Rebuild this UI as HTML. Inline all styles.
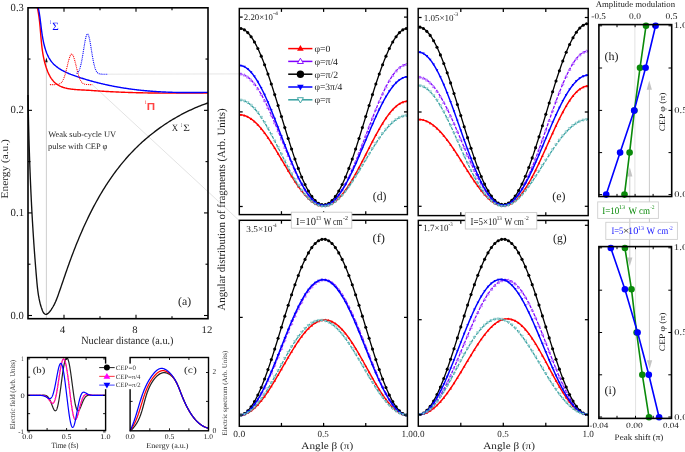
<!DOCTYPE html>
<html><head><meta charset="utf-8"><style>
html,body{margin:0;padding:0;background:#fff;width:685px;height:452px;overflow:hidden}
svg{display:block;font-family:"Liberation Serif", serif;text-rendering:geometricPrecision;will-change:transform}
</style></head><body>
<svg width="685" height="452" viewBox="0 0 685 452">
<rect width="685" height="452" fill="#fff"/>
<line x1="46.40" y1="318.00" x2="46.40" y2="60.00" stroke="#c9c9c9" stroke-width="0.90"/>
<path d="M46.4 57.5L45.1 62.3L47.7 62.3Z" fill="#111"/>
<line x1="107.70" y1="74.20" x2="239.30" y2="73.90" stroke="#e0e0e0" stroke-width="0.80"/>
<line x1="92.20" y1="84.60" x2="242.30" y2="223.40" stroke="#dcdcdc" stroke-width="0.80"/>
<path d="M28.01 95.00L28.04 96.68L28.07 98.35L28.10 100.02L28.12 101.70L28.16 103.37L28.19 105.04L28.22 106.71L28.25 108.39L28.28 110.06L28.32 111.73L28.35 113.41L28.39 115.08L28.42 116.75L28.46 118.43L28.50 120.10L28.54 121.77L28.57 123.45L28.61 125.12L28.66 126.79L28.70 128.47L28.74 130.14L28.78 131.81L28.83 133.49L28.87 135.16L28.92 136.83L28.96 138.51L29.01 140.18L29.06 141.85L29.10 143.53L29.15 145.20L29.20 146.87L29.26 148.55L29.31 150.22L29.36 151.90L29.42 153.57L29.47 155.24L29.53 156.92L29.58 158.59L29.64 160.26L29.70 161.94L29.76 163.61L29.82 165.28L29.88 166.96L29.94 168.63L30.01 170.30L30.07 171.98L30.14 173.65L30.20 175.32L30.27 177.00L30.34 178.67L30.41 180.34L30.48 182.01L30.55 183.69L30.62 185.36L30.70 187.03L30.77 188.71L30.85 190.38L30.92 192.05L31.00 193.72L31.08 195.40L31.16 197.07L31.24 198.74L31.32 200.41L31.41 202.08L31.49 203.76L31.58 205.43L31.67 207.10L31.75 208.77L31.84 210.44L31.93 212.11L32.03 213.79L32.12 215.46L32.21 217.13L32.31 218.80L32.40 220.47L32.50 222.14L32.60 223.81L32.70 225.48L32.80 227.15L32.91 228.82L33.01 230.49L33.11 232.16L33.22 233.83L33.33 235.50L33.44 237.17L33.55 238.84L33.66 240.51L33.77 242.18L33.89 243.85L34.00 245.52L34.12 247.19L34.24 248.86L34.36 250.52L34.48 252.19L34.60 253.86L34.73 255.53L34.85 257.20L34.98 258.86L35.11 260.53L35.24 262.20L35.37 263.86L35.50 265.53L35.63 267.20L35.77 268.86L35.91 270.53L36.04 272.20L36.18 273.86L36.33 275.53L36.47 277.19L36.61 278.86L36.76 280.52L36.91 282.19L37.06 283.85L37.22 285.52L37.39 287.19L37.58 288.86L37.78 290.53L38.00 292.20L38.25 293.87L38.51 295.55L38.81 297.23L39.13 298.92L39.49 300.61L39.88 302.30L40.31 304.00L40.79 305.70L41.30 307.41L41.87 309.10L42.49 310.69L43.17 312.09L43.91 313.23L44.74 314.01L45.64 314.36L46.62 314.23L47.66 313.67L48.74 312.74L49.84 311.52L50.93 310.08L51.99 308.48L53.01 306.78L53.94 305.07L54.79 303.38L55.55 301.74L56.24 300.13L56.87 298.55L57.47 296.98L58.03 295.43L58.57 293.88L59.12 292.33L59.65 290.78L60.19 289.22L60.73 287.67L61.26 286.11L61.80 284.55L62.33 282.99L62.87 281.42L63.40 279.86L63.94 278.29L64.47 276.73L65.01 275.16L65.55 273.59L66.10 272.02L66.64 270.45L67.19 268.88L67.75 267.31L68.30 265.74L68.87 264.17L69.43 262.60L70.00 261.03L70.58 259.46L71.16 257.89L71.74 256.32L72.33 254.75L72.93 253.18L73.52 251.62L74.13 250.05L74.74 248.49L75.35 246.93L75.97 245.37L76.59 243.81L77.22 242.25L77.86 240.70L78.50 239.14L79.15 237.59L79.80 236.04L80.46 234.49L81.12 232.95L81.79 231.41L82.46 229.87L83.15 228.33L83.83 226.80L84.53 225.26L85.23 223.74L85.94 222.21L86.65 220.69L87.37 219.17L88.10 217.66L88.83 216.15L89.57 214.64L90.32 213.14L91.08 211.64L91.84 210.14L92.61 208.65L93.38 207.17L94.17 205.68L94.96 204.21L95.76 202.73L96.57 201.27L97.38 199.80L98.20 198.35L99.03 196.89L99.87 195.45L100.72 194.00L101.57 192.57L102.44 191.14L103.31 189.71L104.19 188.29L105.08 186.88L105.97 185.47L106.88 184.07L107.79 182.68L108.72 181.29L109.65 179.91L110.59 178.54L111.54 177.17L112.50 175.81L113.47 174.45L114.45 173.11L115.43 171.77L116.43 170.44L117.44 169.11L118.46 167.80L119.48 166.49L120.52 165.18L121.56 163.89L122.62 162.61L123.69 161.33L124.76 160.06L125.85 158.80L126.95 157.55L128.06 156.31L129.17 155.07L130.30 153.85L131.44 152.63L132.59 151.42L133.75 150.23L134.93 149.04L136.11 147.86L137.31 146.69L138.51 145.53L139.73 144.38L140.95 143.24L142.19 142.11L143.44 140.99L144.70 139.88L145.97 138.78L147.24 137.69L148.53 136.62L149.83 135.55L151.13 134.49L152.45 133.45L153.78 132.41L155.11 131.39L156.45 130.38L157.81 129.38L159.17 128.39L160.54 127.41L161.91 126.44L163.30 125.49L164.69 124.55L166.09 123.62L167.50 122.70L168.92 121.80L170.34 120.90L171.78 120.02L173.21 119.16L174.66 118.30L176.11 117.46L177.57 116.63L179.04 115.81L180.51 115.01L181.99 114.22L183.48 113.44L184.97 112.68L186.47 111.93L187.97 111.20L189.48 110.48L190.99 109.77L192.51 109.08L194.04 108.40L195.57 107.73L197.10 107.08L198.64 106.45L200.18 105.83L201.73 105.22L203.29 104.63L204.84 104.05L206.41 103.49L207.97 102.94" fill="none" stroke="#111" stroke-width="1.35"/>
<path d="M37.40 7.86L37.56 8.61L37.71 9.35L37.86 10.10L38.00 10.85L38.14 11.61L38.27 12.36L38.40 13.11L38.52 13.87L38.64 14.63L38.76 15.39L38.87 16.15L38.97 16.92L39.08 17.68L39.17 18.45L39.27 19.22L39.36 19.99L39.45 20.76L39.54 21.53L39.62 22.30L39.70 23.08L39.78 23.85L39.86 24.63L39.93 25.40L40.00 26.18L40.08 26.96L40.15 27.74L40.21 28.52L40.28 29.30L40.35 30.08L40.41 30.86L40.48 31.65L40.54 32.43L40.61 33.21L40.67 34.00L40.74 34.78L40.81 35.57L40.87 36.35L40.94 37.13L41.01 37.92L41.08 38.70L41.15 39.49L41.22 40.27L41.29 41.06L41.37 41.84L41.45 42.63L41.53 43.41L41.61 44.20L41.69 44.98L41.78 45.76L41.87 46.55L41.97 47.33L42.06 48.11L42.17 48.89L42.27 49.67L42.38 50.45L42.49 51.23L42.61 52.01L42.73 52.79L42.86 53.56L42.99 54.34L43.12 55.11L43.26 55.89L43.41 56.66L43.56 57.43L43.72 58.20L43.88 58.97L44.05 59.74L44.23 60.50L44.41 61.27L44.60 62.03L44.80 62.79L45.00 63.55L45.21 64.31L45.43 65.07L45.65 65.82L45.88 66.57L46.13 67.33L46.37 68.08L46.63 68.82L46.90 69.57L47.17 70.30L47.46 71.04L47.75 71.77L48.06 72.49L48.38 73.20L48.71 73.91L49.05 74.60L49.40 75.29L49.76 75.96L50.14 76.63L50.53 77.28L50.93 77.92L51.35 78.54L51.79 79.15L52.23 79.75L52.70 80.33L53.18 80.89L53.67 81.43L54.18 81.96L54.71 82.46L55.25 82.95L55.81 83.41L56.39 83.86L56.98 84.28L57.59 84.69L58.21 85.08L58.84 85.45L59.49 85.80L60.15 86.13L60.82 86.44L61.51 86.73L62.21 87.00L62.91 87.26L63.63 87.50L64.36 87.72L65.09 87.93L65.84 88.12L66.59 88.30L67.35 88.47L68.12 88.62L68.89 88.76L69.67 88.89L70.46 89.01L71.25 89.12L72.05 89.22L72.85 89.31L73.66 89.40L74.46 89.47L75.28 89.54L76.09 89.60L76.90 89.66L77.72 89.72L78.53 89.77L79.35 89.81L80.17 89.85L80.98 89.90L81.80 89.94L82.61 89.97L83.42 90.01L84.23 90.05L85.03 90.09L85.83 90.14L86.63 90.18L87.42 90.23L88.21 90.28L89.00 90.32L89.78 90.37L90.56 90.42L91.34 90.48L92.12 90.53L92.90 90.58L93.67 90.63L94.44 90.69L95.22 90.74L95.99 90.79L96.76 90.85L97.53 90.90L98.30 90.95L99.07 91.00L99.84 91.06L100.61 91.11L101.38 91.16L102.15 91.20L102.92 91.25L103.69 91.30L104.47 91.35L105.24 91.39L106.01 91.44L106.78 91.48L107.55 91.52L108.33 91.57L109.10 91.61L109.87 91.65L110.65 91.69L111.42 91.73L112.20 91.77L112.97 91.81L113.74 91.85L114.52 91.88L115.29 91.92L116.07 91.96L116.84 91.99L117.62 92.03L118.39 92.06L119.17 92.09L119.94 92.13L120.72 92.16L121.50 92.19L122.27 92.22L123.05 92.25L123.83 92.28L124.60 92.31L125.38 92.34L126.16 92.37L126.93 92.39L127.71 92.42L128.49 92.45L129.27 92.47L130.04 92.50L130.82 92.52L131.60 92.54L132.38 92.57L133.16 92.59L133.94 92.61L134.71 92.63L135.49 92.65L136.27 92.68L137.05 92.70L137.83 92.71L138.61 92.73L139.39 92.75L140.17 92.77L140.95 92.79L141.73 92.81L142.50 92.82L143.28 92.84L144.06 92.85L144.84 92.87L145.62 92.88L146.40 92.90L147.18 92.91L147.96 92.93L148.74 92.94L149.52 92.95L150.30 92.96L151.08 92.98L151.87 92.99L152.65 93.00L153.43 93.01L154.21 93.02L154.99 93.03L155.77 93.04L156.55 93.05L157.33 93.06L158.11 93.06L158.89 93.07L159.67 93.08L160.45 93.09L161.23 93.09L162.01 93.10L162.79 93.11L163.58 93.11L164.36 93.12L165.14 93.12L165.92 93.13L166.70 93.13L167.48 93.14L168.26 93.14L169.04 93.15L169.82 93.15L170.60 93.15L171.38 93.16L172.16 93.16L172.94 93.16L173.73 93.16L174.51 93.16L175.29 93.17L176.07 93.17L176.85 93.17L177.63 93.17L178.41 93.17L179.19 93.17L179.97 93.17L180.75 93.17L181.53 93.17L182.31 93.17L183.09 93.17L183.87 93.17L184.65 93.17L185.43 93.17L186.21 93.17L186.99 93.17L187.77 93.17L188.55 93.16L189.33 93.16L190.11 93.16L190.89 93.16L191.67 93.16L192.45 93.15L193.23 93.15L194.00 93.15L194.78 93.15L195.56 93.14L196.34 93.14L197.12 93.14L197.90 93.14L198.68 93.13L199.45 93.13L200.23 93.13L201.01 93.12L201.79 93.12L202.56 93.12L203.34 93.11L204.12 93.11L204.90 93.11L205.67 93.10L206.45 93.10L207.23 93.10L208.00 93.09" fill="none" stroke="#f00" stroke-width="1.4"/>
<path d="M38.29 7.85L38.43 8.54L38.57 9.22L38.71 9.92L38.84 10.61L38.97 11.31L39.09 12.01L39.21 12.71L39.33 13.41L39.44 14.12L39.55 14.83L39.66 15.54L39.76 16.25L39.86 16.96L39.96 17.68L40.06 18.40L40.15 19.11L40.25 19.84L40.34 20.56L40.43 21.28L40.52 22.01L40.61 22.73L40.70 23.46L40.79 24.19L40.87 24.92L40.96 25.65L41.05 26.38L41.14 27.11L41.23 27.85L41.33 28.58L41.42 29.32L41.51 30.05L41.61 30.79L41.71 31.53L41.81 32.26L41.92 33.00L42.02 33.74L42.13 34.48L42.25 35.21L42.36 35.95L42.49 36.69L42.61 37.43L42.74 38.17L42.87 38.90L43.01 39.64L43.15 40.38L43.30 41.12L43.45 41.85L43.61 42.59L43.78 43.32L43.95 44.06L44.13 44.79L44.31 45.53L44.50 46.26L44.70 46.99L44.91 47.72L45.12 48.44L45.34 49.16L45.57 49.88L45.81 50.60L46.05 51.30L46.31 52.01L46.57 52.71L46.85 53.40L47.13 54.08L47.43 54.76L47.73 55.43L48.05 56.09L48.38 56.74L48.71 57.38L49.06 58.01L49.43 58.63L49.80 59.24L50.19 59.83L50.59 60.42L51.00 60.99L51.43 61.55L51.87 62.10L52.32 62.63L52.78 63.15L53.26 63.66L53.75 64.16L54.25 64.64L54.76 65.12L55.28 65.58L55.81 66.04L56.35 66.48L56.90 66.91L57.46 67.33L58.03 67.75L58.60 68.15L59.19 68.55L59.78 68.93L60.39 69.31L61.00 69.68L61.61 70.04L62.24 70.39L62.87 70.73L63.51 71.07L64.15 71.40L64.80 71.73L65.46 72.04L66.12 72.35L66.78 72.66L67.45 72.95L68.13 73.25L68.80 73.53L69.49 73.82L70.17 74.09L70.86 74.37L71.55 74.63L72.25 74.90L72.94 75.16L73.64 75.41L74.34 75.67L75.04 75.92L75.74 76.16L76.45 76.41L77.15 76.65L77.86 76.89L78.56 77.13L79.26 77.36L79.97 77.60L80.67 77.83L81.38 78.06L82.08 78.28L82.79 78.51L83.50 78.73L84.20 78.95L84.91 79.17L85.62 79.38L86.32 79.60L87.03 79.81L87.74 80.02L88.45 80.22L89.15 80.43L89.86 80.63L90.57 80.83L91.28 81.03L91.99 81.23L92.70 81.42L93.41 81.62L94.12 81.81L94.83 82.00L95.54 82.18L96.25 82.37L96.96 82.55L97.67 82.73L98.39 82.91L99.10 83.08L99.81 83.26L100.52 83.43L101.23 83.60L101.95 83.77L102.66 83.94L103.37 84.10L104.09 84.27L104.80 84.43L105.51 84.59L106.23 84.74L106.94 84.90L107.66 85.05L108.37 85.20L109.09 85.35L109.80 85.50L110.52 85.65L111.24 85.79L111.95 85.94L112.67 86.08L113.39 86.22L114.10 86.35L114.82 86.49L115.54 86.62L116.25 86.75L116.97 86.88L117.69 87.01L118.41 87.14L119.13 87.26L119.85 87.39L120.56 87.51L121.28 87.63L122.00 87.75L122.72 87.86L123.44 87.98L124.16 88.09L124.88 88.20L125.60 88.31L126.32 88.42L127.04 88.53L127.76 88.63L128.49 88.73L129.21 88.83L129.93 88.94L130.65 89.03L131.37 89.13L132.09 89.23L132.82 89.32L133.54 89.41L134.26 89.50L134.98 89.59L135.71 89.68L136.43 89.77L137.15 89.85L137.88 89.93L138.60 90.01L139.33 90.09L140.05 90.17L140.77 90.25L141.50 90.33L142.22 90.40L142.95 90.47L143.67 90.55L144.40 90.62L145.12 90.68L145.85 90.75L146.58 90.82L147.30 90.88L148.03 90.94L148.75 91.01L149.48 91.07L150.21 91.13L150.93 91.18L151.66 91.24L152.39 91.30L153.12 91.35L153.84 91.40L154.57 91.45L155.30 91.50L156.03 91.55L156.75 91.60L157.48 91.65L158.21 91.69L158.94 91.73L159.67 91.78L160.40 91.82L161.13 91.86L161.86 91.90L162.58 91.93L163.31 91.97L164.04 92.01L164.77 92.04L165.50 92.07L166.23 92.10L166.96 92.14L167.69 92.16L168.42 92.19L169.15 92.22L169.88 92.25L170.62 92.27L171.35 92.30L172.08 92.32L172.81 92.34L173.54 92.36L174.27 92.38L175.00 92.40L175.73 92.42L176.47 92.43L177.20 92.45L177.93 92.47L178.66 92.48L179.39 92.49L180.13 92.50L180.86 92.51L181.59 92.52L182.32 92.53L183.06 92.54L183.79 92.55L184.52 92.55L185.26 92.56L185.99 92.56L186.72 92.57L187.46 92.57L188.19 92.57L188.92 92.57L189.66 92.57L190.39 92.57L191.13 92.57L191.86 92.57L192.59 92.56L193.33 92.56L194.06 92.55L194.80 92.55L195.53 92.54L196.27 92.53L197.00 92.53L197.74 92.52L198.47 92.51L199.21 92.50L199.94 92.48L200.68 92.47L201.41 92.46L202.15 92.45L202.88 92.43L203.62 92.42L204.35 92.40L205.09 92.39L205.82 92.37L206.56 92.35L207.30 92.33L208.03 92.32" fill="none" stroke="#00f" stroke-width="1.4"/>
<path d="M49.90 84.60L50.17 84.60L50.43 84.60L50.70 84.60L50.96 84.60L51.23 84.60L51.50 84.60L51.76 84.60L52.03 84.60L52.29 84.60L52.56 84.60L52.83 84.60L53.09 84.60L53.36 84.59L53.62 84.59L53.89 84.59L54.16 84.59L54.42 84.58L54.69 84.58L54.95 84.57L55.22 84.57L55.49 84.56L55.75 84.55L56.02 84.54L56.28 84.52L56.55 84.51L56.82 84.49L57.08 84.46L57.35 84.43L57.62 84.39L57.88 84.35L58.15 84.30L58.41 84.24L58.68 84.17L58.95 84.09L59.21 84.00L59.48 83.89L59.74 83.77L60.01 83.63L60.28 83.46L60.54 83.28L60.81 83.07L61.07 82.83L61.34 82.56L61.61 82.26L61.87 81.92L62.14 81.55L62.40 81.14L62.67 80.69L62.94 80.20L63.20 79.66L63.47 79.07L63.73 78.43L64.00 77.75L64.27 77.02L64.53 76.24L64.80 75.42L65.06 74.54L65.33 73.63L65.60 72.67L65.86 71.68L66.13 70.65L66.39 69.59L66.66 68.52L66.93 67.42L67.19 66.32L67.46 65.22L67.72 64.12L67.99 63.04L68.26 61.98L68.52 60.95L68.79 59.96L69.05 59.03L69.32 58.15L69.59 57.35L69.85 56.61L70.12 55.96L70.38 55.40L70.65 54.93L70.92 54.57L71.18 54.30L71.45 54.15L71.72 54.10L71.98 54.16L72.25 54.33L72.51 54.60L72.78 54.98L73.05 55.46L73.31 56.03L73.58 56.69L73.84 57.43L74.11 58.25L74.38 59.13L74.64 60.07L74.91 61.06L75.17 62.10L75.44 63.16L75.71 64.24L75.97 65.34L76.24 66.45L76.50 67.55L76.77 68.64L77.04 69.71L77.30 70.77L77.57 71.79L77.83 72.78L78.10 73.73L78.37 74.64L78.63 75.51L78.90 76.33L79.16 77.11L79.43 77.83L79.70 78.51L79.96 79.14L80.23 79.72L80.49 80.25L80.76 80.74L81.03 81.19L81.29 81.60L81.56 81.96L81.82 82.30L82.09 82.59L82.36 82.86L82.62 83.09L82.89 83.30L83.15 83.48L83.42 83.64L83.69 83.78L83.95 83.91L84.22 84.01L84.48 84.10L84.75 84.18L85.02 84.25L85.28 84.31L85.55 84.36L85.82 84.40L86.08 84.43L86.35 84.46L86.61 84.49L86.88 84.51L87.15 84.53L87.41 84.54L87.68 84.55L87.94 84.56L88.21 84.57L88.48 84.57L88.74 84.58L89.01 84.58L89.27 84.59L89.54 84.59L89.81 84.59L90.07 84.59L90.34 84.60L90.60 84.60L90.87 84.60L91.14 84.60L91.40 84.60L91.67 84.60L91.93 84.60L92.20 84.60" fill="none" stroke="#f00" stroke-width="1.1" stroke-dasharray="1 0.9"/>
<path d="M76.60 73.41L76.80 73.29L76.99 73.16L77.19 73.01L77.38 72.84L77.58 72.65L77.77 72.44L77.97 72.20L78.16 71.95L78.36 71.66L78.56 71.34L78.75 71.00L78.95 70.62L79.14 70.21L79.34 69.75L79.53 69.27L79.73 68.74L79.93 68.17L80.12 67.56L80.32 66.90L80.51 66.20L80.71 65.45L80.90 64.66L81.10 63.83L81.29 62.95L81.49 62.02L81.69 61.05L81.88 60.04L82.08 59.00L82.27 57.91L82.47 56.79L82.66 55.65L82.86 54.48L83.05 53.28L83.25 52.07L83.45 50.85L83.64 49.63L83.84 48.40L84.03 47.18L84.23 45.98L84.42 44.80L84.62 43.64L84.82 42.52L85.01 41.45L85.21 40.42L85.40 39.44L85.60 38.53L85.79 37.69L85.99 36.92L86.18 36.24L86.38 35.63L86.58 35.12L86.77 34.70L86.97 34.38L87.16 34.15L87.36 34.03L87.55 34.00L87.75 34.08L87.94 34.26L88.14 34.54L88.34 34.92L88.53 35.39L88.73 35.95L88.92 36.60L89.12 37.33L89.31 38.14L89.51 39.02L89.71 39.97L89.90 40.97L90.10 42.03L90.29 43.13L90.49 44.27L90.68 45.44L90.88 46.64L91.07 47.85L91.27 49.07L91.47 50.30L91.66 51.52L91.86 52.73L92.05 53.94L92.25 55.12L92.44 56.28L92.64 57.41L92.83 58.51L93.03 59.57L93.23 60.60L93.42 61.59L93.62 62.53L93.81 63.43L94.01 64.29L94.20 65.10L94.40 65.87L94.59 66.59L94.79 67.26L94.99 67.90L95.18 68.48L95.38 69.03L95.57 69.54L95.77 70.01L95.96 70.44L96.16 70.83L96.36 71.19L96.55 71.52L96.75 71.82L96.94 72.09L97.14 72.34L97.33 72.56L97.53 72.75L97.72 72.93L97.92 73.09L98.12 73.23L98.31 73.36L98.51 73.47L98.70 73.57L98.90 73.65L99.09 73.73L99.29 73.79L99.48 73.85L99.68 73.90L99.88 73.95L100.07 73.98L100.27 74.02L100.46 74.04L100.66 74.07L100.85 74.09L101.05 74.11L101.25 74.12L101.44 74.13L101.64 74.15L101.83 74.15L102.03 74.16L102.22 74.17L102.42 74.17L102.61 74.18L102.81 74.18L103.01 74.19L103.20 74.19L103.40 74.19L103.59 74.19L103.79 74.19L103.98 74.19L104.18 74.20L104.37 74.20L104.57 74.20L104.77 74.20L104.96 74.20L105.16 74.20L105.35 74.20L105.55 74.20L105.74 74.20L105.94 74.20L106.14 74.20L106.33 74.20L106.53 74.20L106.72 74.20L106.92 74.20L107.11 74.20L107.31 74.20L107.50 74.20L107.70 74.20" fill="none" stroke="#00f" stroke-width="1.1" stroke-dasharray="1 0.9"/>
<rect x="28.00" y="7.80" width="180.00" height="310.90" fill="none" stroke="#000" stroke-width="1.60"/>
<line x1="64.00" y1="318.70" x2="64.00" y2="314.70" stroke="#000" stroke-width="1.10"/>
<line x1="64.00" y1="7.80" x2="64.00" y2="11.80" stroke="#000" stroke-width="1.10"/>
<line x1="136.00" y1="318.70" x2="136.00" y2="314.70" stroke="#000" stroke-width="1.10"/>
<line x1="136.00" y1="7.80" x2="136.00" y2="11.80" stroke="#000" stroke-width="1.10"/>
<line x1="100.00" y1="318.70" x2="100.00" y2="316.20" stroke="#000" stroke-width="1.10"/>
<line x1="100.00" y1="7.80" x2="100.00" y2="10.30" stroke="#000" stroke-width="1.10"/>
<line x1="172.00" y1="318.70" x2="172.00" y2="316.20" stroke="#000" stroke-width="1.10"/>
<line x1="172.00" y1="7.80" x2="172.00" y2="10.30" stroke="#000" stroke-width="1.10"/>
<line x1="28.00" y1="315.50" x2="32.00" y2="315.50" stroke="#000" stroke-width="1.10"/>
<line x1="208.00" y1="315.50" x2="204.00" y2="315.50" stroke="#000" stroke-width="1.10"/>
<line x1="28.00" y1="212.92" x2="32.00" y2="212.92" stroke="#000" stroke-width="1.10"/>
<line x1="208.00" y1="212.92" x2="204.00" y2="212.92" stroke="#000" stroke-width="1.10"/>
<line x1="28.00" y1="110.34" x2="32.00" y2="110.34" stroke="#000" stroke-width="1.10"/>
<line x1="208.00" y1="110.34" x2="204.00" y2="110.34" stroke="#000" stroke-width="1.10"/>
<line x1="28.00" y1="264.21" x2="30.50" y2="264.21" stroke="#000" stroke-width="1.10"/>
<line x1="208.00" y1="264.21" x2="205.50" y2="264.21" stroke="#000" stroke-width="1.10"/>
<line x1="28.00" y1="161.63" x2="30.50" y2="161.63" stroke="#000" stroke-width="1.10"/>
<line x1="208.00" y1="161.63" x2="205.50" y2="161.63" stroke="#000" stroke-width="1.10"/>
<line x1="28.00" y1="59.05" x2="30.50" y2="59.05" stroke="#000" stroke-width="1.10"/>
<line x1="208.00" y1="59.05" x2="205.50" y2="59.05" stroke="#000" stroke-width="1.10"/>
<text x="10.60" y="318.60" font-size="10.80" fill="#222" textLength="13.20" lengthAdjust="spacingAndGlyphs">0.0</text>
<text x="10.59" y="216.02" font-size="10.80" fill="#222" textLength="13.46" lengthAdjust="spacingAndGlyphs">0.1</text>
<text x="10.59" y="113.44" font-size="10.80" fill="#222" textLength="13.40" lengthAdjust="spacingAndGlyphs">0.2</text>
<text x="10.60" y="10.70" font-size="10.80" fill="#222" textLength="13.22" lengthAdjust="spacingAndGlyphs">0.3</text>
<text x="59.89" y="332.70" font-size="10.20" fill="#222" textLength="5.49" lengthAdjust="spacingAndGlyphs">4</text>
<text x="132.20" y="332.70" font-size="10.20" fill="#222" textLength="5.31" lengthAdjust="spacingAndGlyphs">8</text>
<text x="201.56" y="332.70" font-size="10.20" fill="#222" textLength="10.74" lengthAdjust="spacingAndGlyphs">12</text>
<text x="81.21" y="343.60" font-size="11.00" fill="#222" textLength="92.24" lengthAdjust="spacingAndGlyphs">Nuclear distance (a.u.)</text>
<text transform="translate(7.60 198.10) rotate(-90)" x="-0.33" y="0" font-size="10.30" fill="#222" textLength="59.22" lengthAdjust="spacingAndGlyphs">Energy (a.u.)</text>
<text x="178.08" y="304.80" font-size="11.50" fill="#222" textLength="13.03" lengthAdjust="spacingAndGlyphs">(a)</text>
<text x="48.19" y="137.40" font-size="8.40" fill="#222" textLength="68.00" lengthAdjust="spacingAndGlyphs">Weak sub-cycle UV</text>
<text x="48.06" y="148.50" font-size="8.40" fill="#222" textLength="59.26" lengthAdjust="spacingAndGlyphs">pulse with CEP φ</text>
<text x="49.78" y="24.00" font-size="5.60" fill="#33f" textLength="1.36" lengthAdjust="spacingAndGlyphs" font-weight="bold">1</text>
<text x="52.26" y="29.90" font-size="11.00" fill="#00f" textLength="6.50" lengthAdjust="spacingAndGlyphs">Σ</text>
<text x="144.70" y="104.00" font-size="5.40" fill="#f55" textLength="1.90" lengthAdjust="spacingAndGlyphs" font-weight="bold">1</text>
<text x="146.83" y="109.80" font-size="10.20" fill="#f44" textLength="8.35" lengthAdjust="spacingAndGlyphs" font-weight="bold" font-family="Liberation Sans, sans-serif">Π</text>
<text x="171.81" y="131.30" font-size="9.70" fill="#222" textLength="6.35" lengthAdjust="spacingAndGlyphs">X</text>
<text x="180.75" y="126.60" font-size="5.80" fill="#222" textLength="1.42" lengthAdjust="spacingAndGlyphs">1</text>
<text x="183.16" y="131.30" font-size="9.70" fill="#222" textLength="6.62" lengthAdjust="spacingAndGlyphs">Σ</text>
<path d="M239.30 114.70L239.72 114.71L240.14 114.72L240.56 114.75L240.99 114.79L241.41 114.84L241.83 114.90L242.25 114.97L242.67 115.05L243.09 115.14L243.52 115.24L243.94 115.35L244.36 115.48L244.78 115.61L245.20 115.76L245.62 115.92L246.04 116.08L246.47 116.26L246.89 116.45L247.31 116.64L247.73 116.85L248.15 117.07L248.57 117.30L248.99 117.54L249.42 117.79L249.84 118.05L250.26 118.32L250.68 118.60L251.10 118.89L251.52 119.19L251.95 119.50L252.37 119.82L252.79 120.15L253.21 120.49L253.63 120.83L254.05 121.19L254.47 121.56L254.90 121.94L255.32 122.32L255.74 122.72L256.16 123.12L256.58 123.53L257.00 123.95L257.42 124.38L257.85 124.82L258.27 125.27L258.69 125.73L259.11 126.19L259.53 126.66L259.95 127.14L260.38 127.63L260.80 128.13L261.22 128.63L261.64 129.14L262.06 129.66L262.48 130.19L262.90 130.73L263.33 131.27L263.75 131.82L264.17 132.37L264.59 132.93L265.01 133.50L265.43 134.08L265.85 134.66L266.28 135.25L266.70 135.84L267.12 136.44L267.54 137.05L267.96 137.66L268.38 138.28L268.81 138.90L269.23 139.53L269.65 140.16L270.07 140.80L270.49 141.45L270.91 142.09L271.33 142.75L271.76 143.40L272.18 144.06L272.60 144.73L273.02 145.40L273.44 146.07L273.86 146.75L274.28 147.43L274.71 148.11L275.13 148.80L275.55 149.49L275.97 150.18L276.39 150.88L276.81 151.57L277.24 152.27L277.66 152.98L278.08 153.68L278.50 154.39L278.92 155.09L279.34 155.80L279.76 156.51L280.19 157.22L280.61 157.93L281.03 158.65L281.45 159.36L281.87 160.08L282.29 160.79L282.71 161.50L283.14 162.22L283.56 162.93L283.98 163.65L284.40 164.36L284.82 165.07L285.24 165.78L285.67 166.49L286.09 167.20L286.51 167.91L286.93 168.62L287.35 169.32L287.77 170.02L288.19 170.72L288.62 171.42L289.04 172.11L289.46 172.81L289.88 173.50L290.30 174.18L290.72 174.86L291.14 175.54L291.57 176.22L291.99 176.89L292.41 177.56L292.83 178.23L293.25 178.89L293.67 179.54L294.10 180.19L294.52 180.84L294.94 181.48L295.36 182.12L295.78 182.75L296.20 183.38L296.62 184.00L297.05 184.61L297.47 185.22L297.89 185.83L298.31 186.42L298.73 187.01L299.15 187.60L299.57 188.18L300.00 188.75L300.42 189.31L300.84 189.87L301.26 190.42L301.68 190.96L302.10 191.49L302.52 192.02L302.95 192.54L303.37 193.05L303.79 193.55L304.21 194.05L304.63 194.53L305.05 195.01L305.48 195.48L305.90 195.94L306.32 196.39L306.74 196.84L307.16 197.27L307.58 197.69L308.00 198.11L308.43 198.51L308.85 198.91L309.27 199.30L309.69 199.67L310.11 200.04L310.53 200.40L310.95 200.74L311.38 201.08L311.80 201.40L312.22 201.72L312.64 202.02L313.06 202.32L313.48 202.60L313.91 202.87L314.33 203.14L314.75 203.39L315.17 203.63L315.59 203.85L316.01 204.07L316.43 204.28L316.86 204.47L317.28 204.66L317.70 204.83L318.12 204.99L318.54 205.14L318.96 205.27L319.38 205.40L319.81 205.51L320.23 205.62L320.65 205.71L321.07 205.78L321.49 205.85L321.91 205.90L322.34 205.95L322.76 205.98L323.18 205.99L323.60 206.00L324.02 205.99L324.44 205.98L324.86 205.95L325.29 205.90L325.71 205.85L326.13 205.78L326.55 205.70L326.97 205.61L327.39 205.51L327.81 205.39L328.24 205.27L328.66 205.13L329.08 204.97L329.50 204.81L329.92 204.63L330.34 204.45L330.77 204.25L331.19 204.03L331.61 203.81L332.03 203.57L332.45 203.33L332.87 203.07L333.29 202.80L333.72 202.51L334.14 202.22L334.56 201.91L334.98 201.59L335.40 201.26L335.82 200.92L336.25 200.57L336.67 200.21L337.09 199.83L337.51 199.45L337.93 199.05L338.35 198.64L338.77 198.22L339.20 197.79L339.62 197.35L340.04 196.90L340.46 196.44L340.88 195.97L341.30 195.48L341.72 194.99L342.15 194.49L342.57 193.97L342.99 193.45L343.41 192.92L343.83 192.38L344.25 191.82L344.67 191.26L345.10 190.69L345.52 190.11L345.94 189.52L346.36 188.93L346.78 188.32L347.20 187.70L347.63 187.08L348.05 186.45L348.47 185.81L348.89 185.16L349.31 184.50L349.73 183.84L350.15 183.17L350.58 182.49L351.00 181.80L351.42 181.11L351.84 180.41L352.26 179.70L352.68 178.99L353.11 178.27L353.53 177.54L353.95 176.81L354.37 176.07L354.79 175.33L355.21 174.58L355.63 173.82L356.06 173.06L356.48 172.30L356.90 171.53L357.32 170.75L357.74 169.97L358.16 169.19L358.58 168.40L359.01 167.61L359.43 166.82L359.85 166.02L360.27 165.22L360.69 164.41L361.11 163.61L361.53 162.80L361.96 161.98L362.38 161.17L362.80 160.35L363.22 159.53L363.64 158.71L364.06 157.89L364.49 157.06L364.91 156.24L365.33 155.41L365.75 154.59L366.17 153.76L366.59 152.94L367.01 152.11L367.44 151.28L367.86 150.46L368.28 149.63L368.70 148.81L369.12 147.98L369.54 147.16L369.96 146.34L370.39 145.52L370.81 144.70L371.23 143.89L371.65 143.07L372.07 142.26L372.49 141.45L372.92 140.65L373.34 139.85L373.76 139.05L374.18 138.25L374.60 137.46L375.02 136.67L375.44 135.89L375.87 135.11L376.29 134.33L376.71 133.56L377.13 132.80L377.55 132.04L377.97 131.28L378.39 130.53L378.82 129.79L379.24 129.05L379.66 128.32L380.08 127.60L380.50 126.88L380.92 126.16L381.35 125.46L381.77 124.76L382.19 124.07L382.61 123.38L383.03 122.71L383.45 122.04L383.87 121.38L384.30 120.72L384.72 120.08L385.14 119.44L385.56 118.82L385.98 118.20L386.40 117.59L386.82 116.99L387.25 116.39L387.67 115.81L388.09 115.24L388.51 114.68L388.93 114.12L389.35 113.58L389.78 113.04L390.20 112.52L390.62 112.01L391.04 111.51L391.46 111.01L391.88 110.53L392.30 110.06L392.73 109.60L393.15 109.16L393.57 108.72L393.99 108.29L394.41 107.88L394.83 107.48L395.25 107.09L395.68 106.71L396.10 106.34L396.52 105.99L396.94 105.64L397.36 105.31L397.78 105.00L398.21 104.69L398.63 104.40L399.05 104.11L399.47 103.85L399.89 103.59L400.31 103.35L400.73 103.12L401.16 102.90L401.58 102.69L402.00 102.50L402.42 102.32L402.84 102.16L403.26 102.01L403.68 101.87L404.11 101.74L404.53 101.63L404.95 101.53L405.37 101.44L405.79 101.37L406.21 101.31L406.64 101.26L407.06 101.23L407.48 101.21L407.90 101.20" fill="none" stroke="#ff0000" stroke-width="1.45"/>
<path d="M240.99 113.44l1.3 2.35h-2.6zM244.36 114.13l1.3 2.35h-2.6zM247.73 115.50l1.3 2.35h-2.6zM251.10 117.54l1.3 2.35h-2.6zM254.47 120.21l1.3 2.35h-2.6zM257.85 123.47l1.3 2.35h-2.6zM261.22 127.28l1.3 2.35h-2.6zM264.59 131.58l1.3 2.35h-2.6zM267.96 136.31l1.3 2.35h-2.6zM271.33 141.40l1.3 2.35h-2.6zM274.71 146.76l1.3 2.35h-2.6zM278.08 152.33l1.3 2.35h-2.6zM281.45 158.01l1.3 2.35h-2.6zM284.82 163.72l1.3 2.35h-2.6zM288.19 169.37l1.3 2.35h-2.6zM291.57 174.87l1.3 2.35h-2.6zM294.94 180.13l1.3 2.35h-2.6zM298.31 185.07l1.3 2.35h-2.6zM301.68 189.61l1.3 2.35h-2.6zM305.05 193.66l1.3 2.35h-2.6zM308.43 197.16l1.3 2.35h-2.6zM311.80 200.05l1.3 2.35h-2.6zM315.17 202.28l1.3 2.35h-2.6zM318.54 203.79l1.3 2.35h-2.6zM321.91 204.55l1.3 2.35h-2.6zM325.29 204.55l1.3 2.35h-2.6zM328.66 203.78l1.3 2.35h-2.6zM332.03 202.22l1.3 2.35h-2.6zM335.40 199.91l1.3 2.35h-2.6zM338.77 196.87l1.3 2.35h-2.6zM342.15 193.14l1.3 2.35h-2.6zM345.52 188.76l1.3 2.35h-2.6zM348.89 183.81l1.3 2.35h-2.6zM352.26 178.35l1.3 2.35h-2.6zM355.63 172.47l1.3 2.35h-2.6zM359.01 166.26l1.3 2.35h-2.6zM362.38 159.82l1.3 2.35h-2.6zM365.75 153.24l1.3 2.35h-2.6zM369.12 146.63l1.3 2.35h-2.6zM372.49 140.10l1.3 2.35h-2.6zM375.87 133.76l1.3 2.35h-2.6zM379.24 127.70l1.3 2.35h-2.6zM382.61 122.03l1.3 2.35h-2.6zM385.98 116.85l1.3 2.35h-2.6zM389.35 112.23l1.3 2.35h-2.6zM392.73 108.25l1.3 2.35h-2.6zM396.10 104.99l1.3 2.35h-2.6zM399.47 102.50l1.3 2.35h-2.6zM402.84 100.81l1.3 2.35h-2.6zM406.21 99.96l1.3 2.35h-2.6z" fill="#ff0000"/>
<path d="M239.30 73.90L239.72 73.91L240.14 73.93L240.56 73.97L240.99 74.03L241.41 74.10L241.83 74.19L242.25 74.29L242.67 74.41L243.09 74.55L243.52 74.70L243.94 74.86L244.36 75.05L244.78 75.24L245.20 75.46L245.62 75.69L246.04 75.93L246.47 76.19L246.89 76.47L247.31 76.76L247.73 77.07L248.15 77.39L248.57 77.73L248.99 78.08L249.42 78.44L249.84 78.83L250.26 79.22L250.68 79.63L251.10 80.06L251.52 80.50L251.95 80.96L252.37 81.43L252.79 81.91L253.21 82.41L253.63 82.92L254.05 83.44L254.47 83.98L254.90 84.53L255.32 85.10L255.74 85.68L256.16 86.27L256.58 86.88L257.00 87.49L257.42 88.13L257.85 88.77L258.27 89.43L258.69 90.09L259.11 90.77L259.53 91.47L259.95 92.17L260.38 92.89L260.80 93.61L261.22 94.35L261.64 95.10L262.06 95.86L262.48 96.63L262.90 97.42L263.33 98.21L263.75 99.01L264.17 99.82L264.59 100.65L265.01 101.48L265.43 102.32L265.85 103.17L266.28 104.03L266.70 104.90L267.12 105.77L267.54 106.66L267.96 107.55L268.38 108.45L268.81 109.36L269.23 110.28L269.65 111.20L270.07 112.13L270.49 113.07L270.91 114.02L271.33 114.97L271.76 115.92L272.18 116.89L272.60 117.86L273.02 118.83L273.44 119.81L273.86 120.79L274.28 121.78L274.71 122.78L275.13 123.77L275.55 124.78L275.97 125.78L276.39 126.79L276.81 127.80L277.24 128.82L277.66 129.84L278.08 130.86L278.50 131.88L278.92 132.91L279.34 133.93L279.76 134.96L280.19 135.99L280.61 137.03L281.03 138.06L281.45 139.09L281.87 140.12L282.29 141.16L282.71 142.19L283.14 143.22L283.56 144.25L283.98 145.28L284.40 146.31L284.82 147.34L285.24 148.37L285.67 149.39L286.09 150.41L286.51 151.43L286.93 152.45L287.35 153.47L287.77 154.48L288.19 155.48L288.62 156.49L289.04 157.49L289.46 158.48L289.88 159.47L290.30 160.46L290.72 161.44L291.14 162.42L291.57 163.39L291.99 164.35L292.41 165.31L292.83 166.27L293.25 167.21L293.67 168.15L294.10 169.09L294.52 170.01L294.94 170.93L295.36 171.84L295.78 172.75L296.20 173.64L296.62 174.53L297.05 175.41L297.47 176.28L297.89 177.14L298.31 177.99L298.73 178.83L299.15 179.66L299.57 180.49L300.00 181.30L300.42 182.10L300.84 182.90L301.26 183.68L301.68 184.45L302.10 185.21L302.52 185.96L302.95 186.70L303.37 187.42L303.79 188.14L304.21 188.84L304.63 189.53L305.05 190.21L305.48 190.87L305.90 191.53L306.32 192.17L306.74 192.79L307.16 193.41L307.58 194.01L308.00 194.60L308.43 195.17L308.85 195.73L309.27 196.27L309.69 196.81L310.11 197.32L310.53 197.83L310.95 198.31L311.38 198.79L311.80 199.25L312.22 199.69L312.64 200.12L313.06 200.54L313.48 200.93L313.91 201.32L314.33 201.69L314.75 202.04L315.17 202.37L315.59 202.70L316.01 203.00L316.43 203.29L316.86 203.56L317.28 203.82L317.70 204.06L318.12 204.29L318.54 204.49L318.96 204.69L319.38 204.86L319.81 205.02L320.23 205.16L320.65 205.29L321.07 205.40L321.49 205.49L321.91 205.57L322.34 205.62L322.76 205.67L323.18 205.69L323.60 205.70L324.02 205.69L324.44 205.67L324.86 205.62L325.29 205.57L325.71 205.49L326.13 205.40L326.55 205.29L326.97 205.16L327.39 205.02L327.81 204.86L328.24 204.68L328.66 204.49L329.08 204.28L329.50 204.05L329.92 203.80L330.34 203.54L330.77 203.27L331.19 202.97L331.61 202.66L332.03 202.34L332.45 201.99L332.87 201.64L333.29 201.26L333.72 200.87L334.14 200.46L334.56 200.04L334.98 199.60L335.40 199.15L335.82 198.68L336.25 198.19L336.67 197.69L337.09 197.17L337.51 196.64L337.93 196.10L338.35 195.53L338.77 194.96L339.20 194.37L339.62 193.76L340.04 193.14L340.46 192.51L340.88 191.86L341.30 191.20L341.72 190.52L342.15 189.83L342.57 189.13L342.99 188.41L343.41 187.68L343.83 186.94L344.25 186.18L344.67 185.42L345.10 184.64L345.52 183.84L345.94 183.04L346.36 182.22L346.78 181.39L347.20 180.55L347.63 179.70L348.05 178.84L348.47 177.97L348.89 177.08L349.31 176.19L349.73 175.28L350.15 174.37L350.58 173.44L351.00 172.51L351.42 171.57L351.84 170.61L352.26 169.65L352.68 168.68L353.11 167.70L353.53 166.72L353.95 165.72L354.37 164.72L354.79 163.71L355.21 162.69L355.63 161.67L356.06 160.63L356.48 159.60L356.90 158.55L357.32 157.50L357.74 156.45L358.16 155.39L358.58 154.32L359.01 153.25L359.43 152.17L359.85 151.09L360.27 150.01L360.69 148.92L361.11 147.83L361.53 146.73L361.96 145.64L362.38 144.54L362.80 143.43L363.22 142.33L363.64 141.22L364.06 140.11L364.49 139.00L364.91 137.89L365.33 136.77L365.75 135.66L366.17 134.55L366.59 133.43L367.01 132.32L367.44 131.21L367.86 130.09L368.28 128.98L368.70 127.87L369.12 126.76L369.54 125.66L369.96 124.55L370.39 123.45L370.81 122.35L371.23 121.26L371.65 120.16L372.07 119.08L372.49 117.99L372.92 116.91L373.34 115.83L373.76 114.76L374.18 113.69L374.60 112.63L375.02 111.57L375.44 110.52L375.87 109.48L376.29 108.44L376.71 107.41L377.13 106.38L377.55 105.36L377.97 104.35L378.39 103.35L378.82 102.35L379.24 101.37L379.66 100.39L380.08 99.42L380.50 98.45L380.92 97.50L381.35 96.56L381.77 95.62L382.19 94.70L382.61 93.78L383.03 92.88L383.45 91.99L383.87 91.10L384.30 90.23L384.72 89.37L385.14 88.52L385.56 87.68L385.98 86.85L386.40 86.04L386.82 85.24L387.25 84.45L387.67 83.67L388.09 82.91L388.51 82.15L388.93 81.42L389.35 80.69L389.78 79.98L390.20 79.28L390.62 78.60L391.04 77.93L391.46 77.27L391.88 76.63L392.30 76.00L392.73 75.39L393.15 74.79L393.57 74.21L393.99 73.65L394.41 73.09L394.83 72.56L395.25 72.04L395.68 71.53L396.10 71.04L396.52 70.57L396.94 70.12L397.36 69.68L397.78 69.25L398.21 68.84L398.63 68.45L399.05 68.08L399.47 67.72L399.89 67.38L400.31 67.06L400.73 66.75L401.16 66.46L401.58 66.19L402.00 65.93L402.42 65.69L402.84 65.47L403.26 65.27L403.68 65.09L404.11 64.92L404.53 64.77L404.95 64.63L405.37 64.52L405.79 64.42L406.21 64.34L406.64 64.28L407.06 64.24L407.48 64.21L407.90 64.20" fill="none" stroke="#8000ff" stroke-width="1.25" stroke-dasharray="3.2 1.4"/>
<path d="M240.99 72.68l1.3 2.35h-2.6zM244.36 73.70l1.3 2.35h-2.6zM247.73 75.72l1.3 2.35h-2.6zM251.10 78.71l1.3 2.35h-2.6zM254.47 82.63l1.3 2.35h-2.6zM257.85 87.42l1.3 2.35h-2.6zM261.22 93.00l1.3 2.35h-2.6zM264.59 99.30l1.3 2.35h-2.6zM267.96 106.20l1.3 2.35h-2.6zM271.33 113.62l1.3 2.35h-2.6zM274.71 121.43l1.3 2.35h-2.6zM278.08 129.51l1.3 2.35h-2.6zM281.45 137.74l1.3 2.35h-2.6zM284.82 145.99l1.3 2.35h-2.6zM288.19 154.13l1.3 2.35h-2.6zM291.57 162.04l1.3 2.35h-2.6zM294.94 169.58l1.3 2.35h-2.6zM298.31 176.64l1.3 2.35h-2.6zM301.68 183.10l1.3 2.35h-2.6zM305.05 188.86l1.3 2.35h-2.6zM308.43 193.82l1.3 2.35h-2.6zM311.80 197.90l1.3 2.35h-2.6zM315.17 201.02l1.3 2.35h-2.6zM318.54 203.14l1.3 2.35h-2.6zM321.91 204.22l1.3 2.35h-2.6zM325.29 204.22l1.3 2.35h-2.6zM328.66 203.14l1.3 2.35h-2.6zM332.03 200.99l1.3 2.35h-2.6zM335.40 197.80l1.3 2.35h-2.6zM338.77 193.61l1.3 2.35h-2.6zM342.15 188.48l1.3 2.35h-2.6zM345.52 182.49l1.3 2.35h-2.6zM348.89 175.73l1.3 2.35h-2.6zM352.26 168.30l1.3 2.35h-2.6zM355.63 160.32l1.3 2.35h-2.6zM359.01 151.90l1.3 2.35h-2.6zM362.38 143.19l1.3 2.35h-2.6zM365.75 134.31l1.3 2.35h-2.6zM369.12 125.41l1.3 2.35h-2.6zM372.49 116.64l1.3 2.35h-2.6zM375.87 108.13l1.3 2.35h-2.6zM379.24 100.02l1.3 2.35h-2.6zM382.61 92.43l1.3 2.35h-2.6zM385.98 85.50l1.3 2.35h-2.6zM389.35 79.34l1.3 2.35h-2.6zM392.73 74.04l1.3 2.35h-2.6zM396.10 69.69l1.3 2.35h-2.6zM399.47 66.37l1.3 2.35h-2.6zM402.84 64.12l1.3 2.35h-2.6zM406.21 62.99l1.3 2.35h-2.6z" fill="#fff" fill-opacity="0.6" stroke="#8000ff" stroke-width="0.45"/>
<path d="M239.30 28.30L239.72 28.31L240.14 28.34L240.56 28.40L240.99 28.47L241.41 28.57L241.83 28.69L242.25 28.83L242.67 29.00L243.09 29.18L243.52 29.39L243.94 29.61L244.36 29.86L244.78 30.13L245.20 30.43L245.62 30.74L246.04 31.07L246.47 31.43L246.89 31.80L247.31 32.20L247.73 32.62L248.15 33.06L248.57 33.52L248.99 34.00L249.42 34.50L249.84 35.02L250.26 35.56L250.68 36.12L251.10 36.70L251.52 37.30L251.95 37.92L252.37 38.56L252.79 39.22L253.21 39.89L253.63 40.59L254.05 41.30L254.47 42.04L254.90 42.79L255.32 43.56L255.74 44.35L256.16 45.15L256.58 45.98L257.00 46.82L257.42 47.68L257.85 48.55L258.27 49.44L258.69 50.35L259.11 51.28L259.53 52.22L259.95 53.18L260.38 54.15L260.80 55.14L261.22 56.14L261.64 57.16L262.06 58.19L262.48 59.24L262.90 60.30L263.33 61.37L263.75 62.46L264.17 63.56L264.59 64.68L265.01 65.81L265.43 66.95L265.85 68.10L266.28 69.26L266.70 70.44L267.12 71.63L267.54 72.83L267.96 74.04L268.38 75.26L268.81 76.49L269.23 77.73L269.65 78.97L270.07 80.23L270.49 81.50L270.91 82.78L271.33 84.06L271.76 85.36L272.18 86.66L272.60 87.96L273.02 89.28L273.44 90.60L273.86 91.93L274.28 93.26L274.71 94.60L275.13 95.95L275.55 97.30L275.97 98.65L276.39 100.01L276.81 101.38L277.24 102.74L277.66 104.12L278.08 105.49L278.50 106.87L278.92 108.24L279.34 109.63L279.76 111.01L280.19 112.39L280.61 113.78L281.03 115.16L281.45 116.55L281.87 117.94L282.29 119.32L282.71 120.71L283.14 122.09L283.56 123.47L283.98 124.86L284.40 126.23L284.82 127.61L285.24 128.98L285.67 130.36L286.09 131.72L286.51 133.09L286.93 134.45L287.35 135.80L287.77 137.15L288.19 138.50L288.62 139.84L289.04 141.17L289.46 142.50L289.88 143.82L290.30 145.14L290.72 146.44L291.14 147.74L291.57 149.04L291.99 150.32L292.41 151.60L292.83 152.87L293.25 154.13L293.67 155.37L294.10 156.61L294.52 157.84L294.94 159.06L295.36 160.27L295.78 161.47L296.20 162.66L296.62 163.84L297.05 165.00L297.47 166.15L297.89 167.29L298.31 168.42L298.73 169.54L299.15 170.64L299.57 171.73L300.00 172.80L300.42 173.86L300.84 174.91L301.26 175.94L301.68 176.96L302.10 177.96L302.52 178.95L302.95 179.92L303.37 180.88L303.79 181.82L304.21 182.75L304.63 183.66L305.05 184.55L305.48 185.42L305.90 186.28L306.32 187.12L306.74 187.95L307.16 188.75L307.58 189.54L308.00 190.31L308.43 191.06L308.85 191.80L309.27 192.51L309.69 193.21L310.11 193.88L310.53 194.54L310.95 195.18L311.38 195.80L311.80 196.40L312.22 196.98L312.64 197.54L313.06 198.08L313.48 198.60L313.91 199.10L314.33 199.58L314.75 200.04L315.17 200.48L315.59 200.90L316.01 201.30L316.43 201.67L316.86 202.03L317.28 202.36L317.70 202.67L318.12 202.97L318.54 203.24L318.96 203.49L319.38 203.71L319.81 203.92L320.23 204.10L320.65 204.27L321.07 204.41L321.49 204.53L321.91 204.63L322.34 204.70L322.76 204.76L323.18 204.79L323.60 204.80L324.02 204.79L324.44 204.76L324.86 204.70L325.29 204.63L325.71 204.53L326.13 204.41L326.55 204.27L326.97 204.10L327.39 203.92L327.81 203.71L328.24 203.49L328.66 203.24L329.08 202.97L329.50 202.67L329.92 202.36L330.34 202.03L330.77 201.67L331.19 201.30L331.61 200.90L332.03 200.48L332.45 200.04L332.87 199.58L333.29 199.10L333.72 198.60L334.14 198.08L334.56 197.54L334.98 196.98L335.40 196.40L335.82 195.80L336.25 195.18L336.67 194.54L337.09 193.88L337.51 193.21L337.93 192.51L338.35 191.80L338.77 191.06L339.20 190.31L339.62 189.54L340.04 188.75L340.46 187.95L340.88 187.12L341.30 186.28L341.72 185.42L342.15 184.55L342.57 183.66L342.99 182.75L343.41 181.82L343.83 180.88L344.25 179.92L344.67 178.95L345.10 177.96L345.52 176.96L345.94 175.94L346.36 174.91L346.78 173.86L347.20 172.80L347.63 171.73L348.05 170.64L348.47 169.54L348.89 168.42L349.31 167.29L349.73 166.15L350.15 165.00L350.58 163.84L351.00 162.66L351.42 161.47L351.84 160.27L352.26 159.06L352.68 157.84L353.11 156.61L353.53 155.37L353.95 154.13L354.37 152.87L354.79 151.60L355.21 150.32L355.63 149.04L356.06 147.74L356.48 146.44L356.90 145.14L357.32 143.82L357.74 142.50L358.16 141.17L358.58 139.84L359.01 138.50L359.43 137.15L359.85 135.80L360.27 134.45L360.69 133.09L361.11 131.72L361.53 130.36L361.96 128.98L362.38 127.61L362.80 126.23L363.22 124.86L363.64 123.47L364.06 122.09L364.49 120.71L364.91 119.32L365.33 117.94L365.75 116.55L366.17 115.16L366.59 113.78L367.01 112.39L367.44 111.01L367.86 109.63L368.28 108.24L368.70 106.87L369.12 105.49L369.54 104.12L369.96 102.74L370.39 101.38L370.81 100.01L371.23 98.65L371.65 97.30L372.07 95.95L372.49 94.60L372.92 93.26L373.34 91.93L373.76 90.60L374.18 89.28L374.60 87.96L375.02 86.66L375.44 85.36L375.87 84.06L376.29 82.78L376.71 81.50L377.13 80.23L377.55 78.97L377.97 77.73L378.39 76.49L378.82 75.26L379.24 74.04L379.66 72.83L380.08 71.63L380.50 70.44L380.92 69.26L381.35 68.10L381.77 66.95L382.19 65.81L382.61 64.68L383.03 63.56L383.45 62.46L383.87 61.37L384.30 60.30L384.72 59.24L385.14 58.19L385.56 57.16L385.98 56.14L386.40 55.14L386.82 54.15L387.25 53.18L387.67 52.22L388.09 51.28L388.51 50.35L388.93 49.44L389.35 48.55L389.78 47.68L390.20 46.82L390.62 45.98L391.04 45.15L391.46 44.35L391.88 43.56L392.30 42.79L392.73 42.04L393.15 41.30L393.57 40.59L393.99 39.89L394.41 39.22L394.83 38.56L395.25 37.92L395.68 37.30L396.10 36.70L396.52 36.12L396.94 35.56L397.36 35.02L397.78 34.50L398.21 34.00L398.63 33.52L399.05 33.06L399.47 32.62L399.89 32.20L400.31 31.80L400.73 31.43L401.16 31.07L401.58 30.74L402.00 30.43L402.42 30.13L402.84 29.86L403.26 29.61L403.68 29.39L404.11 29.18L404.53 29.00L404.95 28.83L405.37 28.69L405.79 28.57L406.21 28.47L406.64 28.40L407.06 28.34L407.48 28.31L407.90 28.30" fill="none" stroke="#000" stroke-width="1.30"/>
<circle cx="240.99" cy="28.47" r="1.55" fill="#000"/>
<circle cx="244.36" cy="29.86" r="1.55" fill="#000"/>
<circle cx="247.73" cy="32.62" r="1.55" fill="#000"/>
<circle cx="251.10" cy="36.70" r="1.55" fill="#000"/>
<circle cx="254.47" cy="42.04" r="1.55" fill="#000"/>
<circle cx="257.85" cy="48.55" r="1.55" fill="#000"/>
<circle cx="261.22" cy="56.14" r="1.55" fill="#000"/>
<circle cx="264.59" cy="64.68" r="1.55" fill="#000"/>
<circle cx="267.96" cy="74.04" r="1.55" fill="#000"/>
<circle cx="271.33" cy="84.06" r="1.55" fill="#000"/>
<circle cx="274.71" cy="94.60" r="1.55" fill="#000"/>
<circle cx="278.08" cy="105.49" r="1.55" fill="#000"/>
<circle cx="281.45" cy="116.55" r="1.55" fill="#000"/>
<circle cx="284.82" cy="127.61" r="1.55" fill="#000"/>
<circle cx="288.19" cy="138.50" r="1.55" fill="#000"/>
<circle cx="291.57" cy="149.04" r="1.55" fill="#000"/>
<circle cx="294.94" cy="159.06" r="1.55" fill="#000"/>
<circle cx="298.31" cy="168.42" r="1.55" fill="#000"/>
<circle cx="301.68" cy="176.96" r="1.55" fill="#000"/>
<circle cx="305.05" cy="184.55" r="1.55" fill="#000"/>
<circle cx="308.43" cy="191.06" r="1.55" fill="#000"/>
<circle cx="311.80" cy="196.40" r="1.55" fill="#000"/>
<circle cx="315.17" cy="200.48" r="1.55" fill="#000"/>
<circle cx="318.54" cy="203.24" r="1.55" fill="#000"/>
<circle cx="321.91" cy="204.63" r="1.55" fill="#000"/>
<circle cx="325.29" cy="204.63" r="1.55" fill="#000"/>
<circle cx="328.66" cy="203.24" r="1.55" fill="#000"/>
<circle cx="332.03" cy="200.48" r="1.55" fill="#000"/>
<circle cx="335.40" cy="196.40" r="1.55" fill="#000"/>
<circle cx="338.77" cy="191.06" r="1.55" fill="#000"/>
<circle cx="342.15" cy="184.55" r="1.55" fill="#000"/>
<circle cx="345.52" cy="176.96" r="1.55" fill="#000"/>
<circle cx="348.89" cy="168.42" r="1.55" fill="#000"/>
<circle cx="352.26" cy="159.06" r="1.55" fill="#000"/>
<circle cx="355.63" cy="149.04" r="1.55" fill="#000"/>
<circle cx="359.01" cy="138.50" r="1.55" fill="#000"/>
<circle cx="362.38" cy="127.61" r="1.55" fill="#000"/>
<circle cx="365.75" cy="116.55" r="1.55" fill="#000"/>
<circle cx="369.12" cy="105.49" r="1.55" fill="#000"/>
<circle cx="372.49" cy="94.60" r="1.55" fill="#000"/>
<circle cx="375.87" cy="84.06" r="1.55" fill="#000"/>
<circle cx="379.24" cy="74.04" r="1.55" fill="#000"/>
<circle cx="382.61" cy="64.68" r="1.55" fill="#000"/>
<circle cx="385.98" cy="56.14" r="1.55" fill="#000"/>
<circle cx="389.35" cy="48.55" r="1.55" fill="#000"/>
<circle cx="392.73" cy="42.04" r="1.55" fill="#000"/>
<circle cx="396.10" cy="36.70" r="1.55" fill="#000"/>
<circle cx="399.47" cy="32.62" r="1.55" fill="#000"/>
<circle cx="402.84" cy="29.86" r="1.55" fill="#000"/>
<circle cx="406.21" cy="28.47" r="1.55" fill="#000"/>
<path d="M239.30 65.50L239.72 65.51L240.14 65.54L240.56 65.58L240.99 65.64L241.41 65.72L241.83 65.82L242.25 65.93L242.67 66.06L243.09 66.21L243.52 66.38L243.94 66.56L244.36 66.76L244.78 66.98L245.20 67.22L245.62 67.47L246.04 67.74L246.47 68.03L246.89 68.33L247.31 68.65L247.73 68.99L248.15 69.35L248.57 69.72L248.99 70.10L249.42 70.51L249.84 70.93L250.26 71.37L250.68 71.82L251.10 72.29L251.52 72.77L251.95 73.27L252.37 73.79L252.79 74.32L253.21 74.87L253.63 75.43L254.05 76.00L254.47 76.60L254.90 77.20L255.32 77.82L255.74 78.46L256.16 79.11L256.58 79.77L257.00 80.45L257.42 81.14L257.85 81.85L258.27 82.57L258.69 83.30L259.11 84.04L259.53 84.80L259.95 85.57L260.38 86.35L260.80 87.15L261.22 87.96L261.64 88.78L262.06 89.61L262.48 90.45L262.90 91.30L263.33 92.17L263.75 93.04L264.17 93.93L264.59 94.82L265.01 95.73L265.43 96.65L265.85 97.57L266.28 98.51L266.70 99.45L267.12 100.40L267.54 101.36L267.96 102.33L268.38 103.31L268.81 104.30L269.23 105.29L269.65 106.29L270.07 107.30L270.49 108.32L270.91 109.34L271.33 110.37L271.76 111.40L272.18 112.44L272.60 113.49L273.02 114.54L273.44 115.60L273.86 116.66L274.28 117.72L274.71 118.79L275.13 119.87L275.55 120.95L275.97 122.03L276.39 123.11L276.81 124.20L277.24 125.29L277.66 126.38L278.08 127.48L278.50 128.57L278.92 129.67L279.34 130.77L279.76 131.87L280.19 132.97L280.61 134.07L281.03 135.18L281.45 136.28L281.87 137.38L282.29 138.48L282.71 139.58L283.14 140.68L283.56 141.77L283.98 142.87L284.40 143.96L284.82 145.05L285.24 146.14L285.67 147.23L286.09 148.31L286.51 149.39L286.93 150.47L287.35 151.54L287.77 152.60L288.19 153.67L288.62 154.73L289.04 155.78L289.46 156.83L289.88 157.87L290.30 158.91L290.72 159.94L291.14 160.96L291.57 161.98L291.99 162.99L292.41 164.00L292.83 165.00L293.25 165.99L293.67 166.97L294.10 167.94L294.52 168.91L294.94 169.87L295.36 170.82L295.78 171.76L296.20 172.69L296.62 173.61L297.05 174.52L297.47 175.43L297.89 176.32L298.31 177.20L298.73 178.07L299.15 178.94L299.57 179.79L300.00 180.63L300.42 181.45L300.84 182.27L301.26 183.08L301.68 183.87L302.10 184.65L302.52 185.42L302.95 186.18L303.37 186.93L303.79 187.66L304.21 188.38L304.63 189.08L305.05 189.78L305.48 190.46L305.90 191.12L306.32 191.77L306.74 192.41L307.16 193.04L307.58 193.65L308.00 194.25L308.43 194.83L308.85 195.40L309.27 195.95L309.69 196.49L310.11 197.01L310.53 197.52L310.95 198.01L311.38 198.49L311.80 198.95L312.22 199.40L312.64 199.83L313.06 200.25L313.48 200.65L313.91 201.03L314.33 201.40L314.75 201.76L315.17 202.09L315.59 202.41L316.01 202.72L316.43 203.01L316.86 203.28L317.28 203.54L317.70 203.78L318.12 204.00L318.54 204.21L318.96 204.40L319.38 204.57L319.81 204.73L320.23 204.87L320.65 204.99L321.07 205.10L321.49 205.19L321.91 205.27L322.34 205.33L322.76 205.37L323.18 205.39L323.60 205.40L324.02 205.39L324.44 205.37L324.86 205.33L325.29 205.27L325.71 205.19L326.13 205.10L326.55 205.00L326.97 204.87L327.39 204.73L327.81 204.58L328.24 204.40L328.66 204.22L329.08 204.01L329.50 203.79L329.92 203.55L330.34 203.30L330.77 203.03L331.19 202.75L331.61 202.45L332.03 202.14L332.45 201.81L332.87 201.46L333.29 201.10L333.72 200.72L334.14 200.33L334.56 199.93L334.98 199.51L335.40 199.07L335.82 198.62L336.25 198.16L336.67 197.68L337.09 197.18L337.51 196.68L337.93 196.16L338.35 195.62L338.77 195.07L339.20 194.51L339.62 193.94L340.04 193.35L340.46 192.75L340.88 192.13L341.30 191.51L341.72 190.87L342.15 190.22L342.57 189.55L342.99 188.88L343.41 188.19L343.83 187.49L344.25 186.78L344.67 186.06L345.10 185.32L345.52 184.58L345.94 183.82L346.36 183.06L346.78 182.28L347.20 181.50L347.63 180.70L348.05 179.90L348.47 179.08L348.89 178.26L349.31 177.43L349.73 176.58L350.15 175.73L350.58 174.87L351.00 174.01L351.42 173.13L351.84 172.25L352.26 171.36L352.68 170.46L353.11 169.56L353.53 168.64L353.95 167.72L354.37 166.80L354.79 165.87L355.21 164.93L355.63 163.99L356.06 163.04L356.48 162.09L356.90 161.13L357.32 160.17L357.74 159.20L358.16 158.23L358.58 157.25L359.01 156.27L359.43 155.29L359.85 154.30L360.27 153.31L360.69 152.32L361.11 151.32L361.53 150.32L361.96 149.32L362.38 148.32L362.80 147.32L363.22 146.31L363.64 145.31L364.06 144.30L364.49 143.30L364.91 142.29L365.33 141.28L365.75 140.27L366.17 139.27L366.59 138.26L367.01 137.25L367.44 136.25L367.86 135.25L368.28 134.24L368.70 133.24L369.12 132.25L369.54 131.25L369.96 130.26L370.39 129.27L370.81 128.28L371.23 127.30L371.65 126.32L372.07 125.34L372.49 124.37L372.92 123.40L373.34 122.44L373.76 121.48L374.18 120.52L374.60 119.57L375.02 118.63L375.44 117.69L375.87 116.76L376.29 115.84L376.71 114.92L377.13 114.00L377.55 113.10L377.97 112.20L378.39 111.30L378.82 110.42L379.24 109.54L379.66 108.67L380.08 107.81L380.50 106.95L380.92 106.11L381.35 105.27L381.77 104.45L382.19 103.63L382.61 102.82L383.03 102.02L383.45 101.23L383.87 100.44L384.30 99.67L384.72 98.91L385.14 98.16L385.56 97.42L385.98 96.69L386.40 95.97L386.82 95.27L387.25 94.57L387.67 93.88L388.09 93.21L388.51 92.55L388.93 91.90L389.35 91.26L389.78 90.63L390.20 90.02L390.62 89.42L391.04 88.83L391.46 88.25L391.88 87.69L392.30 87.14L392.73 86.60L393.15 86.08L393.57 85.57L393.99 85.07L394.41 84.59L394.83 84.12L395.25 83.66L395.68 83.22L396.10 82.79L396.52 82.38L396.94 81.98L397.36 81.59L397.78 81.22L398.21 80.86L398.63 80.52L399.05 80.19L399.47 79.88L399.89 79.58L400.31 79.30L400.73 79.03L401.16 78.78L401.58 78.54L402.00 78.31L402.42 78.11L402.84 77.91L403.26 77.74L403.68 77.57L404.11 77.43L404.53 77.30L404.95 77.18L405.37 77.08L405.79 76.99L406.21 76.92L406.64 76.87L407.06 76.83L407.48 76.81L407.90 76.80" fill="none" stroke="#0000ff" stroke-width="1.45"/>
<path d="M240.99 66.99l1.3 -2.35h-2.6zM244.36 68.11l1.3 -2.35h-2.6zM247.73 70.34l1.3 -2.35h-2.6zM251.10 73.64l1.3 -2.35h-2.6zM254.47 77.95l1.3 -2.35h-2.6zM257.85 83.20l1.3 -2.35h-2.6zM261.22 89.31l1.3 -2.35h-2.6zM264.59 96.17l1.3 -2.35h-2.6zM267.96 103.68l1.3 -2.35h-2.6zM271.33 111.72l1.3 -2.35h-2.6zM274.71 120.14l1.3 -2.35h-2.6zM278.08 128.83l1.3 -2.35h-2.6zM281.45 137.63l1.3 -2.35h-2.6zM284.82 146.40l1.3 -2.35h-2.6zM288.19 155.02l1.3 -2.35h-2.6zM291.57 163.33l1.3 -2.35h-2.6zM294.94 171.22l1.3 -2.35h-2.6zM298.31 178.55l1.3 -2.35h-2.6zM301.68 185.22l1.3 -2.35h-2.6zM305.05 191.13l1.3 -2.35h-2.6zM308.43 196.18l1.3 -2.35h-2.6zM311.80 200.30l1.3 -2.35h-2.6zM315.17 203.44l1.3 -2.35h-2.6zM318.54 205.56l1.3 -2.35h-2.6zM321.91 206.62l1.3 -2.35h-2.6zM325.29 206.62l1.3 -2.35h-2.6zM328.66 205.57l1.3 -2.35h-2.6zM332.03 203.49l1.3 -2.35h-2.6zM335.40 200.42l1.3 -2.35h-2.6zM338.77 196.42l1.3 -2.35h-2.6zM342.15 191.57l1.3 -2.35h-2.6zM345.52 185.93l1.3 -2.35h-2.6zM348.89 179.61l1.3 -2.35h-2.6zM352.26 172.71l1.3 -2.35h-2.6zM355.63 165.34l1.3 -2.35h-2.6zM359.01 157.62l1.3 -2.35h-2.6zM362.38 149.67l1.3 -2.35h-2.6zM365.75 141.62l1.3 -2.35h-2.6zM369.12 133.60l1.3 -2.35h-2.6zM372.49 125.72l1.3 -2.35h-2.6zM375.87 118.11l1.3 -2.35h-2.6zM379.24 110.89l1.3 -2.35h-2.6zM382.61 104.17l1.3 -2.35h-2.6zM385.98 98.04l1.3 -2.35h-2.6zM389.35 92.61l1.3 -2.35h-2.6zM392.73 87.95l1.3 -2.35h-2.6zM396.10 84.14l1.3 -2.35h-2.6zM399.47 81.23l1.3 -2.35h-2.6zM402.84 79.26l1.3 -2.35h-2.6zM406.21 78.27l1.3 -2.35h-2.6z" fill="#0000ff"/>
<path d="M239.30 100.00L239.72 100.01L240.14 100.03L240.56 100.06L240.99 100.11L241.41 100.17L241.83 100.24L242.25 100.33L242.67 100.43L243.09 100.55L243.52 100.68L243.94 100.82L244.36 100.98L244.78 101.14L245.20 101.33L245.62 101.52L246.04 101.73L246.47 101.95L246.89 102.19L247.31 102.43L247.73 102.69L248.15 102.97L248.57 103.25L248.99 103.55L249.42 103.86L249.84 104.19L250.26 104.53L250.68 104.87L251.10 105.24L251.52 105.61L251.95 106.00L252.37 106.39L252.79 106.80L253.21 107.22L253.63 107.66L254.05 108.10L254.47 108.56L254.90 109.03L255.32 109.50L255.74 109.99L256.16 110.49L256.58 111.01L257.00 111.53L257.42 112.06L257.85 112.60L258.27 113.16L258.69 113.72L259.11 114.29L259.53 114.88L259.95 115.47L260.38 116.07L260.80 116.68L261.22 117.30L261.64 117.93L262.06 118.57L262.48 119.22L262.90 119.87L263.33 120.54L263.75 121.21L264.17 121.89L264.59 122.58L265.01 123.28L265.43 123.98L265.85 124.69L266.28 125.41L266.70 126.13L267.12 126.86L267.54 127.60L267.96 128.34L268.38 129.09L268.81 129.85L269.23 130.61L269.65 131.38L270.07 132.15L270.49 132.93L270.91 133.71L271.33 134.50L271.76 135.29L272.18 136.09L272.60 136.89L273.02 137.69L273.44 138.50L273.86 139.31L274.28 140.13L274.71 140.95L275.13 141.77L275.55 142.59L275.97 143.42L276.39 144.25L276.81 145.08L277.24 145.91L277.66 146.74L278.08 147.58L278.50 148.41L278.92 149.25L279.34 150.09L279.76 150.93L280.19 151.77L280.61 152.61L281.03 153.45L281.45 154.28L281.87 155.12L282.29 155.96L282.71 156.80L283.14 157.63L283.56 158.47L283.98 159.30L284.40 160.13L284.82 160.96L285.24 161.79L285.67 162.61L286.09 163.43L286.51 164.25L286.93 165.07L287.35 165.88L287.77 166.69L288.19 167.49L288.62 168.30L289.04 169.09L289.46 169.89L289.88 170.68L290.30 171.46L290.72 172.24L291.14 173.02L291.57 173.79L291.99 174.55L292.41 175.31L292.83 176.07L293.25 176.81L293.67 177.55L294.10 178.29L294.52 179.02L294.94 179.74L295.36 180.46L295.78 181.17L296.20 181.87L296.62 182.56L297.05 183.25L297.47 183.93L297.89 184.60L298.31 185.26L298.73 185.92L299.15 186.57L299.57 187.21L300.00 187.84L300.42 188.46L300.84 189.07L301.26 189.68L301.68 190.27L302.10 190.86L302.52 191.43L302.95 192.00L303.37 192.56L303.79 193.11L304.21 193.64L304.63 194.17L305.05 194.69L305.48 195.20L305.90 195.70L306.32 196.18L306.74 196.66L307.16 197.13L307.58 197.58L308.00 198.03L308.43 198.46L308.85 198.88L309.27 199.30L309.69 199.70L310.11 200.09L310.53 200.46L310.95 200.83L311.38 201.19L311.80 201.53L312.22 201.86L312.64 202.18L313.06 202.49L313.48 202.79L313.91 203.07L314.33 203.35L314.75 203.61L315.17 203.86L315.59 204.10L316.01 204.32L316.43 204.54L316.86 204.74L317.28 204.93L317.70 205.10L318.12 205.27L318.54 205.42L318.96 205.56L319.38 205.69L319.81 205.81L320.23 205.91L320.65 206.00L321.07 206.08L321.49 206.15L321.91 206.20L322.34 206.25L322.76 206.28L323.18 206.29L323.60 206.30L324.02 206.29L324.44 206.28L324.86 206.25L325.29 206.20L325.71 206.15L326.13 206.08L326.55 206.00L326.97 205.91L327.39 205.81L327.81 205.70L328.24 205.57L328.66 205.43L329.08 205.28L329.50 205.12L329.92 204.95L330.34 204.77L330.77 204.57L331.19 204.37L331.61 204.15L332.03 203.92L332.45 203.68L332.87 203.43L333.29 203.16L333.72 202.89L334.14 202.61L334.56 202.31L334.98 202.01L335.40 201.69L335.82 201.36L336.25 201.03L336.67 200.68L337.09 200.32L337.51 199.96L337.93 199.58L338.35 199.19L338.77 198.80L339.20 198.39L339.62 197.98L340.04 197.55L340.46 197.12L340.88 196.68L341.30 196.22L341.72 195.76L342.15 195.29L342.57 194.82L342.99 194.33L343.41 193.83L343.83 193.33L344.25 192.82L344.67 192.30L345.10 191.78L345.52 191.24L345.94 190.70L346.36 190.15L346.78 189.60L347.20 189.03L347.63 188.46L348.05 187.89L348.47 187.30L348.89 186.71L349.31 186.12L349.73 185.52L350.15 184.91L350.58 184.29L351.00 183.68L351.42 183.05L351.84 182.42L352.26 181.79L352.68 181.15L353.11 180.50L353.53 179.85L353.95 179.20L354.37 178.54L354.79 177.88L355.21 177.21L355.63 176.54L356.06 175.87L356.48 175.19L356.90 174.51L357.32 173.83L357.74 173.14L358.16 172.45L358.58 171.76L359.01 171.06L359.43 170.37L359.85 169.67L360.27 168.97L360.69 168.27L361.11 167.56L361.53 166.86L361.96 166.15L362.38 165.44L362.80 164.73L363.22 164.02L363.64 163.32L364.06 162.61L364.49 161.89L364.91 161.18L365.33 160.47L365.75 159.77L366.17 159.06L366.59 158.35L367.01 157.64L367.44 156.93L367.86 156.23L368.28 155.52L368.70 154.82L369.12 154.12L369.54 153.42L369.96 152.72L370.39 152.03L370.81 151.34L371.23 150.65L371.65 149.96L372.07 149.28L372.49 148.59L372.92 147.92L373.34 147.24L373.76 146.57L374.18 145.90L374.60 145.24L375.02 144.58L375.44 143.92L375.87 143.27L376.29 142.62L376.71 141.98L377.13 141.34L377.55 140.71L377.97 140.08L378.39 139.46L378.82 138.84L379.24 138.23L379.66 137.62L380.08 137.02L380.50 136.43L380.92 135.84L381.35 135.25L381.77 134.68L382.19 134.11L382.61 133.54L383.03 132.99L383.45 132.44L383.87 131.89L384.30 131.36L384.72 130.83L385.14 130.31L385.56 129.79L385.98 129.28L386.40 128.79L386.82 128.29L387.25 127.81L387.67 127.33L388.09 126.87L388.51 126.41L388.93 125.96L389.35 125.51L389.78 125.08L390.20 124.65L390.62 124.24L391.04 123.83L391.46 123.43L391.88 123.04L392.30 122.66L392.73 122.28L393.15 121.92L393.57 121.57L393.99 121.22L394.41 120.89L394.83 120.56L395.25 120.25L395.68 119.94L396.10 119.64L396.52 119.36L396.94 119.08L397.36 118.81L397.78 118.56L398.21 118.31L398.63 118.07L399.05 117.85L399.47 117.63L399.89 117.42L400.31 117.23L400.73 117.04L401.16 116.87L401.58 116.70L402.00 116.55L402.42 116.40L402.84 116.27L403.26 116.15L403.68 116.04L404.11 115.93L404.53 115.84L404.95 115.76L405.37 115.69L405.79 115.63L406.21 115.59L406.64 115.55L407.06 115.52L407.48 115.51L407.90 115.50" fill="none" stroke="#35a0a0" stroke-width="1.25" stroke-dasharray="3.2 1.4"/>
<path d="M240.99 101.46l1.3 -2.35h-2.6zM244.36 102.33l1.3 -2.35h-2.6zM247.73 104.04l1.3 -2.35h-2.6zM251.10 106.59l1.3 -2.35h-2.6zM254.47 109.91l1.3 -2.35h-2.6zM257.85 113.95l1.3 -2.35h-2.6zM261.22 118.65l1.3 -2.35h-2.6zM264.59 123.93l1.3 -2.35h-2.6zM267.96 129.69l1.3 -2.35h-2.6zM271.33 135.85l1.3 -2.35h-2.6zM274.71 142.30l1.3 -2.35h-2.6zM278.08 148.93l1.3 -2.35h-2.6zM281.45 155.63l1.3 -2.35h-2.6zM284.82 162.31l1.3 -2.35h-2.6zM288.19 168.84l1.3 -2.35h-2.6zM291.57 175.14l1.3 -2.35h-2.6zM294.94 181.09l1.3 -2.35h-2.6zM298.31 186.61l1.3 -2.35h-2.6zM301.68 191.62l1.3 -2.35h-2.6zM305.05 196.04l1.3 -2.35h-2.6zM308.43 199.81l1.3 -2.35h-2.6zM311.80 202.88l1.3 -2.35h-2.6zM315.17 205.21l1.3 -2.35h-2.6zM318.54 206.77l1.3 -2.35h-2.6zM321.91 207.55l1.3 -2.35h-2.6zM325.29 207.55l1.3 -2.35h-2.6zM328.66 206.78l1.3 -2.35h-2.6zM332.03 205.27l1.3 -2.35h-2.6zM335.40 203.04l1.3 -2.35h-2.6zM338.77 200.15l1.3 -2.35h-2.6zM342.15 196.64l1.3 -2.35h-2.6zM345.52 192.59l1.3 -2.35h-2.6zM348.89 188.06l1.3 -2.35h-2.6zM352.26 183.14l1.3 -2.35h-2.6zM355.63 177.89l1.3 -2.35h-2.6zM359.01 172.41l1.3 -2.35h-2.6zM362.38 166.79l1.3 -2.35h-2.6zM365.75 161.12l1.3 -2.35h-2.6zM369.12 155.47l1.3 -2.35h-2.6zM372.49 149.94l1.3 -2.35h-2.6zM375.87 144.62l1.3 -2.35h-2.6zM379.24 139.58l1.3 -2.35h-2.6zM382.61 134.89l1.3 -2.35h-2.6zM385.98 130.63l1.3 -2.35h-2.6zM389.35 126.86l1.3 -2.35h-2.6zM392.73 123.63l1.3 -2.35h-2.6zM396.10 120.99l1.3 -2.35h-2.6zM399.47 118.98l1.3 -2.35h-2.6zM402.84 117.62l1.3 -2.35h-2.6zM406.21 116.94l1.3 -2.35h-2.6z" fill="#fff" fill-opacity="0.6" stroke="#35a0a0" stroke-width="0.45"/>
<path d="M418.30 119.40L418.73 119.40L419.15 119.42L419.57 119.44L420.00 119.48L420.43 119.52L420.85 119.57L421.28 119.64L421.70 119.71L422.12 119.79L422.55 119.88L422.98 119.98L423.40 120.09L423.82 120.21L424.25 120.34L424.68 120.48L425.10 120.63L425.53 120.79L425.95 120.95L426.38 121.13L426.80 121.31L427.23 121.51L427.65 121.71L428.07 121.93L428.50 122.15L428.93 122.38L429.35 122.62L429.78 122.87L430.20 123.13L430.62 123.40L431.05 123.67L431.48 123.96L431.90 124.25L432.32 124.55L432.75 124.87L433.18 125.19L433.60 125.51L434.02 125.85L434.45 126.20L434.88 126.55L435.30 126.91L435.73 127.28L436.15 127.66L436.57 128.05L437.00 128.44L437.43 128.84L437.85 129.25L438.27 129.67L438.70 130.09L439.12 130.53L439.55 130.97L439.98 131.42L440.40 131.87L440.82 132.33L441.25 132.80L441.68 133.28L442.10 133.76L442.52 134.25L442.95 134.75L443.38 135.25L443.80 135.76L444.23 136.28L444.65 136.80L445.07 137.33L445.50 137.87L445.93 138.41L446.35 138.95L446.77 139.51L447.20 140.07L447.62 140.63L448.05 141.20L448.48 141.77L448.90 142.35L449.32 142.94L449.75 143.53L450.18 144.12L450.60 144.72L451.02 145.33L451.45 145.93L451.88 146.55L452.30 147.16L452.73 147.78L453.15 148.41L453.57 149.04L454.00 149.67L454.43 150.30L454.85 150.94L455.27 151.58L455.70 152.23L456.12 152.88L456.55 153.53L456.98 154.18L457.40 154.84L457.82 155.50L458.25 156.16L458.68 156.82L459.10 157.48L459.52 158.15L459.95 158.82L460.38 159.48L460.80 160.15L461.23 160.83L461.65 161.50L462.07 162.17L462.50 162.84L462.93 163.52L463.35 164.19L463.77 164.87L464.20 165.54L464.62 166.21L465.05 166.89L465.48 167.56L465.90 168.23L466.32 168.91L466.75 169.58L467.18 170.25L467.60 170.91L468.02 171.58L468.45 172.25L468.88 172.91L469.30 173.57L469.73 174.23L470.15 174.89L470.57 175.54L471.00 176.19L471.43 176.84L471.85 177.49L472.27 178.13L472.70 178.77L473.12 179.40L473.55 180.04L473.98 180.66L474.40 181.29L474.82 181.91L475.25 182.52L475.68 183.13L476.10 183.74L476.52 184.34L476.95 184.94L477.38 185.53L477.80 186.11L478.22 186.69L478.65 187.27L479.07 187.84L479.50 188.40L479.93 188.95L480.35 189.50L480.77 190.05L481.20 190.58L481.62 191.11L482.05 191.64L482.48 192.15L482.90 192.66L483.32 193.16L483.75 193.66L484.18 194.14L484.60 194.62L485.02 195.09L485.45 195.55L485.88 196.00L486.30 196.45L486.73 196.88L487.15 197.31L487.57 197.73L488.00 198.14L488.43 198.54L488.85 198.93L489.27 199.31L489.70 199.68L490.12 200.04L490.55 200.39L490.97 200.74L491.40 201.07L491.82 201.39L492.25 201.70L492.67 202.00L493.10 202.29L493.52 202.57L493.95 202.84L494.38 203.09L494.80 203.34L495.23 203.58L495.65 203.80L496.07 204.01L496.50 204.21L496.92 204.40L497.35 204.58L497.77 204.75L498.20 204.90L498.62 205.04L499.05 205.17L499.48 205.29L499.90 205.40L500.32 205.49L500.75 205.57L501.17 205.64L501.60 205.70L502.02 205.74L502.45 205.77L502.88 205.79L503.30 205.80L503.73 205.79L504.15 205.77L504.57 205.74L505.00 205.70L505.42 205.64L505.85 205.57L506.27 205.49L506.70 205.39L507.12 205.28L507.55 205.16L507.97 205.02L508.40 204.87L508.82 204.71L509.25 204.54L509.67 204.35L510.10 204.15L510.52 203.93L510.95 203.71L511.38 203.47L511.80 203.21L512.23 202.95L512.65 202.67L513.07 202.38L513.50 202.07L513.92 201.75L514.35 201.42L514.77 201.08L515.20 200.72L515.62 200.35L516.05 199.97L516.48 199.57L516.90 199.17L517.32 198.75L517.75 198.31L518.17 197.87L518.60 197.41L519.02 196.94L519.45 196.46L519.88 195.97L520.30 195.46L520.73 194.94L521.15 194.41L521.58 193.87L522.00 193.32L522.42 192.76L522.85 192.18L523.27 191.59L523.70 191.00L524.12 190.39L524.55 189.77L524.98 189.13L525.40 188.49L525.83 187.84L526.25 187.18L526.67 186.50L527.10 185.82L527.52 185.13L527.95 184.42L528.38 183.71L528.80 182.99L529.22 182.26L529.65 181.51L530.07 180.76L530.50 180.00L530.92 179.24L531.35 178.46L531.77 177.67L532.20 176.88L532.62 176.08L533.05 175.27L533.47 174.45L533.90 173.63L534.32 172.80L534.75 171.96L535.17 171.11L535.60 170.26L536.02 169.40L536.45 168.54L536.88 167.67L537.30 166.79L537.73 165.91L538.15 165.02L538.57 164.12L539.00 163.22L539.42 162.32L539.85 161.41L540.27 160.50L540.70 159.58L541.12 158.66L541.55 157.74L541.98 156.81L542.40 155.88L542.82 154.95L543.25 154.01L543.67 153.07L544.10 152.13L544.52 151.19L544.95 150.24L545.38 149.29L545.80 148.35L546.23 147.40L546.65 146.45L547.08 145.50L547.50 144.54L547.92 143.59L548.35 142.64L548.77 141.69L549.20 140.74L549.62 139.79L550.05 138.84L550.47 137.90L550.90 136.95L551.32 136.01L551.75 135.07L552.17 134.13L552.60 133.19L553.02 132.26L553.45 131.33L553.88 130.40L554.30 129.48L554.72 128.56L555.15 127.64L555.57 126.73L556.00 125.82L556.42 124.92L556.85 124.03L557.27 123.13L557.70 122.25L558.12 121.37L558.55 120.50L558.97 119.63L559.40 118.77L559.82 117.91L560.25 117.06L560.67 116.22L561.10 115.39L561.52 114.56L561.95 113.75L562.38 112.94L562.80 112.14L563.22 111.34L563.65 110.56L564.07 109.79L564.50 109.02L564.92 108.26L565.35 107.52L565.77 106.78L566.20 106.05L566.62 105.34L567.05 104.63L567.47 103.93L567.90 103.25L568.32 102.57L568.75 101.91L569.17 101.26L569.60 100.62L570.02 99.99L570.45 99.38L570.88 98.77L571.30 98.18L571.72 97.60L572.15 97.03L572.57 96.48L573.00 95.94L573.42 95.41L573.85 94.89L574.27 94.39L574.70 93.90L575.12 93.43L575.55 92.96L575.97 92.52L576.40 92.08L576.82 91.66L577.25 91.26L577.67 90.87L578.10 90.49L578.52 90.13L578.95 89.78L579.38 89.45L579.80 89.13L580.22 88.83L580.65 88.54L581.07 88.27L581.50 88.01L581.92 87.77L582.35 87.54L582.77 87.33L583.20 87.13L583.62 86.95L584.05 86.79L584.47 86.64L584.90 86.51L585.32 86.39L585.75 86.28L586.17 86.20L586.60 86.13L587.02 86.07L587.45 86.03L587.88 86.01L588.30 86.00" fill="none" stroke="#ff0000" stroke-width="1.45"/>
<path d="M420.00 118.13l1.3 2.35h-2.6zM423.40 118.74l1.3 2.35h-2.6zM426.80 119.96l1.3 2.35h-2.6zM430.20 121.78l1.3 2.35h-2.6zM433.60 124.16l1.3 2.35h-2.6zM437.00 127.09l1.3 2.35h-2.6zM440.40 130.52l1.3 2.35h-2.6zM443.80 134.41l1.3 2.35h-2.6zM447.20 138.72l1.3 2.35h-2.6zM450.60 143.37l1.3 2.35h-2.6zM454.00 148.32l1.3 2.35h-2.6zM457.40 153.49l1.3 2.35h-2.6zM460.80 158.80l1.3 2.35h-2.6zM464.20 164.19l1.3 2.35h-2.6zM467.60 169.56l1.3 2.35h-2.6zM471.00 174.84l1.3 2.35h-2.6zM474.40 179.94l1.3 2.35h-2.6zM477.80 184.76l1.3 2.35h-2.6zM481.20 189.23l1.3 2.35h-2.6zM484.60 193.27l1.3 2.35h-2.6zM488.00 196.79l1.3 2.35h-2.6zM491.40 199.72l1.3 2.35h-2.6zM494.80 201.99l1.3 2.35h-2.6zM498.20 203.55l1.3 2.35h-2.6zM501.60 204.35l1.3 2.35h-2.6zM505.00 204.35l1.3 2.35h-2.6zM508.40 203.52l1.3 2.35h-2.6zM511.80 201.86l1.3 2.35h-2.6zM515.20 199.37l1.3 2.35h-2.6zM518.60 196.06l1.3 2.35h-2.6zM522.00 191.97l1.3 2.35h-2.6zM525.40 187.14l1.3 2.35h-2.6zM528.80 181.64l1.3 2.35h-2.6zM532.20 175.53l1.3 2.35h-2.6zM535.60 168.91l1.3 2.35h-2.6zM539.00 161.87l1.3 2.35h-2.6zM542.40 154.53l1.3 2.35h-2.6zM545.80 147.00l1.3 2.35h-2.6zM549.20 139.39l1.3 2.35h-2.6zM552.60 131.84l1.3 2.35h-2.6zM556.00 124.47l1.3 2.35h-2.6zM559.40 117.42l1.3 2.35h-2.6zM562.80 110.79l1.3 2.35h-2.6zM566.20 104.70l1.3 2.35h-2.6zM569.60 99.27l1.3 2.35h-2.6zM573.00 94.59l1.3 2.35h-2.6zM576.40 90.73l1.3 2.35h-2.6zM579.80 87.78l1.3 2.35h-2.6zM583.20 85.78l1.3 2.35h-2.6zM586.60 84.78l1.3 2.35h-2.6z" fill="#ff0000"/>
<path d="M418.30 77.10L418.73 77.11L419.15 77.13L419.57 77.17L420.00 77.22L420.43 77.29L420.85 77.37L421.28 77.47L421.70 77.58L422.12 77.71L422.55 77.85L422.98 78.01L423.40 78.18L423.82 78.37L424.25 78.57L424.68 78.78L425.10 79.02L425.53 79.26L425.95 79.52L426.38 79.80L426.80 80.09L427.23 80.39L427.65 80.71L428.07 81.04L428.50 81.39L428.93 81.75L429.35 82.12L429.78 82.51L430.20 82.91L430.62 83.33L431.05 83.76L431.48 84.20L431.90 84.66L432.32 85.13L432.75 85.61L433.18 86.11L433.60 86.62L434.02 87.14L434.45 87.67L434.88 88.22L435.30 88.78L435.73 89.36L436.15 89.94L436.57 90.54L437.00 91.15L437.43 91.77L437.85 92.41L438.27 93.05L438.70 93.71L439.12 94.38L439.55 95.06L439.98 95.75L440.40 96.45L440.82 97.16L441.25 97.88L441.68 98.62L442.10 99.36L442.52 100.11L442.95 100.88L443.38 101.65L443.80 102.43L444.23 103.23L444.65 104.03L445.07 104.84L445.50 105.66L445.93 106.49L446.35 107.33L446.77 108.17L447.20 109.03L447.62 109.89L448.05 110.76L448.48 111.63L448.90 112.52L449.32 113.41L449.75 114.31L450.18 115.21L450.60 116.12L451.02 117.04L451.45 117.96L451.88 118.89L452.30 119.83L452.73 120.77L453.15 121.72L453.57 122.67L454.00 123.62L454.43 124.58L454.85 125.55L455.27 126.52L455.70 127.49L456.12 128.47L456.55 129.45L456.98 130.43L457.40 131.42L457.82 132.41L458.25 133.40L458.68 134.39L459.10 135.39L459.52 136.39L459.95 137.39L460.38 138.39L460.80 139.39L461.23 140.39L461.65 141.39L462.07 142.40L462.50 143.40L462.93 144.41L463.35 145.41L463.77 146.41L464.20 147.41L464.62 148.41L465.05 149.41L465.48 150.41L465.90 151.41L466.32 152.40L466.75 153.39L467.18 154.38L467.60 155.37L468.02 156.35L468.45 157.33L468.88 158.31L469.30 159.28L469.73 160.25L470.15 161.21L470.57 162.17L471.00 163.13L471.43 164.08L471.85 165.02L472.27 165.96L472.70 166.90L473.12 167.82L473.55 168.74L473.98 169.66L474.40 170.57L474.82 171.47L475.25 172.36L475.68 173.25L476.10 174.13L476.52 175.00L476.95 175.87L477.38 176.72L477.80 177.57L478.22 178.41L478.65 179.23L479.07 180.05L479.50 180.86L479.93 181.66L480.35 182.46L480.77 183.24L481.20 184.01L481.62 184.77L482.05 185.52L482.48 186.25L482.90 186.98L483.32 187.70L483.75 188.40L484.18 189.10L484.60 189.78L485.02 190.45L485.45 191.10L485.88 191.75L486.30 192.38L486.73 193.00L487.15 193.60L487.57 194.19L488.00 194.77L488.43 195.34L488.85 195.89L489.27 196.43L489.70 196.95L490.12 197.46L490.55 197.96L490.97 198.44L491.40 198.90L491.82 199.36L492.25 199.79L492.67 200.21L493.10 200.62L493.52 201.01L493.95 201.39L494.38 201.74L494.80 202.09L495.23 202.42L495.65 202.73L496.07 203.02L496.50 203.30L496.92 203.57L497.35 203.81L497.77 204.04L498.20 204.26L498.62 204.46L499.05 204.64L499.48 204.80L499.90 204.95L500.32 205.08L500.75 205.19L501.17 205.28L501.60 205.36L502.02 205.42L502.45 205.47L502.88 205.49L503.30 205.50L503.73 205.49L504.15 205.47L504.57 205.42L505.00 205.36L505.42 205.28L505.85 205.18L506.27 205.07L506.70 204.94L507.12 204.79L507.55 204.62L507.97 204.44L508.40 204.24L508.82 204.02L509.25 203.78L509.67 203.52L510.10 203.25L510.52 202.96L510.95 202.66L511.38 202.33L511.80 201.99L512.23 201.63L512.65 201.25L513.07 200.86L513.50 200.45L513.92 200.02L514.35 199.57L514.77 199.11L515.20 198.63L515.62 198.14L516.05 197.63L516.48 197.10L516.90 196.55L517.32 195.99L517.75 195.41L518.17 194.82L518.60 194.21L519.02 193.58L519.45 192.94L519.88 192.28L520.30 191.61L520.73 190.92L521.15 190.22L521.58 189.50L522.00 188.76L522.42 188.01L522.85 187.25L523.27 186.47L523.70 185.68L524.12 184.87L524.55 184.05L524.98 183.22L525.40 182.37L525.83 181.51L526.25 180.64L526.67 179.75L527.10 178.85L527.52 177.94L527.95 177.01L528.38 176.07L528.80 175.13L529.22 174.16L529.65 173.19L530.07 172.21L530.50 171.21L530.92 170.21L531.35 169.19L531.77 168.16L532.20 167.13L532.62 166.08L533.05 165.02L533.47 163.96L533.90 162.88L534.32 161.80L534.75 160.70L535.17 159.60L535.60 158.49L536.02 157.38L536.45 156.25L536.88 155.12L537.30 153.98L537.73 152.83L538.15 151.68L538.57 150.52L539.00 149.36L539.42 148.19L539.85 147.01L540.27 145.83L540.70 144.65L541.12 143.46L541.55 142.26L541.98 141.07L542.40 139.86L542.82 138.66L543.25 137.45L543.67 136.24L544.10 135.03L544.52 133.81L544.95 132.60L545.38 131.38L545.80 130.16L546.23 128.94L546.65 127.72L547.08 126.50L547.50 125.28L547.92 124.06L548.35 122.84L548.77 121.62L549.20 120.40L549.62 119.19L550.05 117.97L550.47 116.76L550.90 115.55L551.32 114.35L551.75 113.14L552.17 111.94L552.60 110.75L553.02 109.56L553.45 108.37L553.88 107.19L554.30 106.01L554.72 104.84L555.15 103.67L555.57 102.51L556.00 101.36L556.42 100.21L556.85 99.07L557.27 97.93L557.70 96.81L558.12 95.69L558.55 94.58L558.97 93.47L559.40 92.38L559.82 91.30L560.25 90.22L560.67 89.15L561.10 88.10L561.52 87.05L561.95 86.01L562.38 84.99L562.80 83.97L563.22 82.97L563.65 81.98L564.07 81.00L564.50 80.03L564.92 79.07L565.35 78.12L565.77 77.19L566.20 76.27L566.62 75.37L567.05 74.47L567.47 73.59L567.90 72.73L568.32 71.88L568.75 71.04L569.17 70.22L569.60 69.41L570.02 68.62L570.45 67.84L570.88 67.08L571.30 66.33L571.72 65.60L572.15 64.89L572.57 64.19L573.00 63.50L573.42 62.84L573.85 62.19L574.27 61.56L574.70 60.94L575.12 60.34L575.55 59.76L575.97 59.20L576.40 58.65L576.82 58.12L577.25 57.61L577.67 57.12L578.10 56.65L578.52 56.19L578.95 55.76L579.38 55.34L579.80 54.94L580.22 54.56L580.65 54.19L581.07 53.85L581.50 53.53L581.92 53.22L582.35 52.94L582.77 52.67L583.20 52.43L583.62 52.20L584.05 51.99L584.47 51.80L584.90 51.63L585.32 51.49L585.75 51.36L586.17 51.25L586.60 51.16L587.02 51.09L587.45 51.04L587.88 51.01L588.30 51.00" fill="none" stroke="#8000ff" stroke-width="1.25" stroke-dasharray="3.2 1.4"/>
<path d="M420.00 75.87l1.3 2.35h-2.6zM423.40 76.83l1.3 2.35h-2.6zM426.80 78.74l1.3 2.35h-2.6zM430.20 81.56l1.3 2.35h-2.6zM433.60 85.27l1.3 2.35h-2.6zM437.00 89.80l1.3 2.35h-2.6zM440.40 95.10l1.3 2.35h-2.6zM443.80 101.08l1.3 2.35h-2.6zM447.20 107.68l1.3 2.35h-2.6zM450.60 114.77l1.3 2.35h-2.6zM454.00 122.27l1.3 2.35h-2.6zM457.40 130.07l1.3 2.35h-2.6zM460.80 138.04l1.3 2.35h-2.6zM464.20 146.06l1.3 2.35h-2.6zM467.60 154.02l1.3 2.35h-2.6zM471.00 161.78l1.3 2.35h-2.6zM474.40 169.22l1.3 2.35h-2.6zM477.80 176.22l1.3 2.35h-2.6zM481.20 182.66l1.3 2.35h-2.6zM484.60 188.43l1.3 2.35h-2.6zM488.00 193.42l1.3 2.35h-2.6zM491.40 197.55l1.3 2.35h-2.6zM494.80 200.74l1.3 2.35h-2.6zM498.20 202.91l1.3 2.35h-2.6zM501.60 204.01l1.3 2.35h-2.6zM505.00 204.01l1.3 2.35h-2.6zM508.40 202.89l1.3 2.35h-2.6zM511.80 200.64l1.3 2.35h-2.6zM515.20 197.28l1.3 2.35h-2.6zM518.60 192.86l1.3 2.35h-2.6zM522.00 187.41l1.3 2.35h-2.6zM525.40 181.02l1.3 2.35h-2.6zM528.80 173.78l1.3 2.35h-2.6zM532.20 165.78l1.3 2.35h-2.6zM535.60 157.14l1.3 2.35h-2.6zM539.00 148.01l1.3 2.35h-2.6zM542.40 138.51l1.3 2.35h-2.6zM545.80 128.81l1.3 2.35h-2.6zM549.20 119.05l1.3 2.35h-2.6zM552.60 109.40l1.3 2.35h-2.6zM556.00 100.01l1.3 2.35h-2.6zM559.40 91.03l1.3 2.35h-2.6zM562.80 82.62l1.3 2.35h-2.6zM566.20 74.92l1.3 2.35h-2.6zM569.60 68.06l1.3 2.35h-2.6zM573.00 62.15l1.3 2.35h-2.6zM576.40 57.30l1.3 2.35h-2.6zM579.80 53.59l1.3 2.35h-2.6zM583.20 51.08l1.3 2.35h-2.6zM586.60 49.81l1.3 2.35h-2.6z" fill="#fff" fill-opacity="0.6" stroke="#8000ff" stroke-width="0.45"/>
<path d="M418.30 27.00L418.73 27.01L419.15 27.04L419.57 27.10L420.00 27.17L420.43 27.27L420.85 27.39L421.28 27.53L421.70 27.70L422.12 27.88L422.55 28.09L422.98 28.32L423.40 28.57L423.82 28.84L424.25 29.13L424.68 29.44L425.10 29.78L425.53 30.13L425.95 30.51L426.38 30.91L426.80 31.33L427.23 31.77L427.65 32.23L428.07 32.71L428.50 33.21L428.93 33.73L429.35 34.27L429.78 34.83L430.20 35.41L430.62 36.01L431.05 36.63L431.48 37.27L431.90 37.93L432.32 38.61L432.75 39.31L433.18 40.03L433.60 40.76L434.02 41.51L434.45 42.29L434.88 43.08L435.30 43.88L435.73 44.71L436.15 45.55L436.57 46.41L437.00 47.29L437.43 48.18L437.85 49.09L438.27 50.02L438.70 50.96L439.12 51.92L439.55 52.90L439.98 53.89L440.40 54.89L440.82 55.92L441.25 56.95L441.68 58.00L442.10 59.06L442.52 60.14L442.95 61.23L443.38 62.34L443.80 63.46L444.23 64.59L444.65 65.73L445.07 66.89L445.50 68.06L445.93 69.24L446.35 70.43L446.77 71.63L447.20 72.84L447.62 74.07L448.05 75.30L448.48 76.55L448.90 77.80L449.32 79.07L449.75 80.34L450.18 81.62L450.60 82.91L451.02 84.21L451.45 85.51L451.88 86.83L452.30 88.15L452.73 89.47L453.15 90.81L453.57 92.15L454.00 93.49L454.43 94.84L454.85 96.20L455.27 97.56L455.70 98.93L456.12 100.30L456.55 101.67L456.98 103.05L457.40 104.43L457.82 105.81L458.25 107.20L458.68 108.59L459.10 109.98L459.52 111.37L459.95 112.76L460.38 114.16L460.80 115.55L461.23 116.95L461.65 118.34L462.07 119.73L462.50 121.12L462.93 122.52L463.35 123.91L463.77 125.29L464.20 126.68L464.62 128.06L465.05 129.44L465.48 130.82L465.90 132.19L466.32 133.56L466.75 134.92L467.18 136.28L467.60 137.64L468.02 138.99L468.45 140.33L468.88 141.67L469.30 143.00L469.73 144.32L470.15 145.64L470.57 146.95L471.00 148.25L471.43 149.55L471.85 150.84L472.27 152.11L472.70 153.38L473.12 154.64L473.55 155.89L473.98 157.13L474.40 158.36L474.82 159.58L475.25 160.79L475.68 161.99L476.10 163.18L476.52 164.35L476.95 165.51L477.38 166.67L477.80 167.80L478.22 168.93L478.65 170.04L479.07 171.14L479.50 172.23L479.93 173.30L480.35 174.36L480.77 175.40L481.20 176.43L481.62 177.44L482.05 178.44L482.48 179.42L482.90 180.39L483.32 181.34L483.75 182.27L484.18 183.19L484.60 184.09L485.02 184.98L485.45 185.85L485.88 186.70L486.30 187.53L486.73 188.34L487.15 189.14L487.57 189.92L488.00 190.68L488.43 191.42L488.85 192.15L489.27 192.85L489.70 193.54L490.12 194.20L490.55 194.85L490.97 195.48L491.40 196.09L491.82 196.67L492.25 197.24L492.67 197.79L493.10 198.32L493.52 198.82L493.95 199.31L494.38 199.77L494.80 200.22L495.23 200.64L495.65 201.05L496.07 201.43L496.50 201.79L496.92 202.13L497.35 202.44L497.77 202.74L498.20 203.01L498.62 203.27L499.05 203.50L499.48 203.71L499.90 203.89L500.32 204.06L500.75 204.20L501.17 204.32L501.60 204.42L502.02 204.50L502.45 204.56L502.88 204.59L503.30 204.60L503.73 204.59L504.15 204.56L504.57 204.50L505.00 204.42L505.42 204.32L505.85 204.20L506.27 204.06L506.70 203.89L507.12 203.71L507.55 203.50L507.97 203.26L508.40 203.01L508.82 202.74L509.25 202.44L509.67 202.12L510.10 201.78L510.52 201.42L510.95 201.04L511.38 200.63L511.80 200.21L512.23 199.76L512.65 199.29L513.07 198.80L513.50 198.29L513.92 197.76L514.35 197.21L514.77 196.64L515.20 196.05L515.62 195.44L516.05 194.81L516.48 194.16L516.90 193.48L517.32 192.79L517.75 192.08L518.17 191.36L518.60 190.61L519.02 189.84L519.45 189.05L519.88 188.25L520.30 187.43L520.73 186.59L521.15 185.73L521.58 184.85L522.00 183.96L522.42 183.05L522.85 182.12L523.27 181.18L523.70 180.22L524.12 179.24L524.55 178.25L524.98 177.24L525.40 176.21L525.83 175.17L526.25 174.12L526.67 173.05L527.10 171.96L527.52 170.87L527.95 169.75L528.38 168.63L528.80 167.49L529.22 166.33L529.65 165.17L530.07 163.99L530.50 162.80L530.92 161.59L531.35 160.38L531.77 159.15L532.20 157.91L532.62 156.67L533.05 155.41L533.47 154.14L533.90 152.86L534.32 151.57L534.75 150.27L535.17 148.97L535.60 147.65L536.02 146.33L536.45 144.99L536.88 143.66L537.30 142.31L537.73 140.95L538.15 139.59L538.57 138.23L539.00 136.85L539.42 135.47L539.85 134.09L540.27 132.70L540.70 131.31L541.12 129.91L541.55 128.51L541.98 127.10L542.40 125.69L542.82 124.28L543.25 122.87L543.67 121.45L544.10 120.03L544.52 118.61L544.95 117.19L545.38 115.77L545.80 114.35L546.23 112.93L546.65 111.50L547.08 110.08L547.50 108.66L547.92 107.24L548.35 105.83L548.77 104.41L549.20 103.00L549.62 101.59L550.05 100.18L550.47 98.77L550.90 97.37L551.32 95.98L551.75 94.59L552.17 93.20L552.60 91.82L553.02 90.44L553.45 89.07L553.88 87.70L554.30 86.35L554.72 85.00L555.15 83.65L555.57 82.31L556.00 80.99L556.42 79.67L556.85 78.35L557.27 77.05L557.70 75.76L558.12 74.47L558.55 73.20L558.97 71.93L559.40 70.68L559.82 69.43L560.25 68.20L560.67 66.98L561.10 65.77L561.52 64.57L561.95 63.39L562.38 62.21L562.80 61.05L563.22 59.91L563.65 58.77L564.07 57.65L564.50 56.55L564.92 55.45L565.35 54.38L565.77 53.31L566.20 52.27L566.62 51.23L567.05 50.22L567.47 49.22L567.90 48.23L568.32 47.26L568.75 46.31L569.17 45.38L569.60 44.46L570.02 43.56L570.45 42.67L570.88 41.81L571.30 40.96L571.72 40.13L572.15 39.32L572.57 38.52L573.00 37.75L573.42 37.00L573.85 36.26L574.27 35.54L574.70 34.84L575.12 34.17L575.55 33.51L575.97 32.87L576.40 32.25L576.82 31.65L577.25 31.08L577.67 30.52L578.10 29.98L578.52 29.47L578.95 28.97L579.38 28.50L579.80 28.05L580.22 27.62L580.65 27.21L581.07 26.82L581.50 26.46L581.92 26.11L582.35 25.79L582.77 25.49L583.20 25.21L583.62 24.95L584.05 24.72L584.47 24.51L584.90 24.32L585.32 24.15L585.75 24.00L586.17 23.88L586.60 23.78L587.02 23.70L587.45 23.64L587.88 23.61L588.30 23.60" fill="none" stroke="#000" stroke-width="1.30"/>
<circle cx="420.00" cy="27.17" r="1.55" fill="#000"/>
<circle cx="423.40" cy="28.57" r="1.55" fill="#000"/>
<circle cx="426.80" cy="31.33" r="1.55" fill="#000"/>
<circle cx="430.20" cy="35.41" r="1.55" fill="#000"/>
<circle cx="433.60" cy="40.76" r="1.55" fill="#000"/>
<circle cx="437.00" cy="47.29" r="1.55" fill="#000"/>
<circle cx="440.40" cy="54.89" r="1.55" fill="#000"/>
<circle cx="443.80" cy="63.46" r="1.55" fill="#000"/>
<circle cx="447.20" cy="72.84" r="1.55" fill="#000"/>
<circle cx="450.60" cy="82.91" r="1.55" fill="#000"/>
<circle cx="454.00" cy="93.49" r="1.55" fill="#000"/>
<circle cx="457.40" cy="104.43" r="1.55" fill="#000"/>
<circle cx="460.80" cy="115.55" r="1.55" fill="#000"/>
<circle cx="464.20" cy="126.68" r="1.55" fill="#000"/>
<circle cx="467.60" cy="137.64" r="1.55" fill="#000"/>
<circle cx="471.00" cy="148.25" r="1.55" fill="#000"/>
<circle cx="474.40" cy="158.36" r="1.55" fill="#000"/>
<circle cx="477.80" cy="167.80" r="1.55" fill="#000"/>
<circle cx="481.20" cy="176.43" r="1.55" fill="#000"/>
<circle cx="484.60" cy="184.09" r="1.55" fill="#000"/>
<circle cx="488.00" cy="190.68" r="1.55" fill="#000"/>
<circle cx="491.40" cy="196.09" r="1.55" fill="#000"/>
<circle cx="494.80" cy="200.22" r="1.55" fill="#000"/>
<circle cx="498.20" cy="203.01" r="1.55" fill="#000"/>
<circle cx="501.60" cy="204.42" r="1.55" fill="#000"/>
<circle cx="505.00" cy="204.42" r="1.55" fill="#000"/>
<circle cx="508.40" cy="203.01" r="1.55" fill="#000"/>
<circle cx="511.80" cy="200.21" r="1.55" fill="#000"/>
<circle cx="515.20" cy="196.05" r="1.55" fill="#000"/>
<circle cx="518.60" cy="190.61" r="1.55" fill="#000"/>
<circle cx="522.00" cy="183.96" r="1.55" fill="#000"/>
<circle cx="525.40" cy="176.21" r="1.55" fill="#000"/>
<circle cx="528.80" cy="167.49" r="1.55" fill="#000"/>
<circle cx="532.20" cy="157.91" r="1.55" fill="#000"/>
<circle cx="535.60" cy="147.65" r="1.55" fill="#000"/>
<circle cx="539.00" cy="136.85" r="1.55" fill="#000"/>
<circle cx="542.40" cy="125.69" r="1.55" fill="#000"/>
<circle cx="545.80" cy="114.35" r="1.55" fill="#000"/>
<circle cx="549.20" cy="103.00" r="1.55" fill="#000"/>
<circle cx="552.60" cy="91.82" r="1.55" fill="#000"/>
<circle cx="556.00" cy="80.99" r="1.55" fill="#000"/>
<circle cx="559.40" cy="70.68" r="1.55" fill="#000"/>
<circle cx="562.80" cy="61.05" r="1.55" fill="#000"/>
<circle cx="566.20" cy="52.27" r="1.55" fill="#000"/>
<circle cx="569.60" cy="44.46" r="1.55" fill="#000"/>
<circle cx="573.00" cy="37.75" r="1.55" fill="#000"/>
<circle cx="576.40" cy="32.25" r="1.55" fill="#000"/>
<circle cx="579.80" cy="28.05" r="1.55" fill="#000"/>
<circle cx="583.20" cy="25.21" r="1.55" fill="#000"/>
<circle cx="586.60" cy="23.78" r="1.55" fill="#000"/>
<path d="M418.30 52.20L418.73 52.21L419.15 52.24L419.57 52.29L420.00 52.36L420.43 52.44L420.85 52.55L421.28 52.68L421.70 52.83L422.12 52.99L422.55 53.18L422.98 53.38L423.40 53.61L423.82 53.85L424.25 54.11L424.68 54.39L425.10 54.69L425.53 55.01L425.95 55.35L426.38 55.71L426.80 56.08L427.23 56.48L427.65 56.89L428.07 57.32L428.50 57.77L428.93 58.24L429.35 58.72L429.78 59.22L430.20 59.74L430.62 60.28L431.05 60.84L431.48 61.41L431.90 62.00L432.32 62.61L432.75 63.23L433.18 63.87L433.60 64.53L434.02 65.20L434.45 65.89L434.88 66.60L435.30 67.32L435.73 68.06L436.15 68.81L436.57 69.58L437.00 70.36L437.43 71.15L437.85 71.97L438.27 72.79L438.70 73.63L439.12 74.49L439.55 75.35L439.98 76.23L440.40 77.13L440.82 78.04L441.25 78.96L441.68 79.89L442.10 80.83L442.52 81.79L442.95 82.76L443.38 83.74L443.80 84.73L444.23 85.73L444.65 86.74L445.07 87.77L445.50 88.80L445.93 89.85L446.35 90.90L446.77 91.96L447.20 93.03L447.62 94.11L448.05 95.20L448.48 96.30L448.90 97.40L449.32 98.52L449.75 99.64L450.18 100.76L450.60 101.90L451.02 103.04L451.45 104.19L451.88 105.34L452.30 106.50L452.73 107.66L453.15 108.83L453.57 110.00L454.00 111.18L454.43 112.36L454.85 113.55L455.27 114.74L455.70 115.93L456.12 117.13L456.55 118.33L456.98 119.53L457.40 120.73L457.82 121.93L458.25 123.14L458.68 124.35L459.10 125.55L459.52 126.76L459.95 127.97L460.38 129.18L460.80 130.38L461.23 131.59L461.65 132.80L462.07 134.00L462.50 135.20L462.93 136.40L463.35 137.60L463.77 138.80L464.20 139.99L464.62 141.18L465.05 142.37L465.48 143.55L465.90 144.73L466.32 145.90L466.75 147.07L467.18 148.24L467.60 149.40L468.02 150.55L468.45 151.70L468.88 152.84L469.30 153.98L469.73 155.11L470.15 156.23L470.57 157.34L471.00 158.45L471.43 159.55L471.85 160.65L472.27 161.73L472.70 162.80L473.12 163.87L473.55 164.93L473.98 165.98L474.40 167.02L474.82 168.05L475.25 169.07L475.68 170.08L476.10 171.07L476.52 172.06L476.95 173.04L477.38 174.01L477.80 174.96L478.22 175.90L478.65 176.83L479.07 177.75L479.50 178.66L479.93 179.55L480.35 180.44L480.77 181.31L481.20 182.16L481.62 183.00L482.05 183.83L482.48 184.65L482.90 185.45L483.32 186.24L483.75 187.01L484.18 187.77L484.60 188.52L485.02 189.25L485.45 189.96L485.88 190.66L486.30 191.35L486.73 192.02L487.15 192.67L487.57 193.31L488.00 193.94L488.43 194.54L488.85 195.14L489.27 195.71L489.70 196.27L490.12 196.82L490.55 197.34L490.97 197.85L491.40 198.35L491.82 198.82L492.25 199.29L492.67 199.73L493.10 200.16L493.52 200.57L493.95 200.96L494.38 201.33L494.80 201.69L495.23 202.03L495.65 202.36L496.07 202.67L496.50 202.95L496.92 203.23L497.35 203.48L497.77 203.72L498.20 203.94L498.62 204.14L499.05 204.32L499.48 204.49L499.90 204.64L500.32 204.77L500.75 204.88L501.17 204.98L501.60 205.06L502.02 205.12L502.45 205.17L502.88 205.19L503.30 205.20L503.73 205.19L504.15 205.17L504.57 205.12L505.00 205.06L505.42 204.98L505.85 204.89L506.27 204.77L506.70 204.64L507.12 204.50L507.55 204.33L507.97 204.15L508.40 203.96L508.82 203.74L509.25 203.51L509.67 203.26L510.10 203.00L510.52 202.72L510.95 202.42L511.38 202.11L511.80 201.78L512.23 201.44L512.65 201.08L513.07 200.70L513.50 200.31L513.92 199.90L514.35 199.48L514.77 199.04L515.20 198.59L515.62 198.12L516.05 197.64L516.48 197.14L516.90 196.63L517.32 196.10L517.75 195.56L518.17 195.00L518.60 194.44L519.02 193.85L519.45 193.26L519.88 192.65L520.30 192.03L520.73 191.39L521.15 190.74L521.58 190.08L522.00 189.41L522.42 188.73L522.85 188.03L523.27 187.32L523.70 186.60L524.12 185.87L524.55 185.12L524.98 184.37L525.40 183.60L525.83 182.83L526.25 182.04L526.67 181.24L527.10 180.44L527.52 179.62L527.95 178.79L528.38 177.96L528.80 177.11L529.22 176.26L529.65 175.40L530.07 174.52L530.50 173.65L530.92 172.76L531.35 171.86L531.77 170.96L532.20 170.05L532.62 169.13L533.05 168.21L533.47 167.28L533.90 166.34L534.32 165.40L534.75 164.45L535.17 163.50L535.60 162.54L536.02 161.57L536.45 160.60L536.88 159.63L537.30 158.65L537.73 157.67L538.15 156.68L538.57 155.69L539.00 154.69L539.42 153.70L539.85 152.69L540.27 151.69L540.70 150.69L541.12 149.68L541.55 148.67L541.98 147.66L542.40 146.64L542.82 145.63L543.25 144.61L543.67 143.60L544.10 142.58L544.52 141.56L544.95 140.55L545.38 139.53L545.80 138.52L546.23 137.50L546.65 136.49L547.08 135.47L547.50 134.46L547.92 133.45L548.35 132.44L548.77 131.44L549.20 130.44L549.62 129.44L550.05 128.44L550.47 127.44L550.90 126.45L551.32 125.47L551.75 124.48L552.17 123.50L552.60 122.53L553.02 121.56L553.45 120.59L553.88 119.63L554.30 118.68L554.72 117.73L555.15 116.78L555.57 115.84L556.00 114.91L556.42 113.99L556.85 113.07L557.27 112.15L557.70 111.25L558.12 110.35L558.55 109.46L558.97 108.58L559.40 107.70L559.82 106.83L560.25 105.97L560.67 105.12L561.10 104.28L561.52 103.45L561.95 102.62L562.38 101.81L562.80 101.00L563.22 100.20L563.65 99.42L564.07 98.64L564.50 97.87L564.92 97.11L565.35 96.37L565.77 95.63L566.20 94.91L566.62 94.19L567.05 93.49L567.47 92.80L567.90 92.12L568.32 91.45L568.75 90.79L569.17 90.15L569.60 89.51L570.02 88.89L570.45 88.28L570.88 87.69L571.30 87.10L571.72 86.53L572.15 85.98L572.57 85.43L573.00 84.90L573.42 84.38L573.85 83.87L574.27 83.38L574.70 82.90L575.12 82.44L575.55 81.98L575.97 81.55L576.40 81.12L576.82 80.71L577.25 80.32L577.67 79.94L578.10 79.57L578.52 79.22L578.95 78.88L579.38 78.55L579.80 78.24L580.22 77.95L580.65 77.67L581.07 77.40L581.50 77.15L581.92 76.92L582.35 76.70L582.77 76.49L583.20 76.30L583.62 76.13L584.05 75.97L584.47 75.82L584.90 75.69L585.32 75.58L585.75 75.48L586.17 75.39L586.60 75.32L587.02 75.27L587.45 75.23L587.88 75.21L588.30 75.20" fill="none" stroke="#0000ff" stroke-width="1.45"/>
<path d="M420.00 53.71l1.3 -2.35h-2.6zM423.40 54.96l1.3 -2.35h-2.6zM426.80 57.43l1.3 -2.35h-2.6zM430.20 61.09l1.3 -2.35h-2.6zM433.60 65.88l1.3 -2.35h-2.6zM437.00 71.71l1.3 -2.35h-2.6zM440.40 78.48l1.3 -2.35h-2.6zM443.80 86.08l1.3 -2.35h-2.6zM447.20 94.38l1.3 -2.35h-2.6zM450.60 103.25l1.3 -2.35h-2.6zM454.00 112.53l1.3 -2.35h-2.6zM457.40 122.08l1.3 -2.35h-2.6zM460.80 131.73l1.3 -2.35h-2.6zM464.20 141.34l1.3 -2.35h-2.6zM467.60 150.75l1.3 -2.35h-2.6zM471.00 159.80l1.3 -2.35h-2.6zM474.40 168.37l1.3 -2.35h-2.6zM477.80 176.31l1.3 -2.35h-2.6zM481.20 183.51l1.3 -2.35h-2.6zM484.60 189.87l1.3 -2.35h-2.6zM488.00 195.29l1.3 -2.35h-2.6zM491.40 199.70l1.3 -2.35h-2.6zM494.80 203.04l1.3 -2.35h-2.6zM498.20 205.29l1.3 -2.35h-2.6zM501.60 206.41l1.3 -2.35h-2.6zM505.00 206.41l1.3 -2.35h-2.6zM508.40 205.31l1.3 -2.35h-2.6zM511.80 203.13l1.3 -2.35h-2.6zM515.20 199.94l1.3 -2.35h-2.6zM518.60 195.79l1.3 -2.35h-2.6zM522.00 190.76l1.3 -2.35h-2.6zM525.40 184.95l1.3 -2.35h-2.6zM528.80 178.46l1.3 -2.35h-2.6zM532.20 171.40l1.3 -2.35h-2.6zM535.60 163.89l1.3 -2.35h-2.6zM539.00 156.04l1.3 -2.35h-2.6zM542.40 147.99l1.3 -2.35h-2.6zM545.80 139.87l1.3 -2.35h-2.6zM549.20 131.79l1.3 -2.35h-2.6zM552.60 123.88l1.3 -2.35h-2.6zM556.00 116.26l1.3 -2.35h-2.6zM559.40 109.05l1.3 -2.35h-2.6zM562.80 102.35l1.3 -2.35h-2.6zM566.20 96.26l1.3 -2.35h-2.6zM569.60 90.86l1.3 -2.35h-2.6zM573.00 86.25l1.3 -2.35h-2.6zM576.40 82.47l1.3 -2.35h-2.6zM579.80 79.59l1.3 -2.35h-2.6zM583.20 77.65l1.3 -2.35h-2.6zM586.60 76.67l1.3 -2.35h-2.6z" fill="#0000ff"/>
<path d="M418.30 85.60L418.73 85.61L419.15 85.63L419.57 85.67L420.00 85.73L420.43 85.80L420.85 85.89L421.28 85.99L421.70 86.11L422.12 86.24L422.55 86.39L422.98 86.56L423.40 86.74L423.82 86.94L424.25 87.15L424.68 87.38L425.10 87.62L425.53 87.88L425.95 88.16L426.38 88.45L426.80 88.75L427.23 89.07L427.65 89.41L428.07 89.76L428.50 90.12L428.93 90.50L429.35 90.89L429.78 91.30L430.20 91.72L430.62 92.16L431.05 92.61L431.48 93.07L431.90 93.55L432.32 94.04L432.75 94.55L433.18 95.07L433.60 95.60L434.02 96.14L434.45 96.70L434.88 97.27L435.30 97.85L435.73 98.45L436.15 99.06L436.57 99.68L437.00 100.31L437.43 100.95L437.85 101.61L438.27 102.28L438.70 102.96L439.12 103.64L439.55 104.34L439.98 105.06L440.40 105.78L440.82 106.51L441.25 107.25L441.68 108.00L442.10 108.76L442.52 109.53L442.95 110.31L443.38 111.10L443.80 111.90L444.23 112.70L444.65 113.52L445.07 114.34L445.50 115.17L445.93 116.01L446.35 116.86L446.77 117.71L447.20 118.57L447.62 119.43L448.05 120.31L448.48 121.19L448.90 122.07L449.32 122.96L449.75 123.86L450.18 124.76L450.60 125.67L451.02 126.58L451.45 127.50L451.88 128.42L452.30 129.34L452.73 130.27L453.15 131.21L453.57 132.14L454.00 133.08L454.43 134.02L454.85 134.97L455.27 135.91L455.70 136.86L456.12 137.81L456.55 138.77L456.98 139.72L457.40 140.67L457.82 141.63L458.25 142.59L458.68 143.54L459.10 144.50L459.52 145.46L459.95 146.41L460.38 147.37L460.80 148.32L461.23 149.28L461.65 150.23L462.07 151.18L462.50 152.13L462.93 153.08L463.35 154.02L463.77 154.97L464.20 155.90L464.62 156.84L465.05 157.77L465.48 158.70L465.90 159.63L466.32 160.55L466.75 161.47L467.18 162.38L467.60 163.29L468.02 164.19L468.45 165.09L468.88 165.99L469.30 166.88L469.73 167.76L470.15 168.63L470.57 169.50L471.00 170.37L471.43 171.22L471.85 172.08L472.27 172.92L472.70 173.76L473.12 174.58L473.55 175.41L473.98 176.22L474.40 177.03L474.82 177.82L475.25 178.61L475.68 179.39L476.10 180.17L476.52 180.93L476.95 181.68L477.38 182.43L477.80 183.17L478.22 183.89L478.65 184.61L479.07 185.32L479.50 186.01L479.93 186.70L480.35 187.38L480.77 188.04L481.20 188.70L481.62 189.35L482.05 189.98L482.48 190.60L482.90 191.22L483.32 191.82L483.75 192.41L484.18 192.99L484.60 193.56L485.02 194.11L485.45 194.66L485.88 195.19L486.30 195.71L486.73 196.22L487.15 196.71L487.57 197.20L488.00 197.67L488.43 198.13L488.85 198.58L489.27 199.01L489.70 199.43L490.12 199.84L490.55 200.24L490.97 200.62L491.40 200.99L491.82 201.35L492.25 201.70L492.67 202.03L493.10 202.35L493.52 202.66L493.95 202.95L494.38 203.23L494.80 203.50L495.23 203.75L495.65 204.00L496.07 204.22L496.50 204.44L496.92 204.64L497.35 204.83L497.77 205.01L498.20 205.17L498.62 205.32L499.05 205.45L499.48 205.58L499.90 205.69L500.32 205.78L500.75 205.87L501.17 205.94L501.60 206.00L502.02 206.04L502.45 206.07L502.88 206.09L503.30 206.10L503.73 206.09L504.15 206.07L504.57 206.04L505.00 206.00L505.42 205.94L505.85 205.87L506.27 205.79L506.70 205.70L507.12 205.59L507.55 205.47L507.97 205.34L508.40 205.20L508.82 205.04L509.25 204.87L509.67 204.70L510.10 204.51L510.52 204.30L510.95 204.09L511.38 203.87L511.80 203.63L512.23 203.38L512.65 203.12L513.07 202.85L513.50 202.57L513.92 202.28L514.35 201.98L514.77 201.67L515.20 201.35L515.62 201.01L516.05 200.67L516.48 200.32L516.90 199.95L517.32 199.58L517.75 199.20L518.17 198.80L518.60 198.40L519.02 197.99L519.45 197.57L519.88 197.14L520.30 196.71L520.73 196.26L521.15 195.80L521.58 195.34L522.00 194.87L522.42 194.39L522.85 193.90L523.27 193.41L523.70 192.90L524.12 192.39L524.55 191.88L524.98 191.35L525.40 190.82L525.83 190.28L526.25 189.73L526.67 189.18L527.10 188.62L527.52 188.06L527.95 187.49L528.38 186.91L528.80 186.33L529.22 185.74L529.65 185.15L530.07 184.55L530.50 183.95L530.92 183.34L531.35 182.72L531.77 182.11L532.20 181.48L532.62 180.86L533.05 180.23L533.47 179.59L533.90 178.96L534.32 178.31L534.75 177.67L535.17 177.02L535.60 176.37L536.02 175.72L536.45 175.06L536.88 174.40L537.30 173.74L537.73 173.08L538.15 172.41L538.57 171.74L539.00 171.07L539.42 170.40L539.85 169.73L540.27 169.06L540.70 168.38L541.12 167.71L541.55 167.03L541.98 166.36L542.40 165.68L542.82 165.00L543.25 164.33L543.67 163.65L544.10 162.97L544.52 162.30L544.95 161.62L545.38 160.95L545.80 160.28L546.23 159.60L546.65 158.93L547.08 158.26L547.50 157.59L547.92 156.93L548.35 156.26L548.77 155.60L549.20 154.94L549.62 154.28L550.05 153.63L550.47 152.97L550.90 152.32L551.32 151.68L551.75 151.03L552.17 150.39L552.60 149.76L553.02 149.12L553.45 148.49L553.88 147.86L554.30 147.24L554.72 146.62L555.15 146.01L555.57 145.40L556.00 144.79L556.42 144.19L556.85 143.60L557.27 143.00L557.70 142.42L558.12 141.84L558.55 141.26L558.97 140.69L559.40 140.12L559.82 139.56L560.25 139.01L560.67 138.46L561.10 137.92L561.52 137.38L561.95 136.85L562.38 136.33L562.80 135.81L563.22 135.30L563.65 134.79L564.07 134.29L564.50 133.80L564.92 133.32L565.35 132.84L565.77 132.37L566.20 131.90L566.62 131.45L567.05 131.00L567.47 130.56L567.90 130.12L568.32 129.70L568.75 129.28L569.17 128.87L569.60 128.46L570.02 128.07L570.45 127.68L570.88 127.30L571.30 126.93L571.72 126.57L572.15 126.21L572.57 125.87L573.00 125.53L573.42 125.20L573.85 124.88L574.27 124.57L574.70 124.26L575.12 123.97L575.55 123.68L575.97 123.41L576.40 123.14L576.82 122.88L577.25 122.63L577.67 122.39L578.10 122.16L578.52 121.93L578.95 121.72L579.38 121.51L579.80 121.32L580.22 121.13L580.65 120.96L581.07 120.79L581.50 120.63L581.92 120.48L582.35 120.34L582.77 120.21L583.20 120.09L583.62 119.98L584.05 119.88L584.47 119.79L584.90 119.71L585.32 119.64L585.75 119.57L586.17 119.52L586.60 119.48L587.02 119.44L587.45 119.42L587.88 119.40L588.30 119.40" fill="none" stroke="#35a0a0" stroke-width="1.25" stroke-dasharray="3.2 1.4"/>
<path d="M420.00 87.08l1.3 -2.35h-2.6zM423.40 88.09l1.3 -2.35h-2.6zM426.80 90.10l1.3 -2.35h-2.6zM430.20 93.07l1.3 -2.35h-2.6zM433.60 96.95l1.3 -2.35h-2.6zM437.00 101.66l1.3 -2.35h-2.6zM440.40 107.13l1.3 -2.35h-2.6zM443.80 113.25l1.3 -2.35h-2.6zM447.20 119.92l1.3 -2.35h-2.6zM450.60 127.02l1.3 -2.35h-2.6zM454.00 134.43l1.3 -2.35h-2.6zM457.40 142.02l1.3 -2.35h-2.6zM460.80 149.67l1.3 -2.35h-2.6zM464.20 157.25l1.3 -2.35h-2.6zM467.60 164.64l1.3 -2.35h-2.6zM471.00 171.72l1.3 -2.35h-2.6zM474.40 178.38l1.3 -2.35h-2.6zM477.80 184.52l1.3 -2.35h-2.6zM481.20 190.05l1.3 -2.35h-2.6zM484.60 194.91l1.3 -2.35h-2.6zM488.00 199.02l1.3 -2.35h-2.6zM491.40 202.34l1.3 -2.35h-2.6zM494.80 204.85l1.3 -2.35h-2.6zM498.20 206.52l1.3 -2.35h-2.6zM501.60 207.35l1.3 -2.35h-2.6zM505.00 207.35l1.3 -2.35h-2.6zM508.40 206.55l1.3 -2.35h-2.6zM511.80 204.98l1.3 -2.35h-2.6zM515.20 202.70l1.3 -2.35h-2.6zM518.60 199.75l1.3 -2.35h-2.6zM522.00 196.22l1.3 -2.35h-2.6zM525.40 192.17l1.3 -2.35h-2.6zM528.80 187.68l1.3 -2.35h-2.6zM532.20 182.83l1.3 -2.35h-2.6zM535.60 177.72l1.3 -2.35h-2.6zM539.00 172.42l1.3 -2.35h-2.6zM542.40 167.03l1.3 -2.35h-2.6zM545.80 161.63l1.3 -2.35h-2.6zM549.20 156.29l1.3 -2.35h-2.6zM552.60 151.11l1.3 -2.35h-2.6zM556.00 146.14l1.3 -2.35h-2.6zM559.40 141.47l1.3 -2.35h-2.6zM562.80 137.16l1.3 -2.35h-2.6zM566.20 133.25l1.3 -2.35h-2.6zM569.60 129.81l1.3 -2.35h-2.6zM573.00 126.88l1.3 -2.35h-2.6zM576.40 124.49l1.3 -2.35h-2.6zM579.80 122.67l1.3 -2.35h-2.6zM583.20 121.44l1.3 -2.35h-2.6zM586.60 120.83l1.3 -2.35h-2.6z" fill="#fff" fill-opacity="0.6" stroke="#35a0a0" stroke-width="0.45"/>
<path d="M239.30 415.20L239.72 415.19L240.14 415.18L240.56 415.15L240.99 415.11L241.41 415.06L241.83 415.00L242.25 414.93L242.67 414.84L243.09 414.75L243.52 414.64L243.94 414.52L244.36 414.40L244.78 414.26L245.20 414.11L245.62 413.94L246.04 413.77L246.47 413.59L246.89 413.40L247.31 413.19L247.73 412.98L248.15 412.75L248.57 412.51L248.99 412.27L249.42 412.01L249.84 411.74L250.26 411.46L250.68 411.17L251.10 410.87L251.52 410.56L251.95 410.24L252.37 409.91L252.79 409.57L253.21 409.22L253.63 408.87L254.05 408.50L254.47 408.12L254.90 407.73L255.32 407.33L255.74 406.92L256.16 406.51L256.58 406.08L257.00 405.65L257.42 405.20L257.85 404.75L258.27 404.29L258.69 403.82L259.11 403.34L259.53 402.85L259.95 402.35L260.38 401.85L260.80 401.34L261.22 400.82L261.64 400.29L262.06 399.75L262.48 399.21L262.90 398.66L263.33 398.10L263.75 397.54L264.17 396.96L264.59 396.38L265.01 395.80L265.43 395.20L265.85 394.60L266.28 394.00L266.70 393.38L267.12 392.76L267.54 392.14L267.96 391.51L268.38 390.87L268.81 390.23L269.23 389.58L269.65 388.93L270.07 388.27L270.49 387.61L270.91 386.94L271.33 386.27L271.76 385.59L272.18 384.91L272.60 384.22L273.02 383.53L273.44 382.84L273.86 382.14L274.28 381.44L274.71 380.74L275.13 380.03L275.55 379.32L275.97 378.61L276.39 377.89L276.81 377.17L277.24 376.45L277.66 375.73L278.08 375.00L278.50 374.28L278.92 373.55L279.34 372.82L279.76 372.08L280.19 371.35L280.61 370.62L281.03 369.88L281.45 369.15L281.87 368.41L282.29 367.68L282.71 366.94L283.14 366.20L283.56 365.47L283.98 364.73L284.40 364.00L284.82 363.26L285.24 362.53L285.67 361.80L286.09 361.07L286.51 360.34L286.93 359.61L287.35 358.88L287.77 358.16L288.19 357.44L288.62 356.72L289.04 356.00L289.46 355.29L289.88 354.58L290.30 353.87L290.72 353.16L291.14 352.46L291.57 351.76L291.99 351.07L292.41 350.38L292.83 349.69L293.25 349.01L293.67 348.33L294.10 347.65L294.52 346.98L294.94 346.32L295.36 345.66L295.78 345.01L296.20 344.36L296.62 343.71L297.05 343.08L297.47 342.45L297.89 341.82L298.31 341.20L298.73 340.59L299.15 339.98L299.57 339.38L300.00 338.79L300.42 338.20L300.84 337.62L301.26 337.05L301.68 336.48L302.10 335.92L302.52 335.37L302.95 334.83L303.37 334.29L303.79 333.77L304.21 333.25L304.63 332.74L305.05 332.24L305.48 331.74L305.90 331.26L306.32 330.78L306.74 330.31L307.16 329.86L307.58 329.41L308.00 328.97L308.43 328.54L308.85 328.12L309.27 327.70L309.69 327.30L310.11 326.91L310.53 326.53L310.95 326.15L311.38 325.79L311.80 325.44L312.22 325.10L312.64 324.77L313.06 324.45L313.48 324.13L313.91 323.83L314.33 323.54L314.75 323.27L315.17 323.00L315.59 322.74L316.01 322.49L316.43 322.26L316.86 322.04L317.28 321.82L317.70 321.62L318.12 321.43L318.54 321.25L318.96 321.08L319.38 320.93L319.81 320.78L320.23 320.65L320.65 320.53L321.07 320.42L321.49 320.32L321.91 320.23L322.34 320.16L322.76 320.09L323.18 320.04L323.60 320.00L324.02 319.97L324.44 319.95L324.86 319.95L325.29 319.96L325.71 319.98L326.13 320.01L326.55 320.05L326.97 320.10L327.39 320.17L327.81 320.24L328.24 320.33L328.66 320.43L329.08 320.55L329.50 320.67L329.92 320.81L330.34 320.96L330.77 321.11L331.19 321.29L331.61 321.47L332.03 321.66L332.45 321.87L332.87 322.08L333.29 322.31L333.72 322.55L334.14 322.80L334.56 323.06L334.98 323.34L335.40 323.62L335.82 323.92L336.25 324.22L336.67 324.54L337.09 324.87L337.51 325.20L337.93 325.55L338.35 325.91L338.77 326.28L339.20 326.66L339.62 327.05L340.04 327.46L340.46 327.87L340.88 328.29L341.30 328.72L341.72 329.16L342.15 329.61L342.57 330.07L342.99 330.54L343.41 331.02L343.83 331.51L344.25 332.00L344.67 332.51L345.10 333.03L345.52 333.55L345.94 334.08L346.36 334.62L346.78 335.17L347.20 335.73L347.63 336.30L348.05 336.87L348.47 337.45L348.89 338.04L349.31 338.64L349.73 339.24L350.15 339.86L350.58 340.47L351.00 341.10L351.42 341.73L351.84 342.37L352.26 343.02L352.68 343.67L353.11 344.33L353.53 344.99L353.95 345.66L354.37 346.34L354.79 347.02L355.21 347.70L355.63 348.39L356.06 349.09L356.48 349.79L356.90 350.50L357.32 351.21L357.74 351.92L358.16 352.64L358.58 353.36L359.01 354.09L359.43 354.82L359.85 355.55L360.27 356.28L360.69 357.02L361.11 357.77L361.53 358.51L361.96 359.26L362.38 360.00L362.80 360.76L363.22 361.51L363.64 362.26L364.06 363.02L364.49 363.78L364.91 364.53L365.33 365.29L365.75 366.05L366.17 366.81L366.59 367.57L367.01 368.33L367.44 369.09L367.86 369.85L368.28 370.61L368.70 371.37L369.12 372.13L369.54 372.89L369.96 373.64L370.39 374.40L370.81 375.15L371.23 375.90L371.65 376.65L372.07 377.39L372.49 378.14L372.92 378.88L373.34 379.62L373.76 380.35L374.18 381.09L374.60 381.81L375.02 382.54L375.44 383.26L375.87 383.98L376.29 384.69L376.71 385.40L377.13 386.11L377.55 386.81L377.97 387.50L378.39 388.19L378.82 388.88L379.24 389.55L379.66 390.23L380.08 390.90L380.50 391.56L380.92 392.21L381.35 392.86L381.77 393.51L382.19 394.14L382.61 394.77L383.03 395.40L383.45 396.01L383.87 396.62L384.30 397.22L384.72 397.82L385.14 398.40L385.56 398.98L385.98 399.55L386.40 400.11L386.82 400.67L387.25 401.21L387.67 401.75L388.09 402.27L388.51 402.79L388.93 403.30L389.35 403.80L389.78 404.29L390.20 404.78L390.62 405.25L391.04 405.71L391.46 406.16L391.88 406.61L392.30 407.04L392.73 407.46L393.15 407.88L393.57 408.28L393.99 408.67L394.41 409.05L394.83 409.42L395.25 409.78L395.68 410.13L396.10 410.47L396.52 410.79L396.94 411.11L397.36 411.41L397.78 411.71L398.21 411.99L398.63 412.26L399.05 412.52L399.47 412.76L399.89 413.00L400.31 413.22L400.73 413.44L401.16 413.64L401.58 413.82L402.00 414.00L402.42 414.17L402.84 414.32L403.26 414.46L403.68 414.59L404.11 414.70L404.53 414.81L404.95 414.90L405.37 414.98L405.79 415.05L406.21 415.10L406.64 415.14L407.06 415.18L407.48 415.19L407.90 415.20" fill="none" stroke="#ff0000" stroke-width="1.45"/>
<path d="M240.99 413.76l1.3 2.35h-2.6zM244.36 413.05l1.3 2.35h-2.6zM247.73 411.63l1.3 2.35h-2.6zM251.10 409.52l1.3 2.35h-2.6zM254.47 406.77l1.3 2.35h-2.6zM257.85 403.40l1.3 2.35h-2.6zM261.22 399.47l1.3 2.35h-2.6zM264.59 395.03l1.3 2.35h-2.6zM267.96 390.16l1.3 2.35h-2.6zM271.33 384.92l1.3 2.35h-2.6zM274.71 379.39l1.3 2.35h-2.6zM278.08 373.65l1.3 2.35h-2.6zM281.45 367.80l1.3 2.35h-2.6zM284.82 361.91l1.3 2.35h-2.6zM288.19 356.09l1.3 2.35h-2.6zM291.57 350.41l1.3 2.35h-2.6zM294.94 344.97l1.3 2.35h-2.6zM298.31 339.85l1.3 2.35h-2.6zM301.68 335.13l1.3 2.35h-2.6zM305.05 330.89l1.3 2.35h-2.6zM308.43 327.19l1.3 2.35h-2.6zM311.80 324.09l1.3 2.35h-2.6zM315.17 321.65l1.3 2.35h-2.6zM318.54 319.90l1.3 2.35h-2.6zM321.91 318.88l1.3 2.35h-2.6zM325.29 318.61l1.3 2.35h-2.6zM328.66 319.08l1.3 2.35h-2.6zM332.03 320.31l1.3 2.35h-2.6zM335.40 322.27l1.3 2.35h-2.6zM338.77 324.93l1.3 2.35h-2.6zM342.15 328.26l1.3 2.35h-2.6zM345.52 332.20l1.3 2.35h-2.6zM348.89 336.69l1.3 2.35h-2.6zM352.26 341.67l1.3 2.35h-2.6zM355.63 347.04l1.3 2.35h-2.6zM359.01 352.74l1.3 2.35h-2.6zM362.38 358.65l1.3 2.35h-2.6zM365.75 364.70l1.3 2.35h-2.6zM369.12 370.78l1.3 2.35h-2.6zM372.49 376.79l1.3 2.35h-2.6zM375.87 382.63l1.3 2.35h-2.6zM379.24 388.20l1.3 2.35h-2.6zM382.61 393.42l1.3 2.35h-2.6zM385.98 398.20l1.3 2.35h-2.6zM389.35 402.45l1.3 2.35h-2.6zM392.73 406.11l1.3 2.35h-2.6zM396.10 409.12l1.3 2.35h-2.6zM399.47 411.41l1.3 2.35h-2.6zM402.84 412.97l1.3 2.35h-2.6zM406.21 413.75l1.3 2.35h-2.6z" fill="#ff0000"/>
<path d="M239.30 415.20L239.72 415.19L240.14 415.17L240.56 415.13L240.99 415.07L241.41 415.00L241.83 414.91L242.25 414.80L242.67 414.68L243.09 414.54L243.52 414.38L243.94 414.21L244.36 414.02L244.78 413.82L245.20 413.60L245.62 413.37L246.04 413.12L246.47 412.85L246.89 412.57L247.31 412.27L247.73 411.95L248.15 411.62L248.57 411.28L248.99 410.92L249.42 410.54L249.84 410.15L250.26 409.74L250.68 409.32L251.10 408.88L251.52 408.43L251.95 407.96L252.37 407.48L252.79 406.99L253.21 406.48L253.63 405.95L254.05 405.42L254.47 404.86L254.90 404.30L255.32 403.72L255.74 403.12L256.16 402.52L256.58 401.90L257.00 401.26L257.42 400.62L257.85 399.96L258.27 399.28L258.69 398.60L259.11 397.90L259.53 397.19L259.95 396.47L260.38 395.74L260.80 394.99L261.22 394.24L261.64 393.47L262.06 392.69L262.48 391.90L262.90 391.10L263.33 390.29L263.75 389.46L264.17 388.63L264.59 387.79L265.01 386.94L265.43 386.08L265.85 385.21L266.28 384.33L266.70 383.44L267.12 382.54L267.54 381.63L267.96 380.72L268.38 379.80L268.81 378.87L269.23 377.93L269.65 376.98L270.07 376.03L270.49 375.07L270.91 374.10L271.33 373.13L271.76 372.15L272.18 371.17L272.60 370.17L273.02 369.18L273.44 368.18L273.86 367.17L274.28 366.16L274.71 365.14L275.13 364.12L275.55 363.09L275.97 362.07L276.39 361.03L276.81 360.00L277.24 358.96L277.66 357.92L278.08 356.87L278.50 355.83L278.92 354.78L279.34 353.73L279.76 352.68L280.19 351.62L280.61 350.57L281.03 349.51L281.45 348.46L281.87 347.40L282.29 346.35L282.71 345.29L283.14 344.23L283.56 343.18L283.98 342.13L284.40 341.07L284.82 340.02L285.24 338.97L285.67 337.93L286.09 336.88L286.51 335.84L286.93 334.80L287.35 333.76L287.77 332.73L288.19 331.70L288.62 330.67L289.04 329.65L289.46 328.63L289.88 327.62L290.30 326.61L290.72 325.61L291.14 324.61L291.57 323.62L291.99 322.63L292.41 321.65L292.83 320.68L293.25 319.71L293.67 318.75L294.10 317.79L294.52 316.85L294.94 315.91L295.36 314.97L295.78 314.05L296.20 313.13L296.62 312.23L297.05 311.33L297.47 310.44L297.89 309.56L298.31 308.68L298.73 307.82L299.15 306.97L299.57 306.12L300.00 305.29L300.42 304.47L300.84 303.65L301.26 302.85L301.68 302.06L302.10 301.28L302.52 300.51L302.95 299.76L303.37 299.01L303.79 298.28L304.21 297.56L304.63 296.85L305.05 296.15L305.48 295.46L305.90 294.79L306.32 294.13L306.74 293.49L307.16 292.85L307.58 292.23L308.00 291.63L308.43 291.04L308.85 290.46L309.27 289.89L309.69 289.34L310.11 288.81L310.53 288.28L310.95 287.78L311.38 287.28L311.80 286.81L312.22 286.34L312.64 285.89L313.06 285.46L313.48 285.04L313.91 284.64L314.33 284.25L314.75 283.88L315.17 283.53L315.59 283.19L316.01 282.86L316.43 282.55L316.86 282.26L317.28 281.98L317.70 281.72L318.12 281.48L318.54 281.25L318.96 281.04L319.38 280.84L319.81 280.67L320.23 280.50L320.65 280.36L321.07 280.23L321.49 280.11L321.91 280.02L322.34 279.94L322.76 279.88L323.18 279.83L323.60 279.80L324.02 279.79L324.44 279.79L324.86 279.81L325.29 279.85L325.71 279.90L326.13 279.97L326.55 280.06L326.97 280.16L327.39 280.29L327.81 280.42L328.24 280.58L328.66 280.75L329.08 280.93L329.50 281.14L329.92 281.36L330.34 281.59L330.77 281.85L331.19 282.11L331.61 282.40L332.03 282.70L332.45 283.02L332.87 283.35L333.29 283.70L333.72 284.06L334.14 284.45L334.56 284.84L334.98 285.25L335.40 285.68L335.82 286.12L336.25 286.58L336.67 287.05L337.09 287.54L337.51 288.05L337.93 288.56L338.35 289.10L338.77 289.64L339.20 290.20L339.62 290.78L340.04 291.37L340.46 291.97L340.88 292.59L341.30 293.22L341.72 293.87L342.15 294.52L342.57 295.20L342.99 295.88L343.41 296.58L343.83 297.29L344.25 298.01L344.67 298.74L345.10 299.49L345.52 300.25L345.94 301.02L346.36 301.80L346.78 302.60L347.20 303.40L347.63 304.22L348.05 305.05L348.47 305.88L348.89 306.73L349.31 307.59L349.73 308.46L350.15 309.34L350.58 310.22L351.00 311.12L351.42 312.03L351.84 312.94L352.26 313.86L352.68 314.80L353.11 315.74L353.53 316.68L353.95 317.64L354.37 318.60L354.79 319.57L355.21 320.55L355.63 321.54L356.06 322.53L356.48 323.53L356.90 324.53L357.32 325.54L357.74 326.55L358.16 327.57L358.58 328.60L359.01 329.63L359.43 330.66L359.85 331.70L360.27 332.74L360.69 333.79L361.11 334.84L361.53 335.89L361.96 336.95L362.38 338.01L362.80 339.07L363.22 340.13L363.64 341.20L364.06 342.26L364.49 343.33L364.91 344.40L365.33 345.47L365.75 346.54L366.17 347.61L366.59 348.68L367.01 349.76L367.44 350.83L367.86 351.90L368.28 352.96L368.70 354.03L369.12 355.10L369.54 356.16L369.96 357.22L370.39 358.28L370.81 359.34L371.23 360.39L371.65 361.44L372.07 362.49L372.49 363.53L372.92 364.57L373.34 365.61L373.76 366.64L374.18 367.66L374.60 368.68L375.02 369.70L375.44 370.71L375.87 371.71L376.29 372.71L376.71 373.70L377.13 374.69L377.55 375.67L377.97 376.64L378.39 377.60L378.82 378.56L379.24 379.51L379.66 380.45L380.08 381.38L380.50 382.31L380.92 383.22L381.35 384.13L381.77 385.03L382.19 385.92L382.61 386.80L383.03 387.66L383.45 388.52L383.87 389.37L384.30 390.21L384.72 391.04L385.14 391.85L385.56 392.66L385.98 393.45L386.40 394.23L386.82 395.00L387.25 395.76L387.67 396.51L388.09 397.24L388.51 397.97L388.93 398.68L389.35 399.37L389.78 400.05L390.20 400.72L390.62 401.38L391.04 402.02L391.46 402.65L391.88 403.27L392.30 403.87L392.73 404.46L393.15 405.03L393.57 405.59L393.99 406.13L394.41 406.66L394.83 407.18L395.25 407.68L395.68 408.16L396.10 408.63L396.52 409.08L396.94 409.52L397.36 409.95L397.78 410.35L398.21 410.74L398.63 411.12L399.05 411.48L399.47 411.82L399.89 412.15L400.31 412.46L400.73 412.75L401.16 413.03L401.58 413.29L402.00 413.54L402.42 413.77L402.84 413.98L403.26 414.17L403.68 414.35L404.11 414.51L404.53 414.66L404.95 414.78L405.37 414.89L405.79 414.99L406.21 415.06L406.64 415.12L407.06 415.17L407.48 415.19L407.90 415.20" fill="none" stroke="#8000ff" stroke-width="1.25" stroke-dasharray="3.2 1.4"/>
<path d="M240.99 413.72l1.3 2.35h-2.6zM244.36 412.67l1.3 2.35h-2.6zM247.73 410.60l1.3 2.35h-2.6zM251.10 407.53l1.3 2.35h-2.6zM254.47 403.51l1.3 2.35h-2.6zM257.85 398.61l1.3 2.35h-2.6zM261.22 392.89l1.3 2.35h-2.6zM264.59 386.44l1.3 2.35h-2.6zM267.96 379.37l1.3 2.35h-2.6zM271.33 371.78l1.3 2.35h-2.6zM274.71 363.79l1.3 2.35h-2.6zM278.08 355.52l1.3 2.35h-2.6zM281.45 347.11l1.3 2.35h-2.6zM284.82 338.67l1.3 2.35h-2.6zM288.19 330.35l1.3 2.35h-2.6zM291.57 322.27l1.3 2.35h-2.6zM294.94 314.56l1.3 2.35h-2.6zM298.31 307.33l1.3 2.35h-2.6zM301.68 300.71l1.3 2.35h-2.6zM305.05 294.80l1.3 2.35h-2.6zM308.43 289.69l1.3 2.35h-2.6zM311.80 285.46l1.3 2.35h-2.6zM315.17 282.18l1.3 2.35h-2.6zM318.54 279.90l1.3 2.35h-2.6zM321.91 278.67l1.3 2.35h-2.6zM325.29 278.50l1.3 2.35h-2.6zM328.66 279.40l1.3 2.35h-2.6zM332.03 281.35l1.3 2.35h-2.6zM335.40 284.33l1.3 2.35h-2.6zM338.77 288.29l1.3 2.35h-2.6zM342.15 293.17l1.3 2.35h-2.6zM345.52 298.90l1.3 2.35h-2.6zM348.89 305.38l1.3 2.35h-2.6zM352.26 312.51l1.3 2.35h-2.6zM355.63 320.19l1.3 2.35h-2.6zM359.01 328.28l1.3 2.35h-2.6zM362.38 336.66l1.3 2.35h-2.6zM365.75 345.19l1.3 2.35h-2.6zM369.12 353.75l1.3 2.35h-2.6zM372.49 362.18l1.3 2.35h-2.6zM375.87 370.36l1.3 2.35h-2.6zM379.24 378.16l1.3 2.35h-2.6zM382.61 385.45l1.3 2.35h-2.6zM385.98 392.10l1.3 2.35h-2.6zM389.35 398.02l1.3 2.35h-2.6zM392.73 403.11l1.3 2.35h-2.6zM396.10 407.28l1.3 2.35h-2.6zM399.47 410.47l1.3 2.35h-2.6zM402.84 412.63l1.3 2.35h-2.6zM406.21 413.71l1.3 2.35h-2.6z" fill="#fff" fill-opacity="0.6" stroke="#8000ff" stroke-width="0.45"/>
<path d="M239.30 415.20L239.72 415.19L240.14 415.16L240.56 415.10L240.99 415.03L241.41 414.93L241.83 414.81L242.25 414.67L242.67 414.51L243.09 414.32L243.52 414.12L243.94 413.89L244.36 413.64L244.78 413.37L245.20 413.08L245.62 412.77L246.04 412.44L246.47 412.08L246.89 411.71L247.31 411.31L247.73 410.89L248.15 410.46L248.57 410.00L248.99 409.52L249.42 409.02L249.84 408.50L250.26 407.96L250.68 407.40L251.10 406.82L251.52 406.23L251.95 405.61L252.37 404.97L252.79 404.31L253.21 403.64L253.63 402.95L254.05 402.23L254.47 401.50L254.90 400.75L255.32 399.98L255.74 399.20L256.16 398.39L256.58 397.57L257.00 396.73L257.42 395.88L257.85 395.01L258.27 394.12L258.69 393.21L259.11 392.29L259.53 391.35L259.95 390.40L260.38 389.43L260.80 388.44L261.22 387.44L261.64 386.43L262.06 385.40L262.48 384.35L262.90 383.29L263.33 382.22L263.75 381.14L264.17 380.04L264.59 378.93L265.01 377.80L265.43 376.66L265.85 375.51L266.28 374.35L266.70 373.18L267.12 372.00L267.54 370.80L267.96 369.59L268.38 368.38L268.81 367.15L269.23 365.91L269.65 364.67L270.07 363.41L270.49 362.15L270.91 360.88L271.33 359.59L271.76 358.31L272.18 357.01L272.60 355.70L273.02 354.39L273.44 353.08L273.86 351.75L274.28 350.42L274.71 349.08L275.13 347.74L275.55 346.40L275.97 345.05L276.39 343.69L276.81 342.33L277.24 340.97L277.66 339.60L278.08 338.23L278.50 336.86L278.92 335.48L279.34 334.10L279.76 332.73L280.19 331.35L280.61 329.96L281.03 328.58L281.45 327.20L281.87 325.82L282.29 324.44L282.71 323.05L283.14 321.67L283.56 320.30L283.98 318.92L284.40 317.54L284.82 316.17L285.24 314.80L285.67 313.43L286.09 312.07L286.51 310.71L286.93 309.35L287.35 308.00L287.77 306.66L288.19 305.32L288.62 303.98L289.04 302.65L289.46 301.32L289.88 300.01L290.30 298.70L290.72 297.39L291.14 296.09L291.57 294.81L291.99 293.52L292.41 292.25L292.83 290.99L293.25 289.73L293.67 288.49L294.10 287.25L294.52 286.02L294.94 284.81L295.36 283.60L295.78 282.40L296.20 281.22L296.62 280.05L297.05 278.89L297.47 277.74L297.89 276.60L298.31 275.47L298.73 274.36L299.15 273.26L299.57 272.18L300.00 271.11L300.42 270.05L300.84 269.00L301.26 267.97L301.68 266.96L302.10 265.96L302.52 264.97L302.95 264.00L303.37 263.05L303.79 262.11L304.21 261.19L304.63 260.28L305.05 259.39L305.48 258.52L305.90 257.67L306.32 256.83L306.74 256.01L307.16 255.20L307.58 254.42L308.00 253.65L308.43 252.90L308.85 252.17L309.27 251.45L309.69 250.76L310.11 250.09L310.53 249.43L310.95 248.79L311.38 248.17L311.80 247.58L312.22 247.00L312.64 246.44L313.06 245.90L313.48 245.38L313.91 244.88L314.33 244.40L314.75 243.94L315.17 243.51L315.59 243.09L316.01 242.69L316.43 242.32L316.86 241.96L317.28 241.63L317.70 241.32L318.12 241.03L318.54 240.76L318.96 240.51L319.38 240.28L319.81 240.08L320.23 239.89L320.65 239.73L321.07 239.59L321.49 239.47L321.91 239.37L322.34 239.30L322.76 239.24L323.18 239.21L323.60 239.20L324.02 239.21L324.44 239.24L324.86 239.30L325.29 239.37L325.71 239.47L326.13 239.59L326.55 239.73L326.97 239.89L327.39 240.08L327.81 240.28L328.24 240.51L328.66 240.76L329.08 241.03L329.50 241.32L329.92 241.63L330.34 241.96L330.77 242.32L331.19 242.69L331.61 243.09L332.03 243.51L332.45 243.94L332.87 244.40L333.29 244.88L333.72 245.38L334.14 245.90L334.56 246.44L334.98 247.00L335.40 247.58L335.82 248.17L336.25 248.79L336.67 249.43L337.09 250.09L337.51 250.76L337.93 251.45L338.35 252.17L338.77 252.90L339.20 253.65L339.62 254.42L340.04 255.20L340.46 256.01L340.88 256.83L341.30 257.67L341.72 258.52L342.15 259.39L342.57 260.28L342.99 261.19L343.41 262.11L343.83 263.05L344.25 264.00L344.67 264.97L345.10 265.96L345.52 266.96L345.94 267.97L346.36 269.00L346.78 270.05L347.20 271.11L347.63 272.18L348.05 273.26L348.47 274.36L348.89 275.47L349.31 276.60L349.73 277.74L350.15 278.89L350.58 280.05L351.00 281.22L351.42 282.40L351.84 283.60L352.26 284.81L352.68 286.02L353.11 287.25L353.53 288.49L353.95 289.73L354.37 290.99L354.79 292.25L355.21 293.52L355.63 294.81L356.06 296.09L356.48 297.39L356.90 298.70L357.32 300.01L357.74 301.32L358.16 302.65L358.58 303.98L359.01 305.32L359.43 306.66L359.85 308.00L360.27 309.35L360.69 310.71L361.11 312.07L361.53 313.43L361.96 314.80L362.38 316.17L362.80 317.54L363.22 318.92L363.64 320.30L364.06 321.67L364.49 323.05L364.91 324.44L365.33 325.82L365.75 327.20L366.17 328.58L366.59 329.96L367.01 331.35L367.44 332.73L367.86 334.10L368.28 335.48L368.70 336.86L369.12 338.23L369.54 339.60L369.96 340.97L370.39 342.33L370.81 343.69L371.23 345.05L371.65 346.40L372.07 347.74L372.49 349.08L372.92 350.42L373.34 351.75L373.76 353.08L374.18 354.39L374.60 355.70L375.02 357.01L375.44 358.31L375.87 359.59L376.29 360.88L376.71 362.15L377.13 363.41L377.55 364.67L377.97 365.91L378.39 367.15L378.82 368.38L379.24 369.59L379.66 370.80L380.08 372.00L380.50 373.18L380.92 374.35L381.35 375.51L381.77 376.66L382.19 377.80L382.61 378.93L383.03 380.04L383.45 381.14L383.87 382.22L384.30 383.29L384.72 384.35L385.14 385.40L385.56 386.43L385.98 387.44L386.40 388.44L386.82 389.43L387.25 390.40L387.67 391.35L388.09 392.29L388.51 393.21L388.93 394.12L389.35 395.01L389.78 395.88L390.20 396.73L390.62 397.57L391.04 398.39L391.46 399.20L391.88 399.98L392.30 400.75L392.73 401.50L393.15 402.23L393.57 402.95L393.99 403.64L394.41 404.31L394.83 404.97L395.25 405.61L395.68 406.23L396.10 406.82L396.52 407.40L396.94 407.96L397.36 408.50L397.78 409.02L398.21 409.52L398.63 410.00L399.05 410.46L399.47 410.89L399.89 411.31L400.31 411.71L400.73 412.08L401.16 412.44L401.58 412.77L402.00 413.08L402.42 413.37L402.84 413.64L403.26 413.89L403.68 414.12L404.11 414.32L404.53 414.51L404.95 414.67L405.37 414.81L405.79 414.93L406.21 415.03L406.64 415.10L407.06 415.16L407.48 415.19L407.90 415.20" fill="none" stroke="#000" stroke-width="1.30"/>
<circle cx="240.99" cy="415.03" r="1.55" fill="#000"/>
<circle cx="244.36" cy="413.64" r="1.55" fill="#000"/>
<circle cx="247.73" cy="410.89" r="1.55" fill="#000"/>
<circle cx="251.10" cy="406.82" r="1.55" fill="#000"/>
<circle cx="254.47" cy="401.50" r="1.55" fill="#000"/>
<circle cx="257.85" cy="395.01" r="1.55" fill="#000"/>
<circle cx="261.22" cy="387.44" r="1.55" fill="#000"/>
<circle cx="264.59" cy="378.93" r="1.55" fill="#000"/>
<circle cx="267.96" cy="369.59" r="1.55" fill="#000"/>
<circle cx="271.33" cy="359.59" r="1.55" fill="#000"/>
<circle cx="274.71" cy="349.08" r="1.55" fill="#000"/>
<circle cx="278.08" cy="338.23" r="1.55" fill="#000"/>
<circle cx="281.45" cy="327.20" r="1.55" fill="#000"/>
<circle cx="284.82" cy="316.17" r="1.55" fill="#000"/>
<circle cx="288.19" cy="305.32" r="1.55" fill="#000"/>
<circle cx="291.57" cy="294.81" r="1.55" fill="#000"/>
<circle cx="294.94" cy="284.81" r="1.55" fill="#000"/>
<circle cx="298.31" cy="275.47" r="1.55" fill="#000"/>
<circle cx="301.68" cy="266.96" r="1.55" fill="#000"/>
<circle cx="305.05" cy="259.39" r="1.55" fill="#000"/>
<circle cx="308.43" cy="252.90" r="1.55" fill="#000"/>
<circle cx="311.80" cy="247.58" r="1.55" fill="#000"/>
<circle cx="315.17" cy="243.51" r="1.55" fill="#000"/>
<circle cx="318.54" cy="240.76" r="1.55" fill="#000"/>
<circle cx="321.91" cy="239.37" r="1.55" fill="#000"/>
<circle cx="325.29" cy="239.37" r="1.55" fill="#000"/>
<circle cx="328.66" cy="240.76" r="1.55" fill="#000"/>
<circle cx="332.03" cy="243.51" r="1.55" fill="#000"/>
<circle cx="335.40" cy="247.58" r="1.55" fill="#000"/>
<circle cx="338.77" cy="252.90" r="1.55" fill="#000"/>
<circle cx="342.15" cy="259.39" r="1.55" fill="#000"/>
<circle cx="345.52" cy="266.96" r="1.55" fill="#000"/>
<circle cx="348.89" cy="275.47" r="1.55" fill="#000"/>
<circle cx="352.26" cy="284.81" r="1.55" fill="#000"/>
<circle cx="355.63" cy="294.81" r="1.55" fill="#000"/>
<circle cx="359.01" cy="305.32" r="1.55" fill="#000"/>
<circle cx="362.38" cy="316.17" r="1.55" fill="#000"/>
<circle cx="365.75" cy="327.20" r="1.55" fill="#000"/>
<circle cx="369.12" cy="338.23" r="1.55" fill="#000"/>
<circle cx="372.49" cy="349.08" r="1.55" fill="#000"/>
<circle cx="375.87" cy="359.59" r="1.55" fill="#000"/>
<circle cx="379.24" cy="369.59" r="1.55" fill="#000"/>
<circle cx="382.61" cy="378.93" r="1.55" fill="#000"/>
<circle cx="385.98" cy="387.44" r="1.55" fill="#000"/>
<circle cx="389.35" cy="395.01" r="1.55" fill="#000"/>
<circle cx="392.73" cy="401.50" r="1.55" fill="#000"/>
<circle cx="396.10" cy="406.82" r="1.55" fill="#000"/>
<circle cx="399.47" cy="410.89" r="1.55" fill="#000"/>
<circle cx="402.84" cy="413.64" r="1.55" fill="#000"/>
<circle cx="406.21" cy="415.03" r="1.55" fill="#000"/>
<path d="M239.30 415.20L239.72 415.19L240.14 415.17L240.56 415.12L240.99 415.06L241.41 414.99L241.83 414.89L242.25 414.78L242.67 414.66L243.09 414.51L243.52 414.35L243.94 414.17L244.36 413.98L244.78 413.77L245.20 413.54L245.62 413.29L246.04 413.03L246.47 412.75L246.89 412.46L247.31 412.15L247.73 411.82L248.15 411.48L248.57 411.12L248.99 410.74L249.42 410.35L249.84 409.95L250.26 409.52L250.68 409.08L251.10 408.63L251.52 408.16L251.95 407.68L252.37 407.18L252.79 406.66L253.21 406.13L253.63 405.59L254.05 405.03L254.47 404.46L254.90 403.87L255.32 403.27L255.74 402.65L256.16 402.02L256.58 401.38L257.00 400.72L257.42 400.05L257.85 399.37L258.27 398.68L258.69 397.97L259.11 397.24L259.53 396.51L259.95 395.76L260.38 395.00L260.80 394.23L261.22 393.45L261.64 392.66L262.06 391.85L262.48 391.04L262.90 390.21L263.33 389.37L263.75 388.52L264.17 387.66L264.59 386.80L265.01 385.92L265.43 385.03L265.85 384.13L266.28 383.22L266.70 382.31L267.12 381.38L267.54 380.45L267.96 379.51L268.38 378.56L268.81 377.60L269.23 376.64L269.65 375.67L270.07 374.69L270.49 373.70L270.91 372.71L271.33 371.71L271.76 370.71L272.18 369.70L272.60 368.68L273.02 367.66L273.44 366.64L273.86 365.61L274.28 364.57L274.71 363.53L275.13 362.49L275.55 361.44L275.97 360.39L276.39 359.34L276.81 358.28L277.24 357.22L277.66 356.16L278.08 355.10L278.50 354.03L278.92 352.96L279.34 351.90L279.76 350.83L280.19 349.76L280.61 348.68L281.03 347.61L281.45 346.54L281.87 345.47L282.29 344.40L282.71 343.33L283.14 342.26L283.56 341.20L283.98 340.13L284.40 339.07L284.82 338.01L285.24 336.95L285.67 335.89L286.09 334.84L286.51 333.79L286.93 332.74L287.35 331.70L287.77 330.66L288.19 329.63L288.62 328.60L289.04 327.57L289.46 326.55L289.88 325.54L290.30 324.53L290.72 323.53L291.14 322.53L291.57 321.54L291.99 320.55L292.41 319.57L292.83 318.60L293.25 317.64L293.67 316.68L294.10 315.74L294.52 314.80L294.94 313.86L295.36 312.94L295.78 312.03L296.20 311.12L296.62 310.22L297.05 309.34L297.47 308.46L297.89 307.59L298.31 306.73L298.73 305.88L299.15 305.05L299.57 304.22L300.00 303.40L300.42 302.60L300.84 301.80L301.26 301.02L301.68 300.25L302.10 299.49L302.52 298.74L302.95 298.01L303.37 297.29L303.79 296.58L304.21 295.88L304.63 295.20L305.05 294.52L305.48 293.87L305.90 293.22L306.32 292.59L306.74 291.97L307.16 291.37L307.58 290.78L308.00 290.20L308.43 289.64L308.85 289.10L309.27 288.56L309.69 288.05L310.11 287.54L310.53 287.05L310.95 286.58L311.38 286.12L311.80 285.68L312.22 285.25L312.64 284.84L313.06 284.45L313.48 284.06L313.91 283.70L314.33 283.35L314.75 283.02L315.17 282.70L315.59 282.40L316.01 282.11L316.43 281.85L316.86 281.59L317.28 281.36L317.70 281.14L318.12 280.93L318.54 280.75L318.96 280.58L319.38 280.42L319.81 280.29L320.23 280.16L320.65 280.06L321.07 279.97L321.49 279.90L321.91 279.85L322.34 279.81L322.76 279.79L323.18 279.79L323.60 279.80L324.02 279.83L324.44 279.88L324.86 279.94L325.29 280.02L325.71 280.11L326.13 280.23L326.55 280.36L326.97 280.50L327.39 280.67L327.81 280.84L328.24 281.04L328.66 281.25L329.08 281.48L329.50 281.72L329.92 281.98L330.34 282.26L330.77 282.55L331.19 282.86L331.61 283.19L332.03 283.53L332.45 283.88L332.87 284.25L333.29 284.64L333.72 285.04L334.14 285.46L334.56 285.89L334.98 286.34L335.40 286.81L335.82 287.28L336.25 287.78L336.67 288.28L337.09 288.81L337.51 289.34L337.93 289.89L338.35 290.46L338.77 291.04L339.20 291.63L339.62 292.23L340.04 292.85L340.46 293.49L340.88 294.13L341.30 294.79L341.72 295.46L342.15 296.15L342.57 296.85L342.99 297.56L343.41 298.28L343.83 299.01L344.25 299.76L344.67 300.51L345.10 301.28L345.52 302.06L345.94 302.85L346.36 303.65L346.78 304.47L347.20 305.29L347.63 306.12L348.05 306.97L348.47 307.82L348.89 308.68L349.31 309.56L349.73 310.44L350.15 311.33L350.58 312.23L351.00 313.13L351.42 314.05L351.84 314.97L352.26 315.91L352.68 316.85L353.11 317.79L353.53 318.75L353.95 319.71L354.37 320.68L354.79 321.65L355.21 322.63L355.63 323.62L356.06 324.61L356.48 325.61L356.90 326.61L357.32 327.62L357.74 328.63L358.16 329.65L358.58 330.67L359.01 331.70L359.43 332.73L359.85 333.76L360.27 334.80L360.69 335.84L361.11 336.88L361.53 337.93L361.96 338.97L362.38 340.02L362.80 341.07L363.22 342.13L363.64 343.18L364.06 344.23L364.49 345.29L364.91 346.35L365.33 347.40L365.75 348.46L366.17 349.51L366.59 350.57L367.01 351.62L367.44 352.68L367.86 353.73L368.28 354.78L368.70 355.83L369.12 356.87L369.54 357.92L369.96 358.96L370.39 360.00L370.81 361.03L371.23 362.07L371.65 363.09L372.07 364.12L372.49 365.14L372.92 366.16L373.34 367.17L373.76 368.18L374.18 369.18L374.60 370.17L375.02 371.17L375.44 372.15L375.87 373.13L376.29 374.10L376.71 375.07L377.13 376.03L377.55 376.98L377.97 377.93L378.39 378.87L378.82 379.80L379.24 380.72L379.66 381.63L380.08 382.54L380.50 383.44L380.92 384.33L381.35 385.21L381.77 386.08L382.19 386.94L382.61 387.79L383.03 388.63L383.45 389.46L383.87 390.29L384.30 391.10L384.72 391.90L385.14 392.69L385.56 393.47L385.98 394.24L386.40 394.99L386.82 395.74L387.25 396.47L387.67 397.19L388.09 397.90L388.51 398.60L388.93 399.28L389.35 399.96L389.78 400.62L390.20 401.26L390.62 401.90L391.04 402.52L391.46 403.12L391.88 403.72L392.30 404.30L392.73 404.86L393.15 405.42L393.57 405.95L393.99 406.48L394.41 406.99L394.83 407.48L395.25 407.96L395.68 408.43L396.10 408.88L396.52 409.32L396.94 409.74L397.36 410.15L397.78 410.54L398.21 410.92L398.63 411.28L399.05 411.62L399.47 411.95L399.89 412.27L400.31 412.57L400.73 412.85L401.16 413.12L401.58 413.37L402.00 413.60L402.42 413.82L402.84 414.02L403.26 414.21L403.68 414.38L404.11 414.54L404.53 414.68L404.95 414.80L405.37 414.91L405.79 415.00L406.21 415.07L406.64 415.13L407.06 415.17L407.48 415.19L407.90 415.20" fill="none" stroke="#0000ff" stroke-width="1.45"/>
<path d="M240.99 416.41l1.3 -2.35h-2.6zM244.36 415.33l1.3 -2.35h-2.6zM247.73 413.17l1.3 -2.35h-2.6zM251.10 409.98l1.3 -2.35h-2.6zM254.47 405.81l1.3 -2.35h-2.6zM257.85 400.72l1.3 -2.35h-2.6zM261.22 394.80l1.3 -2.35h-2.6zM264.59 388.15l1.3 -2.35h-2.6zM267.96 380.86l1.3 -2.35h-2.6zM271.33 373.06l1.3 -2.35h-2.6zM274.71 364.88l1.3 -2.35h-2.6zM278.08 356.45l1.3 -2.35h-2.6zM281.45 347.89l1.3 -2.35h-2.6zM284.82 339.36l1.3 -2.35h-2.6zM288.19 330.98l1.3 -2.35h-2.6zM291.57 322.89l1.3 -2.35h-2.6zM294.94 315.21l1.3 -2.35h-2.6zM298.31 308.08l1.3 -2.35h-2.6zM301.68 301.60l1.3 -2.35h-2.6zM305.05 295.87l1.3 -2.35h-2.6zM308.43 290.99l1.3 -2.35h-2.6zM311.80 287.03l1.3 -2.35h-2.6zM315.17 284.05l1.3 -2.35h-2.6zM318.54 282.10l1.3 -2.35h-2.6zM321.91 281.20l1.3 -2.35h-2.6zM325.29 281.37l1.3 -2.35h-2.6zM328.66 282.60l1.3 -2.35h-2.6zM332.03 284.88l1.3 -2.35h-2.6zM335.40 288.16l1.3 -2.35h-2.6zM338.77 292.39l1.3 -2.35h-2.6zM342.15 297.50l1.3 -2.35h-2.6zM345.52 303.41l1.3 -2.35h-2.6zM348.89 310.03l1.3 -2.35h-2.6zM352.26 317.26l1.3 -2.35h-2.6zM355.63 324.97l1.3 -2.35h-2.6zM359.01 333.05l1.3 -2.35h-2.6zM362.38 341.37l1.3 -2.35h-2.6zM365.75 349.81l1.3 -2.35h-2.6zM369.12 358.22l1.3 -2.35h-2.6zM372.49 366.49l1.3 -2.35h-2.6zM375.87 374.48l1.3 -2.35h-2.6zM379.24 382.07l1.3 -2.35h-2.6zM382.61 389.14l1.3 -2.35h-2.6zM385.98 395.59l1.3 -2.35h-2.6zM389.35 401.31l1.3 -2.35h-2.6zM392.73 406.21l1.3 -2.35h-2.6zM396.10 410.23l1.3 -2.35h-2.6zM399.47 413.30l1.3 -2.35h-2.6zM402.84 415.37l1.3 -2.35h-2.6zM406.21 416.42l1.3 -2.35h-2.6z" fill="#0000ff"/>
<path d="M239.30 415.20L239.72 415.19L240.14 415.17L240.56 415.14L240.99 415.10L241.41 415.04L241.83 414.97L242.25 414.89L242.67 414.79L243.09 414.68L243.52 414.56L243.94 414.43L244.36 414.28L244.78 414.12L245.20 413.95L245.62 413.76L246.04 413.57L246.47 413.36L246.89 413.14L247.31 412.90L247.73 412.66L248.15 412.40L248.57 412.13L248.99 411.85L249.42 411.55L249.84 411.25L250.26 410.93L250.68 410.60L251.10 410.26L251.52 409.91L251.95 409.54L252.37 409.17L252.79 408.78L253.21 408.38L253.63 407.98L254.05 407.56L254.47 407.13L254.90 406.69L255.32 406.24L255.74 405.78L256.16 405.31L256.58 404.82L257.00 404.33L257.42 403.83L257.85 403.32L258.27 402.80L258.69 402.27L259.11 401.73L259.53 401.19L259.95 400.63L260.38 400.06L260.80 399.49L261.22 398.91L261.64 398.32L262.06 397.72L262.48 397.11L262.90 396.49L263.33 395.87L263.75 395.24L264.17 394.60L264.59 393.96L265.01 393.31L265.43 392.65L265.85 391.99L266.28 391.31L266.70 390.64L267.12 389.95L267.54 389.26L267.96 388.57L268.38 387.87L268.81 387.16L269.23 386.45L269.65 385.74L270.07 385.02L270.49 384.29L270.91 383.56L271.33 382.83L271.76 382.09L272.18 381.35L272.60 380.61L273.02 379.86L273.44 379.11L273.86 378.36L274.28 377.60L274.71 376.84L275.13 376.08L275.55 375.32L275.97 374.55L276.39 373.79L276.81 373.02L277.24 372.25L277.66 371.48L278.08 370.71L278.50 369.94L278.92 369.17L279.34 368.39L279.76 367.62L280.19 366.85L280.61 366.08L281.03 365.31L281.45 364.54L281.87 363.77L282.29 363.00L282.71 362.23L283.14 361.47L283.56 360.70L283.98 359.94L284.40 359.18L284.82 358.43L285.24 357.67L285.67 356.92L286.09 356.17L286.51 355.43L286.93 354.69L287.35 353.95L287.77 353.22L288.19 352.49L288.62 351.76L289.04 351.04L289.46 350.32L289.88 349.61L290.30 348.90L290.72 348.20L291.14 347.51L291.57 346.81L291.99 346.13L292.41 345.45L292.83 344.78L293.25 344.11L293.67 343.45L294.10 342.79L294.52 342.14L294.94 341.50L295.36 340.87L295.78 340.24L296.20 339.62L296.62 339.01L297.05 338.41L297.47 337.81L297.89 337.22L298.31 336.64L298.73 336.07L299.15 335.50L299.57 334.95L300.00 334.40L300.42 333.86L300.84 333.33L301.26 332.81L301.68 332.30L302.10 331.80L302.52 331.31L302.95 330.82L303.37 330.35L303.79 329.89L304.21 329.43L304.63 328.99L305.05 328.55L305.48 328.13L305.90 327.72L306.32 327.32L306.74 326.92L307.16 326.54L307.58 326.17L308.00 325.81L308.43 325.46L308.85 325.12L309.27 324.79L309.69 324.48L310.11 324.17L310.53 323.87L310.95 323.59L311.38 323.32L311.80 323.06L312.22 322.81L312.64 322.57L313.06 322.34L313.48 322.13L313.91 321.93L314.33 321.74L314.75 321.56L315.17 321.39L315.59 321.23L316.01 321.09L316.43 320.95L316.86 320.83L317.28 320.72L317.70 320.62L318.12 320.54L318.54 320.46L318.96 320.40L319.38 320.35L319.81 320.31L320.23 320.29L320.65 320.27L321.07 320.27L321.49 320.28L321.91 320.30L322.34 320.33L322.76 320.38L323.18 320.43L323.60 320.50L324.02 320.58L324.44 320.67L324.86 320.77L325.29 320.89L325.71 321.01L326.13 321.15L326.55 321.30L326.97 321.46L327.39 321.63L327.81 321.81L328.24 322.01L328.66 322.21L329.08 322.43L329.50 322.66L329.92 322.90L330.34 323.14L330.77 323.40L331.19 323.67L331.61 323.96L332.03 324.25L332.45 324.55L332.87 324.86L333.29 325.19L333.72 325.52L334.14 325.86L334.56 326.22L334.98 326.58L335.40 326.95L335.82 327.34L336.25 327.73L336.67 328.13L337.09 328.54L337.51 328.97L337.93 329.40L338.35 329.83L338.77 330.28L339.20 330.74L339.62 331.21L340.04 331.68L340.46 332.16L340.88 332.65L341.30 333.15L341.72 333.66L342.15 334.18L342.57 334.70L342.99 335.23L343.41 335.77L343.83 336.32L344.25 336.87L344.67 337.43L345.10 338.00L345.52 338.57L345.94 339.15L346.36 339.74L346.78 340.34L347.20 340.94L347.63 341.54L348.05 342.16L348.47 342.77L348.89 343.40L349.31 344.03L349.73 344.66L350.15 345.30L350.58 345.95L351.00 346.60L351.42 347.25L351.84 347.91L352.26 348.57L352.68 349.24L353.11 349.91L353.53 350.59L353.95 351.27L354.37 351.95L354.79 352.64L355.21 353.33L355.63 354.02L356.06 354.72L356.48 355.42L356.90 356.12L357.32 356.82L357.74 357.53L358.16 358.24L358.58 358.95L359.01 359.66L359.43 360.38L359.85 361.09L360.27 361.81L360.69 362.53L361.11 363.24L361.53 363.96L361.96 364.68L362.38 365.40L362.80 366.12L363.22 366.85L363.64 367.57L364.06 368.29L364.49 369.01L364.91 369.73L365.33 370.45L365.75 371.16L366.17 371.88L366.59 372.60L367.01 373.31L367.44 374.03L367.86 374.74L368.28 375.45L368.70 376.15L369.12 376.86L369.54 377.56L369.96 378.26L370.39 378.96L370.81 379.66L371.23 380.35L371.65 381.04L372.07 381.73L372.49 382.41L372.92 383.09L373.34 383.76L373.76 384.43L374.18 385.10L374.60 385.77L375.02 386.43L375.44 387.08L375.87 387.73L376.29 388.38L376.71 389.02L377.13 389.65L377.55 390.28L377.97 390.91L378.39 391.53L378.82 392.14L379.24 392.75L379.66 393.36L380.08 393.95L380.50 394.54L380.92 395.13L381.35 395.71L381.77 396.28L382.19 396.84L382.61 397.40L383.03 397.96L383.45 398.50L383.87 399.04L384.30 399.57L384.72 400.09L385.14 400.61L385.56 401.12L385.98 401.62L386.40 402.11L386.82 402.60L387.25 403.08L387.67 403.55L388.09 404.01L388.51 404.46L388.93 404.91L389.35 405.35L389.78 405.77L390.20 406.19L390.62 406.61L391.04 407.01L391.46 407.40L391.88 407.79L392.30 408.16L392.73 408.53L393.15 408.89L393.57 409.24L393.99 409.57L394.41 409.90L394.83 410.23L395.25 410.54L395.68 410.84L396.10 411.13L396.52 411.41L396.94 411.68L397.36 411.95L397.78 412.20L398.21 412.44L398.63 412.67L399.05 412.90L399.47 413.11L399.89 413.31L400.31 413.50L400.73 413.69L401.16 413.86L401.58 414.02L402.00 414.17L402.42 414.31L402.84 414.44L403.26 414.56L403.68 414.67L404.11 414.77L404.53 414.86L404.95 414.94L405.37 415.01L405.79 415.07L406.21 415.12L406.64 415.15L407.06 415.18L407.48 415.19L407.90 415.20" fill="none" stroke="#35a0a0" stroke-width="1.25" stroke-dasharray="3.2 1.4"/>
<path d="M240.99 416.45l1.3 -2.35h-2.6zM244.36 415.63l1.3 -2.35h-2.6zM247.73 414.01l1.3 -2.35h-2.6zM251.10 411.61l1.3 -2.35h-2.6zM254.47 408.48l1.3 -2.35h-2.6zM257.85 404.67l1.3 -2.35h-2.6zM261.22 400.26l1.3 -2.35h-2.6zM264.59 395.31l1.3 -2.35h-2.6zM267.96 389.92l1.3 -2.35h-2.6zM271.33 384.18l1.3 -2.35h-2.6zM274.71 378.19l1.3 -2.35h-2.6zM278.08 372.06l1.3 -2.35h-2.6zM281.45 365.89l1.3 -2.35h-2.6zM284.82 359.78l1.3 -2.35h-2.6zM288.19 353.84l1.3 -2.35h-2.6zM291.57 348.16l1.3 -2.35h-2.6zM294.94 342.85l1.3 -2.35h-2.6zM298.31 337.99l1.3 -2.35h-2.6zM301.68 333.65l1.3 -2.35h-2.6zM305.05 329.90l1.3 -2.35h-2.6zM308.43 326.81l1.3 -2.35h-2.6zM311.80 324.41l1.3 -2.35h-2.6zM315.17 322.74l1.3 -2.35h-2.6zM318.54 321.81l1.3 -2.35h-2.6zM321.91 321.65l1.3 -2.35h-2.6zM325.29 322.24l1.3 -2.35h-2.6zM328.66 323.56l1.3 -2.35h-2.6zM332.03 325.60l1.3 -2.35h-2.6zM335.40 328.30l1.3 -2.35h-2.6zM338.77 331.63l1.3 -2.35h-2.6zM342.15 335.53l1.3 -2.35h-2.6zM345.52 339.92l1.3 -2.35h-2.6zM348.89 344.75l1.3 -2.35h-2.6zM352.26 349.92l1.3 -2.35h-2.6zM355.63 355.37l1.3 -2.35h-2.6zM359.01 361.01l1.3 -2.35h-2.6zM362.38 366.75l1.3 -2.35h-2.6zM365.75 372.51l1.3 -2.35h-2.6zM369.12 378.21l1.3 -2.35h-2.6zM372.49 383.76l1.3 -2.35h-2.6zM375.87 389.08l1.3 -2.35h-2.6zM379.24 394.10l1.3 -2.35h-2.6zM382.61 398.75l1.3 -2.35h-2.6zM385.98 402.97l1.3 -2.35h-2.6zM389.35 406.70l1.3 -2.35h-2.6zM392.73 409.88l1.3 -2.35h-2.6zM396.10 412.48l1.3 -2.35h-2.6zM399.47 414.46l1.3 -2.35h-2.6zM402.84 415.79l1.3 -2.35h-2.6zM406.21 416.47l1.3 -2.35h-2.6z" fill="#fff" fill-opacity="0.6" stroke="#35a0a0" stroke-width="0.45"/>
<path d="M418.30 414.60L418.73 414.60L419.15 414.58L419.57 414.56L420.00 414.52L420.43 414.48L420.85 414.42L421.28 414.36L421.70 414.28L422.12 414.20L422.55 414.10L422.98 414.00L423.40 413.89L423.82 413.76L424.25 413.63L424.68 413.49L425.10 413.33L425.53 413.17L425.95 413.00L426.38 412.82L426.80 412.63L427.23 412.43L427.65 412.22L428.07 412.00L428.50 411.77L428.93 411.53L429.35 411.28L429.78 411.02L430.20 410.76L430.62 410.48L431.05 410.19L431.48 409.90L431.90 409.60L432.32 409.28L432.75 408.96L433.18 408.63L433.60 408.29L434.02 407.95L434.45 407.59L434.88 407.22L435.30 406.85L435.73 406.47L436.15 406.08L436.57 405.68L437.00 405.27L437.43 404.85L437.85 404.43L438.27 404.00L438.70 403.56L439.12 403.11L439.55 402.65L439.98 402.19L440.40 401.72L440.82 401.24L441.25 400.76L441.68 400.26L442.10 399.76L442.52 399.25L442.95 398.74L443.38 398.22L443.80 397.69L444.23 397.15L444.65 396.61L445.07 396.06L445.50 395.51L445.93 394.94L446.35 394.38L446.77 393.80L447.20 393.22L447.62 392.64L448.05 392.04L448.48 391.45L448.90 390.84L449.32 390.24L449.75 389.62L450.18 389.00L450.60 388.38L451.02 387.75L451.45 387.12L451.88 386.48L452.30 385.83L452.73 385.19L453.15 384.53L453.57 383.88L454.00 383.22L454.43 382.55L454.85 381.89L455.27 381.21L455.70 380.54L456.12 379.86L456.55 379.18L456.98 378.49L457.40 377.81L457.82 377.12L458.25 376.42L458.68 375.73L459.10 375.03L459.52 374.33L459.95 373.63L460.38 372.92L460.80 372.22L461.23 371.51L461.65 370.80L462.07 370.09L462.50 369.38L462.93 368.67L463.35 367.95L463.77 367.24L464.20 366.52L464.62 365.81L465.05 365.09L465.48 364.38L465.90 363.66L466.32 362.95L466.75 362.24L467.18 361.52L467.60 360.81L468.02 360.10L468.45 359.39L468.88 358.68L469.30 357.97L469.73 357.26L470.15 356.56L470.57 355.85L471.00 355.15L471.43 354.45L471.85 353.76L472.27 353.06L472.70 352.37L473.12 351.68L473.55 351.00L473.98 350.31L474.40 349.63L474.82 348.96L475.25 348.29L475.68 347.62L476.10 346.95L476.52 346.29L476.95 345.64L477.38 344.99L477.80 344.34L478.22 343.70L478.65 343.06L479.07 342.43L479.50 341.80L479.93 341.18L480.35 340.57L480.77 339.96L481.20 339.35L481.62 338.75L482.05 338.16L482.48 337.58L482.90 337.00L483.32 336.42L483.75 335.86L484.18 335.30L484.60 334.75L485.02 334.20L485.45 333.67L485.88 333.14L486.30 332.62L486.73 332.10L487.15 331.59L487.57 331.10L488.00 330.61L488.43 330.12L488.85 329.65L489.27 329.19L489.70 328.73L490.12 328.28L490.55 327.85L490.97 327.42L491.40 327.00L491.82 326.59L492.25 326.18L492.67 325.79L493.10 325.41L493.52 325.04L493.95 324.68L494.38 324.32L494.80 323.98L495.23 323.65L495.65 323.33L496.07 323.02L496.50 322.72L496.92 322.43L497.35 322.15L497.77 321.88L498.20 321.62L498.62 321.37L499.05 321.14L499.48 320.91L499.90 320.70L500.32 320.50L500.75 320.30L501.17 320.13L501.60 319.96L502.02 319.80L502.45 319.66L502.88 319.52L503.30 319.40L503.73 319.29L504.15 319.19L504.57 319.11L505.00 319.03L505.42 318.97L505.85 318.92L506.27 318.88L506.70 318.85L507.12 318.84L507.55 318.84L507.97 318.85L508.40 318.87L508.82 318.90L509.25 318.95L509.67 319.00L510.10 319.08L510.52 319.16L510.95 319.25L511.38 319.36L511.80 319.48L512.23 319.61L512.65 319.75L513.07 319.91L513.50 320.07L513.92 320.25L514.35 320.45L514.77 320.65L515.20 320.86L515.62 321.09L516.05 321.33L516.48 321.58L516.90 321.85L517.32 322.12L517.75 322.41L518.17 322.70L518.60 323.01L519.02 323.33L519.45 323.67L519.88 324.01L520.30 324.37L520.73 324.73L521.15 325.11L521.58 325.50L522.00 325.90L522.42 326.31L522.85 326.73L523.27 327.16L523.70 327.61L524.12 328.06L524.55 328.52L524.98 329.00L525.40 329.48L525.83 329.97L526.25 330.48L526.67 330.99L527.10 331.51L527.52 332.05L527.95 332.59L528.38 333.14L528.80 333.70L529.22 334.27L529.65 334.85L530.07 335.44L530.50 336.04L530.92 336.64L531.35 337.25L531.77 337.87L532.20 338.50L532.62 339.14L533.05 339.78L533.47 340.44L533.90 341.10L534.32 341.76L534.75 342.44L535.17 343.12L535.60 343.80L536.02 344.50L536.45 345.20L536.88 345.90L537.30 346.61L537.73 347.33L538.15 348.05L538.57 348.78L539.00 349.52L539.42 350.25L539.85 351.00L540.27 351.74L540.70 352.50L541.12 353.25L541.55 354.01L541.98 354.78L542.40 355.54L542.82 356.31L543.25 357.09L543.67 357.86L544.10 358.64L544.52 359.43L544.95 360.21L545.38 361.00L545.80 361.78L546.23 362.57L546.65 363.36L547.08 364.16L547.50 364.95L547.92 365.74L548.35 366.54L548.77 367.33L549.20 368.13L549.62 368.92L550.05 369.71L550.47 370.51L550.90 371.30L551.32 372.09L551.75 372.88L552.17 373.67L552.60 374.46L553.02 375.24L553.45 376.03L553.88 376.81L554.30 377.58L554.72 378.36L555.15 379.13L555.57 379.90L556.00 380.67L556.42 381.43L556.85 382.19L557.27 382.94L557.70 383.69L558.12 384.43L558.55 385.18L558.97 385.91L559.40 386.64L559.82 387.36L560.25 388.08L560.67 388.80L561.10 389.50L561.52 390.21L561.95 390.90L562.38 391.59L562.80 392.27L563.22 392.94L563.65 393.61L564.07 394.27L564.50 394.92L564.92 395.56L565.35 396.20L565.77 396.83L566.20 397.45L566.62 398.06L567.05 398.66L567.47 399.26L567.90 399.84L568.32 400.41L568.75 400.98L569.17 401.54L569.60 402.08L570.02 402.62L570.45 403.15L570.88 403.66L571.30 404.17L571.72 404.66L572.15 405.15L572.57 405.62L573.00 406.09L573.42 406.54L573.85 406.98L574.27 407.41L574.70 407.83L575.12 408.23L575.55 408.63L575.97 409.01L576.40 409.38L576.82 409.74L577.25 410.09L577.67 410.43L578.10 410.75L578.52 411.06L578.95 411.36L579.38 411.64L579.80 411.91L580.22 412.17L580.65 412.42L581.07 412.65L581.50 412.87L581.92 413.08L582.35 413.28L582.77 413.46L583.20 413.63L583.62 413.78L584.05 413.92L584.47 414.05L584.90 414.17L585.32 414.27L585.75 414.36L586.17 414.43L586.60 414.49L587.02 414.54L587.45 414.57L587.88 414.59L588.30 414.60" fill="none" stroke="#ff0000" stroke-width="1.45"/>
<path d="M420.00 413.17l1.3 2.35h-2.6zM423.40 412.54l1.3 2.35h-2.6zM426.80 411.28l1.3 2.35h-2.6zM430.20 409.41l1.3 2.35h-2.6zM433.60 406.94l1.3 2.35h-2.6zM437.00 403.92l1.3 2.35h-2.6zM440.40 400.37l1.3 2.35h-2.6zM443.80 396.34l1.3 2.35h-2.6zM447.20 391.87l1.3 2.35h-2.6zM450.60 387.03l1.3 2.35h-2.6zM454.00 381.87l1.3 2.35h-2.6zM457.40 376.46l1.3 2.35h-2.6zM460.80 370.87l1.3 2.35h-2.6zM464.20 365.17l1.3 2.35h-2.6zM467.60 359.46l1.3 2.35h-2.6zM471.00 353.80l1.3 2.35h-2.6zM474.40 348.28l1.3 2.35h-2.6zM477.80 342.99l1.3 2.35h-2.6zM481.20 338.00l1.3 2.35h-2.6zM484.60 333.40l1.3 2.35h-2.6zM488.00 329.26l1.3 2.35h-2.6zM491.40 325.65l1.3 2.35h-2.6zM494.80 322.63l1.3 2.35h-2.6zM498.20 320.27l1.3 2.35h-2.6zM501.60 318.61l1.3 2.35h-2.6zM505.00 317.68l1.3 2.35h-2.6zM508.40 317.52l1.3 2.35h-2.6zM511.80 318.13l1.3 2.35h-2.6zM515.20 319.51l1.3 2.35h-2.6zM518.60 321.66l1.3 2.35h-2.6zM522.00 324.55l1.3 2.35h-2.6zM525.40 328.13l1.3 2.35h-2.6zM528.80 332.35l1.3 2.35h-2.6zM532.20 337.15l1.3 2.35h-2.6zM535.60 342.45l1.3 2.35h-2.6zM539.00 348.17l1.3 2.35h-2.6zM542.40 354.19l1.3 2.35h-2.6zM545.80 360.43l1.3 2.35h-2.6zM549.20 366.78l1.3 2.35h-2.6zM552.60 373.11l1.3 2.35h-2.6zM556.00 379.32l1.3 2.35h-2.6zM559.40 385.29l1.3 2.35h-2.6zM562.80 390.92l1.3 2.35h-2.6zM566.20 396.10l1.3 2.35h-2.6zM569.60 400.73l1.3 2.35h-2.6zM573.00 404.74l1.3 2.35h-2.6zM576.40 408.03l1.3 2.35h-2.6zM579.80 410.56l1.3 2.35h-2.6zM583.20 412.28l1.3 2.35h-2.6zM586.60 413.14l1.3 2.35h-2.6z" fill="#ff0000"/>
<path d="M418.30 414.60L418.73 414.59L419.15 414.57L419.57 414.53L420.00 414.48L420.43 414.41L420.85 414.33L421.28 414.23L421.70 414.12L422.12 413.99L422.55 413.85L422.98 413.70L423.40 413.52L423.82 413.34L424.25 413.14L424.68 412.92L425.10 412.69L425.53 412.44L425.95 412.19L426.38 411.91L426.80 411.62L427.23 411.32L427.65 411.00L428.07 410.67L428.50 410.33L428.93 409.97L429.35 409.59L429.78 409.21L430.20 408.80L430.62 408.39L431.05 407.96L431.48 407.52L431.90 407.06L432.32 406.59L432.75 406.11L433.18 405.61L433.60 405.10L434.02 404.58L434.45 404.05L434.88 403.50L435.30 402.94L435.73 402.36L436.15 401.78L436.57 401.18L437.00 400.57L437.43 399.95L437.85 399.32L438.27 398.67L438.70 398.01L439.12 397.34L439.55 396.66L439.98 395.97L440.40 395.27L440.82 394.56L441.25 393.83L441.68 393.10L442.10 392.35L442.52 391.60L442.95 390.83L443.38 390.05L443.80 389.27L444.23 388.47L444.65 387.67L445.07 386.85L445.50 386.03L445.93 385.20L446.35 384.36L446.77 383.51L447.20 382.65L447.62 381.79L448.05 380.91L448.48 380.03L448.90 379.14L449.32 378.24L449.75 377.34L450.18 376.43L450.60 375.51L451.02 374.58L451.45 373.65L451.88 372.72L452.30 371.77L452.73 370.82L453.15 369.87L453.57 368.91L454.00 367.94L454.43 366.97L454.85 366.00L455.27 365.02L455.70 364.03L456.12 363.04L456.55 362.05L456.98 361.05L457.40 360.06L457.82 359.05L458.25 358.05L458.68 357.04L459.10 356.03L459.52 355.01L459.95 354.00L460.38 352.98L460.80 351.96L461.23 350.94L461.65 349.92L462.07 348.90L462.50 347.87L462.93 346.85L463.35 345.83L463.77 344.80L464.20 343.78L464.62 342.76L465.05 341.73L465.48 340.71L465.90 339.69L466.32 338.67L466.75 337.65L467.18 336.64L467.60 335.63L468.02 334.61L468.45 333.61L468.88 332.60L469.30 331.60L469.73 330.60L470.15 329.60L470.57 328.61L471.00 327.62L471.43 326.64L471.85 325.66L472.27 324.69L472.70 323.72L473.12 322.75L473.55 321.79L473.98 320.84L474.40 319.89L474.82 318.95L475.25 318.02L475.68 317.09L476.10 316.17L476.52 315.25L476.95 314.34L477.38 313.44L477.80 312.55L478.22 311.67L478.65 310.79L479.07 309.92L479.50 309.06L479.93 308.21L480.35 307.37L480.77 306.54L481.20 305.71L481.62 304.90L482.05 304.10L482.48 303.30L482.90 302.52L483.32 301.75L483.75 300.98L484.18 300.23L484.60 299.49L485.02 298.76L485.45 298.04L485.88 297.34L486.30 296.64L486.73 295.96L487.15 295.29L487.57 294.63L488.00 293.98L488.43 293.35L488.85 292.73L489.27 292.12L489.70 291.52L490.12 290.94L490.55 290.37L490.97 289.82L491.40 289.28L491.82 288.75L492.25 288.24L492.67 287.74L493.10 287.25L493.52 286.78L493.95 286.33L494.38 285.88L494.80 285.46L495.23 285.05L495.65 284.65L496.07 284.27L496.50 283.90L496.92 283.55L497.35 283.22L497.77 282.90L498.20 282.59L498.62 282.31L499.05 282.03L499.48 281.78L499.90 281.54L500.32 281.31L500.75 281.10L501.17 280.91L501.60 280.74L502.02 280.58L502.45 280.44L502.88 280.31L503.30 280.20L503.73 280.11L504.15 280.03L504.57 279.97L505.00 279.93L505.42 279.90L505.85 279.89L506.27 279.90L506.70 279.92L507.12 279.96L507.55 280.02L507.97 280.10L508.40 280.19L508.82 280.29L509.25 280.42L509.67 280.56L510.10 280.72L510.52 280.89L510.95 281.09L511.38 281.29L511.80 281.52L512.23 281.76L512.65 282.02L513.07 282.29L513.50 282.59L513.92 282.89L514.35 283.22L514.77 283.56L515.20 283.91L515.62 284.29L516.05 284.68L516.48 285.08L516.90 285.50L517.32 285.94L517.75 286.39L518.17 286.86L518.60 287.34L519.02 287.84L519.45 288.35L519.88 288.88L520.30 289.43L520.73 289.99L521.15 290.56L521.58 291.15L522.00 291.75L522.42 292.37L522.85 293.00L523.27 293.65L523.70 294.31L524.12 294.98L524.55 295.67L524.98 296.37L525.40 297.08L525.83 297.81L526.25 298.55L526.67 299.30L527.10 300.07L527.52 300.85L527.95 301.63L528.38 302.44L528.80 303.25L529.22 304.08L529.65 304.91L530.07 305.76L530.50 306.62L530.92 307.49L531.35 308.37L531.77 309.26L532.20 310.16L532.62 311.07L533.05 311.99L533.47 312.92L533.90 313.86L534.32 314.81L534.75 315.76L535.17 316.73L535.60 317.70L536.02 318.68L536.45 319.67L536.88 320.67L537.30 321.67L537.73 322.68L538.15 323.70L538.57 324.72L539.00 325.75L539.42 326.79L539.85 327.83L540.27 328.87L540.70 329.93L541.12 330.98L541.55 332.04L541.98 333.11L542.40 334.18L542.82 335.25L543.25 336.33L543.67 337.40L544.10 338.49L544.52 339.57L544.95 340.66L545.38 341.75L545.80 342.84L546.23 343.93L546.65 345.02L547.08 346.12L547.50 347.21L547.92 348.31L548.35 349.40L548.77 350.50L549.20 351.59L549.62 352.68L550.05 353.77L550.47 354.86L550.90 355.95L551.32 357.04L551.75 358.12L552.17 359.20L552.60 360.28L553.02 361.36L553.45 362.43L553.88 363.50L554.30 364.56L554.72 365.62L555.15 366.67L555.57 367.72L556.00 368.77L556.42 369.81L556.85 370.84L557.27 371.86L557.70 372.88L558.12 373.90L558.55 374.90L558.97 375.90L559.40 376.90L559.82 377.88L560.25 378.86L560.67 379.82L561.10 380.78L561.52 381.73L561.95 382.68L562.38 383.61L562.80 384.53L563.22 385.44L563.65 386.34L564.07 387.24L564.50 388.12L564.92 388.99L565.35 389.85L565.77 390.70L566.20 391.53L566.62 392.36L567.05 393.17L567.47 393.97L567.90 394.76L568.32 395.54L568.75 396.30L569.17 397.05L569.60 397.79L570.02 398.51L570.45 399.22L570.88 399.91L571.30 400.59L571.72 401.26L572.15 401.91L572.57 402.55L573.00 403.17L573.42 403.78L573.85 404.38L574.27 404.95L574.70 405.51L575.12 406.06L575.55 406.59L575.97 407.11L576.40 407.61L576.82 408.09L577.25 408.55L577.67 409.00L578.10 409.44L578.52 409.85L578.95 410.25L579.38 410.63L579.80 411.00L580.22 411.35L580.65 411.68L581.07 411.99L581.50 412.29L581.92 412.57L582.35 412.83L582.77 413.07L583.20 413.30L583.62 413.50L584.05 413.69L584.47 413.87L584.90 414.02L585.32 414.16L585.75 414.27L586.17 414.37L586.60 414.45L587.02 414.52L587.45 414.56L587.88 414.59L588.30 414.60" fill="none" stroke="#8000ff" stroke-width="1.25" stroke-dasharray="3.2 1.4"/>
<path d="M420.00 413.13l1.3 2.35h-2.6zM423.40 412.17l1.3 2.35h-2.6zM426.80 410.27l1.3 2.35h-2.6zM430.20 407.45l1.3 2.35h-2.6zM433.60 403.75l1.3 2.35h-2.6zM437.00 399.22l1.3 2.35h-2.6zM440.40 393.92l1.3 2.35h-2.6zM443.80 387.92l1.3 2.35h-2.6zM447.20 381.30l1.3 2.35h-2.6zM450.60 374.16l1.3 2.35h-2.6zM454.00 366.59l1.3 2.35h-2.6zM457.40 358.71l1.3 2.35h-2.6zM460.80 350.61l1.3 2.35h-2.6zM464.20 342.43l1.3 2.35h-2.6zM467.60 334.28l1.3 2.35h-2.6zM471.00 326.27l1.3 2.35h-2.6zM474.40 318.54l1.3 2.35h-2.6zM477.80 311.20l1.3 2.35h-2.6zM481.20 304.36l1.3 2.35h-2.6zM484.60 298.14l1.3 2.35h-2.6zM488.00 292.63l1.3 2.35h-2.6zM491.40 287.93l1.3 2.35h-2.6zM494.80 284.11l1.3 2.35h-2.6zM498.20 281.24l1.3 2.35h-2.6zM501.60 279.39l1.3 2.35h-2.6zM505.00 278.58l1.3 2.35h-2.6zM508.40 278.84l1.3 2.35h-2.6zM511.80 280.17l1.3 2.35h-2.6zM515.20 282.56l1.3 2.35h-2.6zM518.60 285.99l1.3 2.35h-2.6zM522.00 290.40l1.3 2.35h-2.6zM525.40 295.73l1.3 2.35h-2.6zM528.80 301.90l1.3 2.35h-2.6zM532.20 308.81l1.3 2.35h-2.6zM535.60 316.35l1.3 2.35h-2.6zM539.00 324.40l1.3 2.35h-2.6zM542.40 332.83l1.3 2.35h-2.6zM545.80 341.49l1.3 2.35h-2.6zM549.20 350.24l1.3 2.35h-2.6zM552.60 358.93l1.3 2.35h-2.6zM556.00 367.42l1.3 2.35h-2.6zM559.40 375.55l1.3 2.35h-2.6zM562.80 383.18l1.3 2.35h-2.6zM566.20 390.18l1.3 2.35h-2.6zM569.60 396.44l1.3 2.35h-2.6zM573.00 401.82l1.3 2.35h-2.6zM576.40 406.26l1.3 2.35h-2.6zM579.80 409.65l1.3 2.35h-2.6zM583.20 411.95l1.3 2.35h-2.6zM586.60 413.10l1.3 2.35h-2.6z" fill="#fff" fill-opacity="0.6" stroke="#8000ff" stroke-width="0.45"/>
<path d="M418.30 414.60L418.73 414.59L419.15 414.56L419.57 414.50L420.00 414.43L420.43 414.33L420.85 414.21L421.28 414.07L421.70 413.91L422.12 413.73L422.55 413.52L422.98 413.29L423.40 413.05L423.82 412.78L424.25 412.49L424.68 412.18L425.10 411.84L425.53 411.49L425.95 411.12L426.38 410.72L426.80 410.31L427.23 409.87L427.65 409.42L428.07 408.94L428.50 408.44L428.93 407.92L429.35 407.39L429.78 406.83L430.20 406.25L430.62 405.66L431.05 405.04L431.48 404.41L431.90 403.75L432.32 403.08L432.75 402.39L433.18 401.68L433.60 400.95L434.02 400.20L434.45 399.43L434.88 398.65L435.30 397.85L435.73 397.03L436.15 396.20L436.57 395.34L437.00 394.47L437.43 393.59L437.85 392.68L438.27 391.77L438.70 390.83L439.12 389.88L439.55 388.91L439.98 387.93L440.40 386.93L440.82 385.92L441.25 384.90L441.68 383.86L442.10 382.80L442.52 381.73L442.95 380.65L443.38 379.56L443.80 378.45L444.23 377.33L444.65 376.19L445.07 375.05L445.50 373.89L445.93 372.72L446.35 371.54L446.77 370.35L447.20 369.15L447.62 367.94L448.05 366.71L448.48 365.48L448.90 364.24L449.32 362.99L449.75 361.73L450.18 360.46L450.60 359.18L451.02 357.90L451.45 356.61L451.88 355.31L452.30 354.00L452.73 352.69L453.15 351.37L453.57 350.04L454.00 348.71L454.43 347.37L454.85 346.03L455.27 344.68L455.70 343.33L456.12 341.98L456.55 340.62L456.98 339.26L457.40 337.89L457.82 336.52L458.25 335.15L458.68 333.78L459.10 332.41L459.52 331.03L459.95 329.65L460.38 328.28L460.80 326.90L461.23 325.52L461.65 324.15L462.07 322.77L462.50 321.39L462.93 320.02L463.35 318.65L463.77 317.28L464.20 315.91L464.62 314.54L465.05 313.18L465.48 311.82L465.90 310.47L466.32 309.12L466.75 307.77L467.18 306.43L467.60 305.09L468.02 303.76L468.45 302.43L468.88 301.11L469.30 299.80L469.73 298.49L470.15 297.19L470.57 295.90L471.00 294.62L471.43 293.34L471.85 292.07L472.27 290.81L472.70 289.56L473.12 288.32L473.55 287.09L473.98 285.86L474.40 284.65L474.82 283.45L475.25 282.26L475.68 281.08L476.10 279.91L476.52 278.75L476.95 277.61L477.38 276.47L477.80 275.35L478.22 274.24L478.65 273.15L479.07 272.07L479.50 271.00L479.93 269.94L480.35 268.90L480.77 267.88L481.20 266.87L481.62 265.87L482.05 264.89L482.48 263.92L482.90 262.97L483.32 262.03L483.75 261.12L484.18 260.21L484.60 259.33L485.02 258.46L485.45 257.60L485.88 256.77L486.30 255.95L486.73 255.15L487.15 254.37L487.57 253.60L488.00 252.85L488.43 252.12L488.85 251.41L489.27 250.72L489.70 250.05L490.12 249.39L490.55 248.76L490.97 248.14L491.40 247.55L491.82 246.97L492.25 246.41L492.67 245.88L493.10 245.36L493.52 244.86L493.95 244.38L494.38 243.93L494.80 243.49L495.23 243.08L495.65 242.68L496.07 242.31L496.50 241.96L496.92 241.62L497.35 241.31L497.77 241.02L498.20 240.75L498.62 240.51L499.05 240.28L499.48 240.07L499.90 239.89L500.32 239.73L500.75 239.59L501.17 239.47L501.60 239.37L502.02 239.30L502.45 239.24L502.88 239.21L503.30 239.20L503.73 239.21L504.15 239.24L504.57 239.30L505.00 239.37L505.42 239.47L505.85 239.59L506.27 239.73L506.70 239.89L507.12 240.07L507.55 240.28L507.97 240.51L508.40 240.75L508.82 241.02L509.25 241.31L509.67 241.62L510.10 241.96L510.52 242.31L510.95 242.68L511.38 243.08L511.80 243.49L512.23 243.93L512.65 244.38L513.07 244.86L513.50 245.36L513.92 245.88L514.35 246.41L514.77 246.97L515.20 247.55L515.62 248.14L516.05 248.76L516.48 249.39L516.90 250.05L517.32 250.72L517.75 251.41L518.17 252.12L518.60 252.85L519.02 253.60L519.45 254.37L519.88 255.15L520.30 255.95L520.73 256.77L521.15 257.60L521.58 258.46L522.00 259.33L522.42 260.21L522.85 261.12L523.27 262.03L523.70 262.97L524.12 263.92L524.55 264.89L524.98 265.87L525.40 266.87L525.83 267.88L526.25 268.90L526.67 269.94L527.10 271.00L527.52 272.07L527.95 273.15L528.38 274.24L528.80 275.35L529.22 276.47L529.65 277.61L530.07 278.75L530.50 279.91L530.92 281.08L531.35 282.26L531.77 283.45L532.20 284.65L532.62 285.86L533.05 287.09L533.47 288.32L533.90 289.56L534.32 290.81L534.75 292.07L535.17 293.34L535.60 294.62L536.02 295.90L536.45 297.19L536.88 298.49L537.30 299.80L537.73 301.11L538.15 302.43L538.57 303.76L539.00 305.09L539.42 306.43L539.85 307.77L540.27 309.12L540.70 310.47L541.12 311.82L541.55 313.18L541.98 314.54L542.40 315.91L542.82 317.28L543.25 318.65L543.67 320.02L544.10 321.39L544.52 322.77L544.95 324.15L545.38 325.52L545.80 326.90L546.23 328.28L546.65 329.65L547.08 331.03L547.50 332.41L547.92 333.78L548.35 335.15L548.77 336.52L549.20 337.89L549.62 339.26L550.05 340.62L550.47 341.98L550.90 343.33L551.32 344.68L551.75 346.03L552.17 347.37L552.60 348.71L553.02 350.04L553.45 351.37L553.88 352.69L554.30 354.00L554.72 355.31L555.15 356.61L555.57 357.90L556.00 359.18L556.42 360.46L556.85 361.73L557.27 362.99L557.70 364.24L558.12 365.48L558.55 366.71L558.97 367.94L559.40 369.15L559.82 370.35L560.25 371.54L560.67 372.72L561.10 373.89L561.52 375.05L561.95 376.19L562.38 377.33L562.80 378.45L563.22 379.56L563.65 380.65L564.07 381.73L564.50 382.80L564.92 383.86L565.35 384.90L565.77 385.92L566.20 386.93L566.62 387.93L567.05 388.91L567.47 389.88L567.90 390.83L568.32 391.77L568.75 392.68L569.17 393.59L569.60 394.47L570.02 395.34L570.45 396.20L570.88 397.03L571.30 397.85L571.72 398.65L572.15 399.43L572.57 400.20L573.00 400.95L573.42 401.68L573.85 402.39L574.27 403.08L574.70 403.75L575.12 404.41L575.55 405.04L575.97 405.66L576.40 406.25L576.82 406.83L577.25 407.39L577.67 407.92L578.10 408.44L578.52 408.94L578.95 409.42L579.38 409.87L579.80 410.31L580.22 410.72L580.65 411.12L581.07 411.49L581.50 411.84L581.92 412.18L582.35 412.49L582.77 412.78L583.20 413.05L583.62 413.29L584.05 413.52L584.47 413.73L584.90 413.91L585.32 414.07L585.75 414.21L586.17 414.33L586.60 414.43L587.02 414.50L587.45 414.56L587.88 414.59L588.30 414.60" fill="none" stroke="#000" stroke-width="1.30"/>
<circle cx="420.00" cy="414.43" r="1.55" fill="#000"/>
<circle cx="423.40" cy="413.05" r="1.55" fill="#000"/>
<circle cx="426.80" cy="410.31" r="1.55" fill="#000"/>
<circle cx="430.20" cy="406.25" r="1.55" fill="#000"/>
<circle cx="433.60" cy="400.95" r="1.55" fill="#000"/>
<circle cx="437.00" cy="394.47" r="1.55" fill="#000"/>
<circle cx="440.40" cy="386.93" r="1.55" fill="#000"/>
<circle cx="443.80" cy="378.45" r="1.55" fill="#000"/>
<circle cx="447.20" cy="369.15" r="1.55" fill="#000"/>
<circle cx="450.60" cy="359.18" r="1.55" fill="#000"/>
<circle cx="454.00" cy="348.71" r="1.55" fill="#000"/>
<circle cx="457.40" cy="337.89" r="1.55" fill="#000"/>
<circle cx="460.80" cy="326.90" r="1.55" fill="#000"/>
<circle cx="464.20" cy="315.91" r="1.55" fill="#000"/>
<circle cx="467.60" cy="305.09" r="1.55" fill="#000"/>
<circle cx="471.00" cy="294.62" r="1.55" fill="#000"/>
<circle cx="474.40" cy="284.65" r="1.55" fill="#000"/>
<circle cx="477.80" cy="275.35" r="1.55" fill="#000"/>
<circle cx="481.20" cy="266.87" r="1.55" fill="#000"/>
<circle cx="484.60" cy="259.33" r="1.55" fill="#000"/>
<circle cx="488.00" cy="252.85" r="1.55" fill="#000"/>
<circle cx="491.40" cy="247.55" r="1.55" fill="#000"/>
<circle cx="494.80" cy="243.49" r="1.55" fill="#000"/>
<circle cx="498.20" cy="240.75" r="1.55" fill="#000"/>
<circle cx="501.60" cy="239.37" r="1.55" fill="#000"/>
<circle cx="505.00" cy="239.37" r="1.55" fill="#000"/>
<circle cx="508.40" cy="240.75" r="1.55" fill="#000"/>
<circle cx="511.80" cy="243.49" r="1.55" fill="#000"/>
<circle cx="515.20" cy="247.55" r="1.55" fill="#000"/>
<circle cx="518.60" cy="252.85" r="1.55" fill="#000"/>
<circle cx="522.00" cy="259.33" r="1.55" fill="#000"/>
<circle cx="525.40" cy="266.87" r="1.55" fill="#000"/>
<circle cx="528.80" cy="275.35" r="1.55" fill="#000"/>
<circle cx="532.20" cy="284.65" r="1.55" fill="#000"/>
<circle cx="535.60" cy="294.62" r="1.55" fill="#000"/>
<circle cx="539.00" cy="305.09" r="1.55" fill="#000"/>
<circle cx="542.40" cy="315.91" r="1.55" fill="#000"/>
<circle cx="545.80" cy="326.90" r="1.55" fill="#000"/>
<circle cx="549.20" cy="337.89" r="1.55" fill="#000"/>
<circle cx="552.60" cy="348.71" r="1.55" fill="#000"/>
<circle cx="556.00" cy="359.18" r="1.55" fill="#000"/>
<circle cx="559.40" cy="369.15" r="1.55" fill="#000"/>
<circle cx="562.80" cy="378.45" r="1.55" fill="#000"/>
<circle cx="566.20" cy="386.93" r="1.55" fill="#000"/>
<circle cx="569.60" cy="394.47" r="1.55" fill="#000"/>
<circle cx="573.00" cy="400.95" r="1.55" fill="#000"/>
<circle cx="576.40" cy="406.25" r="1.55" fill="#000"/>
<circle cx="579.80" cy="410.31" r="1.55" fill="#000"/>
<circle cx="583.20" cy="413.05" r="1.55" fill="#000"/>
<circle cx="586.60" cy="414.43" r="1.55" fill="#000"/>
<path d="M418.30 414.60L418.73 414.59L419.15 414.56L419.57 414.52L420.00 414.45L420.43 414.37L420.85 414.27L421.28 414.15L421.70 414.01L422.12 413.86L422.55 413.69L422.98 413.50L423.40 413.29L423.82 413.06L424.25 412.81L424.68 412.55L425.10 412.27L425.53 411.97L425.95 411.66L426.38 411.32L426.80 410.97L427.23 410.60L427.65 410.22L428.07 409.82L428.50 409.40L428.93 408.96L429.35 408.51L429.78 408.04L430.20 407.55L430.62 407.05L431.05 406.53L431.48 406.00L431.90 405.45L432.32 404.88L432.75 404.30L433.18 403.70L433.60 403.09L434.02 402.46L434.45 401.82L434.88 401.16L435.30 400.49L435.73 399.81L436.15 399.10L436.57 398.39L437.00 397.66L437.43 396.92L437.85 396.17L438.27 395.40L438.70 394.62L439.12 393.82L439.55 393.02L439.98 392.20L440.40 391.37L440.82 390.53L441.25 389.67L441.68 388.81L442.10 387.93L442.52 387.04L442.95 386.14L443.38 385.24L443.80 384.32L444.23 383.39L444.65 382.45L445.07 381.50L445.50 380.55L445.93 379.58L446.35 378.61L446.77 377.62L447.20 376.63L447.62 375.64L448.05 374.63L448.48 373.62L448.90 372.60L449.32 371.57L449.75 370.54L450.18 369.50L450.60 368.45L451.02 367.40L451.45 366.35L451.88 365.29L452.30 364.22L452.73 363.15L453.15 362.08L453.57 361.00L454.00 359.92L454.43 358.84L454.85 357.75L455.27 356.66L455.70 355.57L456.12 354.47L456.55 353.38L456.98 352.28L457.40 351.18L457.82 350.08L458.25 348.98L458.68 347.88L459.10 346.78L459.52 345.68L459.95 344.58L460.38 343.48L460.80 342.39L461.23 341.29L461.65 340.20L462.07 339.10L462.50 338.02L462.93 336.93L463.35 335.84L463.77 334.76L464.20 333.69L464.62 332.61L465.05 331.54L465.48 330.48L465.90 329.42L466.32 328.36L466.75 327.31L467.18 326.27L467.60 325.23L468.02 324.20L468.45 323.17L468.88 322.15L469.30 321.13L469.73 320.13L470.15 319.13L470.57 318.14L471.00 317.15L471.43 316.18L471.85 315.21L472.27 314.25L472.70 313.30L473.12 312.36L473.55 311.43L473.98 310.51L474.40 309.60L474.82 308.69L475.25 307.80L475.68 306.92L476.10 306.05L476.52 305.19L476.95 304.34L477.38 303.50L477.80 302.68L478.22 301.86L478.65 301.06L479.07 300.27L479.50 299.49L479.93 298.73L480.35 297.97L480.77 297.23L481.20 296.51L481.62 295.79L482.05 295.09L482.48 294.41L482.90 293.73L483.32 293.08L483.75 292.43L484.18 291.80L484.60 291.18L485.02 290.58L485.45 290.00L485.88 289.42L486.30 288.87L486.73 288.32L487.15 287.80L487.57 287.29L488.00 286.79L488.43 286.31L488.85 285.84L489.27 285.39L489.70 284.96L490.12 284.54L490.55 284.14L490.97 283.76L491.40 283.39L491.82 283.03L492.25 282.70L492.67 282.38L493.10 282.07L493.52 281.78L493.95 281.51L494.38 281.26L494.80 281.02L495.23 280.80L495.65 280.60L496.07 280.41L496.50 280.24L496.92 280.08L497.35 279.95L497.77 279.83L498.20 279.72L498.62 279.64L499.05 279.57L499.48 279.52L499.90 279.48L500.32 279.46L500.75 279.46L501.17 279.47L501.60 279.51L502.02 279.55L502.45 279.62L502.88 279.70L503.30 279.80L503.73 279.92L504.15 280.05L504.57 280.20L505.00 280.36L505.42 280.54L505.85 280.74L506.27 280.95L506.70 281.18L507.12 281.43L507.55 281.69L507.97 281.97L508.40 282.26L508.82 282.57L509.25 282.90L509.67 283.24L510.10 283.60L510.52 283.97L510.95 284.36L511.38 284.76L511.80 285.18L512.23 285.61L512.65 286.06L513.07 286.52L513.50 286.99L513.92 287.49L514.35 287.99L514.77 288.51L515.20 289.04L515.62 289.59L516.05 290.15L516.48 290.73L516.90 291.31L517.32 291.91L517.75 292.53L518.17 293.16L518.60 293.80L519.02 294.45L519.45 295.11L519.88 295.79L520.30 296.48L520.73 297.18L521.15 297.89L521.58 298.61L522.00 299.35L522.42 300.10L522.85 300.85L523.27 301.62L523.70 302.40L524.12 303.19L524.55 303.99L524.98 304.80L525.40 305.62L525.83 306.44L526.25 307.28L526.67 308.13L527.10 308.98L527.52 309.85L527.95 310.72L528.38 311.60L528.80 312.49L529.22 313.39L529.65 314.29L530.07 315.20L530.50 316.12L530.92 317.05L531.35 317.98L531.77 318.92L532.20 319.86L532.62 320.82L533.05 321.77L533.47 322.74L533.90 323.70L534.32 324.68L534.75 325.65L535.17 326.64L535.60 327.62L536.02 328.61L536.45 329.61L536.88 330.61L537.30 331.61L537.73 332.62L538.15 333.62L538.57 334.63L539.00 335.65L539.42 336.66L539.85 337.68L540.27 338.70L540.70 339.72L541.12 340.75L541.55 341.77L541.98 342.79L542.40 343.82L542.82 344.84L543.25 345.87L543.67 346.90L544.10 347.92L544.52 348.95L544.95 349.97L545.38 350.99L545.80 352.01L546.23 353.03L546.65 354.05L547.08 355.07L547.50 356.08L547.92 357.09L548.35 358.10L548.77 359.11L549.20 360.11L549.62 361.11L550.05 362.11L550.47 363.10L550.90 364.09L551.32 365.08L551.75 366.06L552.17 367.03L552.60 368.00L553.02 368.97L553.45 369.93L553.88 370.88L554.30 371.83L554.72 372.78L555.15 373.71L555.57 374.64L556.00 375.57L556.42 376.49L556.85 377.40L557.27 378.30L557.70 379.20L558.12 380.09L558.55 380.97L558.97 381.84L559.40 382.71L559.82 383.56L560.25 384.41L560.67 385.25L561.10 386.08L561.52 386.91L561.95 387.72L562.38 388.52L562.80 389.32L563.22 390.10L563.65 390.88L564.07 391.64L564.50 392.40L564.92 393.14L565.35 393.87L565.77 394.60L566.20 395.31L566.62 396.01L567.05 396.70L567.47 397.38L567.90 398.05L568.32 398.70L568.75 399.35L569.17 399.98L569.60 400.60L570.02 401.21L570.45 401.81L570.88 402.39L571.30 402.96L571.72 403.52L572.15 404.07L572.57 404.60L573.00 405.13L573.42 405.63L573.85 406.13L574.27 406.61L574.70 407.08L575.12 407.53L575.55 407.98L575.97 408.40L576.40 408.82L576.82 409.22L577.25 409.60L577.67 409.98L578.10 410.34L578.52 410.68L578.95 411.01L579.38 411.33L579.80 411.63L580.22 411.92L580.65 412.19L581.07 412.45L581.50 412.69L581.92 412.92L582.35 413.14L582.77 413.34L583.20 413.53L583.62 413.70L584.05 413.85L584.47 414.00L584.90 414.12L585.32 414.23L585.75 414.33L586.17 414.41L586.60 414.48L587.02 414.53L587.45 414.57L587.88 414.59L588.30 414.60" fill="none" stroke="#0000ff" stroke-width="1.45"/>
<path d="M420.00 415.80l1.3 -2.35h-2.6zM423.40 414.64l1.3 -2.35h-2.6zM426.80 412.32l1.3 -2.35h-2.6zM430.20 408.90l1.3 -2.35h-2.6zM433.60 404.44l1.3 -2.35h-2.6zM437.00 399.01l1.3 -2.35h-2.6zM440.40 392.72l1.3 -2.35h-2.6zM443.80 385.67l1.3 -2.35h-2.6zM447.20 377.98l1.3 -2.35h-2.6zM450.60 369.80l1.3 -2.35h-2.6zM454.00 361.27l1.3 -2.35h-2.6zM457.40 352.53l1.3 -2.35h-2.6zM460.80 343.74l1.3 -2.35h-2.6zM464.20 335.04l1.3 -2.35h-2.6zM467.60 326.58l1.3 -2.35h-2.6zM471.00 318.50l1.3 -2.35h-2.6zM474.40 310.95l1.3 -2.35h-2.6zM477.80 304.03l1.3 -2.35h-2.6zM481.20 297.86l1.3 -2.35h-2.6zM484.60 292.53l1.3 -2.35h-2.6zM488.00 288.14l1.3 -2.35h-2.6zM491.40 284.74l1.3 -2.35h-2.6zM494.80 282.37l1.3 -2.35h-2.6zM498.20 281.07l1.3 -2.35h-2.6zM501.60 280.86l1.3 -2.35h-2.6zM505.00 281.71l1.3 -2.35h-2.6zM508.40 283.61l1.3 -2.35h-2.6zM511.80 286.53l1.3 -2.35h-2.6zM515.20 290.39l1.3 -2.35h-2.6zM518.60 295.15l1.3 -2.35h-2.6zM522.00 300.70l1.3 -2.35h-2.6zM525.40 306.97l1.3 -2.35h-2.6zM528.80 313.84l1.3 -2.35h-2.6zM532.20 321.21l1.3 -2.35h-2.6zM535.60 328.97l1.3 -2.35h-2.6zM539.00 337.00l1.3 -2.35h-2.6zM542.40 345.17l1.3 -2.35h-2.6zM545.80 353.36l1.3 -2.35h-2.6zM549.20 361.46l1.3 -2.35h-2.6zM552.60 369.35l1.3 -2.35h-2.6zM556.00 376.92l1.3 -2.35h-2.6zM559.40 384.06l1.3 -2.35h-2.6zM562.80 390.67l1.3 -2.35h-2.6zM566.20 396.66l1.3 -2.35h-2.6zM569.60 401.95l1.3 -2.35h-2.6zM573.00 406.48l1.3 -2.35h-2.6zM576.40 410.17l1.3 -2.35h-2.6zM579.80 412.98l1.3 -2.35h-2.6zM583.20 414.88l1.3 -2.35h-2.6zM586.60 415.83l1.3 -2.35h-2.6z" fill="#0000ff"/>
<path d="M418.30 414.60L418.73 414.59L419.15 414.57L419.57 414.54L420.00 414.49L420.43 414.43L420.85 414.35L421.28 414.26L421.70 414.15L422.12 414.04L422.55 413.90L422.98 413.76L423.40 413.60L423.82 413.42L424.25 413.24L424.68 413.04L425.10 412.82L425.53 412.60L425.95 412.35L426.38 412.10L426.80 411.83L427.23 411.55L427.65 411.26L428.07 410.95L428.50 410.63L428.93 410.30L429.35 409.96L429.78 409.60L430.20 409.23L430.62 408.85L431.05 408.45L431.48 408.05L431.90 407.63L432.32 407.20L432.75 406.76L433.18 406.30L433.60 405.84L434.02 405.36L434.45 404.88L434.88 404.38L435.30 403.87L435.73 403.35L436.15 402.82L436.57 402.28L437.00 401.73L437.43 401.17L437.85 400.59L438.27 400.01L438.70 399.42L439.12 398.82L439.55 398.22L439.98 397.60L440.40 396.97L440.82 396.34L441.25 395.69L441.68 395.04L442.10 394.38L442.52 393.71L442.95 393.04L443.38 392.36L443.80 391.67L444.23 390.97L444.65 390.27L445.07 389.56L445.50 388.84L445.93 388.12L446.35 387.39L446.77 386.65L447.20 385.91L447.62 385.17L448.05 384.42L448.48 383.66L448.90 382.90L449.32 382.14L449.75 381.37L450.18 380.59L450.60 379.82L451.02 379.04L451.45 378.26L451.88 377.47L452.30 376.68L452.73 375.89L453.15 375.09L453.57 374.30L454.00 373.50L454.43 372.70L454.85 371.90L455.27 371.10L455.70 370.29L456.12 369.49L456.55 368.69L456.98 367.88L457.40 367.08L457.82 366.27L458.25 365.47L458.68 364.66L459.10 363.86L459.52 363.06L459.95 362.26L460.38 361.46L460.80 360.66L461.23 359.87L461.65 359.08L462.07 358.29L462.50 357.50L462.93 356.71L463.35 355.93L463.77 355.16L464.20 354.38L464.62 353.61L465.05 352.84L465.48 352.08L465.90 351.32L466.32 350.57L466.75 349.82L467.18 349.08L467.60 348.34L468.02 347.61L468.45 346.88L468.88 346.16L469.30 345.44L469.73 344.73L470.15 344.03L470.57 343.33L471.00 342.64L471.43 341.96L471.85 341.29L472.27 340.62L472.70 339.96L473.12 339.30L473.55 338.66L473.98 338.02L474.40 337.39L474.82 336.77L475.25 336.16L475.68 335.56L476.10 334.96L476.52 334.38L476.95 333.80L477.38 333.23L477.80 332.68L478.22 332.13L478.65 331.59L479.07 331.06L479.50 330.54L479.93 330.03L480.35 329.53L480.77 329.05L481.20 328.57L481.62 328.10L482.05 327.64L482.48 327.20L482.90 326.76L483.32 326.34L483.75 325.93L484.18 325.52L484.60 325.13L485.02 324.75L485.45 324.39L485.88 324.03L486.30 323.69L486.73 323.35L487.15 323.03L487.57 322.72L488.00 322.42L488.43 322.14L488.85 321.86L489.27 321.60L489.70 321.35L490.12 321.11L490.55 320.89L490.97 320.67L491.40 320.47L491.82 320.28L492.25 320.10L492.67 319.94L493.10 319.79L493.52 319.65L493.95 319.52L494.38 319.40L494.80 319.30L495.23 319.21L495.65 319.13L496.07 319.06L496.50 319.01L496.92 318.97L497.35 318.94L497.77 318.92L498.20 318.92L498.62 318.92L499.05 318.94L499.48 318.97L499.90 319.02L500.32 319.07L500.75 319.14L501.17 319.22L501.60 319.31L502.02 319.42L502.45 319.53L502.88 319.66L503.30 319.80L503.73 319.95L504.15 320.11L504.57 320.29L505.00 320.47L505.42 320.67L505.85 320.88L506.27 321.10L506.70 321.33L507.12 321.57L507.55 321.83L507.97 322.09L508.40 322.36L508.82 322.65L509.25 322.95L509.67 323.25L510.10 323.57L510.52 323.90L510.95 324.24L511.38 324.58L511.80 324.94L512.23 325.31L512.65 325.69L513.07 326.07L513.50 326.47L513.92 326.88L514.35 327.29L514.77 327.72L515.20 328.15L515.62 328.59L516.05 329.05L516.48 329.51L516.90 329.98L517.32 330.45L517.75 330.94L518.17 331.43L518.60 331.93L519.02 332.44L519.45 332.96L519.88 333.49L520.30 334.02L520.73 334.56L521.15 335.11L521.58 335.66L522.00 336.22L522.42 336.79L522.85 337.36L523.27 337.94L523.70 338.53L524.12 339.12L524.55 339.72L524.98 340.33L525.40 340.94L525.83 341.55L526.25 342.17L526.67 342.80L527.10 343.43L527.52 344.07L527.95 344.71L528.38 345.35L528.80 346.00L529.22 346.66L529.65 347.31L530.07 347.98L530.50 348.64L530.92 349.31L531.35 349.98L531.77 350.66L532.20 351.34L532.62 352.02L533.05 352.70L533.47 353.39L533.90 354.08L534.32 354.77L534.75 355.47L535.17 356.16L535.60 356.86L536.02 357.56L536.45 358.26L536.88 358.96L537.30 359.66L537.73 360.37L538.15 361.07L538.57 361.78L539.00 362.49L539.42 363.19L539.85 363.90L540.27 364.61L540.70 365.31L541.12 366.02L541.55 366.73L541.98 367.43L542.40 368.14L542.82 368.84L543.25 369.55L543.67 370.25L544.10 370.95L544.52 371.65L544.95 372.35L545.38 373.04L545.80 373.74L546.23 374.43L546.65 375.12L547.08 375.81L547.50 376.49L547.92 377.17L548.35 377.85L548.77 378.53L549.20 379.21L549.62 379.88L550.05 380.54L550.47 381.21L550.90 381.87L551.32 382.53L551.75 383.18L552.17 383.83L552.60 384.48L553.02 385.12L553.45 385.75L553.88 386.39L554.30 387.01L554.72 387.64L555.15 388.26L555.57 388.87L556.00 389.48L556.42 390.08L556.85 390.68L557.27 391.28L557.70 391.86L558.12 392.45L558.55 393.02L558.97 393.59L559.40 394.16L559.82 394.72L560.25 395.27L560.67 395.82L561.10 396.36L561.52 396.89L561.95 397.42L562.38 397.94L562.80 398.46L563.22 398.96L563.65 399.46L564.07 399.96L564.50 400.45L564.92 400.93L565.35 401.40L565.77 401.87L566.20 402.32L566.62 402.77L567.05 403.22L567.47 403.65L567.90 404.08L568.32 404.50L568.75 404.92L569.17 405.32L569.60 405.72L570.02 406.11L570.45 406.49L570.88 406.86L571.30 407.23L571.72 407.58L572.15 407.93L572.57 408.27L573.00 408.60L573.42 408.93L573.85 409.24L574.27 409.55L574.70 409.84L575.12 410.13L575.55 410.41L575.97 410.68L576.40 410.95L576.82 411.20L577.25 411.45L577.67 411.68L578.10 411.91L578.52 412.13L578.95 412.34L579.38 412.54L579.80 412.73L580.22 412.91L580.65 413.08L581.07 413.24L581.50 413.40L581.92 413.54L582.35 413.68L582.77 413.81L583.20 413.92L583.62 414.03L584.05 414.13L584.47 414.22L584.90 414.30L585.32 414.37L585.75 414.43L586.17 414.48L586.60 414.52L587.02 414.56L587.45 414.58L587.88 414.60L588.30 414.60" fill="none" stroke="#35a0a0" stroke-width="1.25" stroke-dasharray="3.2 1.4"/>
<path d="M420.00 415.84l1.3 -2.35h-2.6zM423.40 414.95l1.3 -2.35h-2.6zM426.80 413.18l1.3 -2.35h-2.6zM430.20 410.58l1.3 -2.35h-2.6zM433.60 407.19l1.3 -2.35h-2.6zM437.00 403.08l1.3 -2.35h-2.6zM440.40 398.32l1.3 -2.35h-2.6zM443.80 393.02l1.3 -2.35h-2.6zM447.20 387.26l1.3 -2.35h-2.6zM450.60 381.17l1.3 -2.35h-2.6zM454.00 374.85l1.3 -2.35h-2.6zM457.40 368.43l1.3 -2.35h-2.6zM460.80 362.01l1.3 -2.35h-2.6zM464.20 355.73l1.3 -2.35h-2.6zM467.60 349.69l1.3 -2.35h-2.6zM471.00 343.99l1.3 -2.35h-2.6zM474.40 338.74l1.3 -2.35h-2.6zM477.80 334.03l1.3 -2.35h-2.6zM481.20 329.92l1.3 -2.35h-2.6zM484.60 326.48l1.3 -2.35h-2.6zM488.00 323.77l1.3 -2.35h-2.6zM491.40 321.82l1.3 -2.35h-2.6zM494.80 320.65l1.3 -2.35h-2.6zM498.20 320.27l1.3 -2.35h-2.6zM501.60 320.66l1.3 -2.35h-2.6zM505.00 321.82l1.3 -2.35h-2.6zM508.40 323.71l1.3 -2.35h-2.6zM511.80 326.29l1.3 -2.35h-2.6zM515.20 329.50l1.3 -2.35h-2.6zM518.60 333.28l1.3 -2.35h-2.6zM522.00 337.57l1.3 -2.35h-2.6zM525.40 342.29l1.3 -2.35h-2.6zM528.80 347.35l1.3 -2.35h-2.6zM532.20 352.69l1.3 -2.35h-2.6zM535.60 358.21l1.3 -2.35h-2.6zM539.00 363.84l1.3 -2.35h-2.6zM542.40 369.49l1.3 -2.35h-2.6zM545.80 375.09l1.3 -2.35h-2.6zM549.20 380.56l1.3 -2.35h-2.6zM552.60 385.83l1.3 -2.35h-2.6zM556.00 390.83l1.3 -2.35h-2.6zM559.40 395.51l1.3 -2.35h-2.6zM562.80 399.81l1.3 -2.35h-2.6zM566.20 403.67l1.3 -2.35h-2.6zM569.60 407.07l1.3 -2.35h-2.6zM573.00 409.95l1.3 -2.35h-2.6zM576.40 412.30l1.3 -2.35h-2.6zM579.80 414.08l1.3 -2.35h-2.6zM583.20 415.27l1.3 -2.35h-2.6zM586.60 415.87l1.3 -2.35h-2.6z" fill="#fff" fill-opacity="0.6" stroke="#35a0a0" stroke-width="0.45"/>
<rect x="239.30" y="8.50" width="168.10" height="206.10" fill="none" stroke="#000" stroke-width="1.45"/>
<line x1="281.45" y1="214.60" x2="281.45" y2="211.20" stroke="#000" stroke-width="1.25"/>
<line x1="281.45" y1="8.50" x2="281.45" y2="11.90" stroke="#000" stroke-width="1.25"/>
<line x1="323.60" y1="214.60" x2="323.60" y2="211.20" stroke="#000" stroke-width="1.25"/>
<line x1="323.60" y1="8.50" x2="323.60" y2="11.90" stroke="#000" stroke-width="1.25"/>
<line x1="365.75" y1="214.60" x2="365.75" y2="211.20" stroke="#000" stroke-width="1.25"/>
<line x1="365.75" y1="8.50" x2="365.75" y2="11.90" stroke="#000" stroke-width="1.25"/>
<line x1="239.30" y1="17.10" x2="242.70" y2="17.10" stroke="#000" stroke-width="1.25"/>
<line x1="407.40" y1="17.10" x2="404.00" y2="17.10" stroke="#000" stroke-width="1.25"/>
<line x1="239.30" y1="111.90" x2="242.70" y2="111.90" stroke="#000" stroke-width="1.25"/>
<line x1="407.40" y1="111.90" x2="404.00" y2="111.90" stroke="#000" stroke-width="1.25"/>
<line x1="239.30" y1="206.50" x2="242.70" y2="206.50" stroke="#000" stroke-width="1.25"/>
<line x1="407.40" y1="206.50" x2="404.00" y2="206.50" stroke="#000" stroke-width="1.25"/>
<rect x="418.20" y="8.50" width="170.00" height="207.10" fill="none" stroke="#000" stroke-width="1.45"/>
<line x1="460.80" y1="215.60" x2="460.80" y2="212.20" stroke="#000" stroke-width="1.25"/>
<line x1="460.80" y1="8.50" x2="460.80" y2="11.90" stroke="#000" stroke-width="1.25"/>
<line x1="503.30" y1="215.60" x2="503.30" y2="212.20" stroke="#000" stroke-width="1.25"/>
<line x1="503.30" y1="8.50" x2="503.30" y2="11.90" stroke="#000" stroke-width="1.25"/>
<line x1="545.80" y1="215.60" x2="545.80" y2="212.20" stroke="#000" stroke-width="1.25"/>
<line x1="545.80" y1="8.50" x2="545.80" y2="11.90" stroke="#000" stroke-width="1.25"/>
<line x1="418.20" y1="17.50" x2="421.60" y2="17.50" stroke="#000" stroke-width="1.25"/>
<line x1="588.20" y1="17.50" x2="584.80" y2="17.50" stroke="#000" stroke-width="1.25"/>
<line x1="418.20" y1="112.00" x2="421.60" y2="112.00" stroke="#000" stroke-width="1.25"/>
<line x1="588.20" y1="112.00" x2="584.80" y2="112.00" stroke="#000" stroke-width="1.25"/>
<line x1="418.20" y1="206.30" x2="421.60" y2="206.30" stroke="#000" stroke-width="1.25"/>
<line x1="588.20" y1="206.30" x2="584.80" y2="206.30" stroke="#000" stroke-width="1.25"/>
<rect x="239.30" y="220.30" width="168.10" height="206.00" fill="none" stroke="#000" stroke-width="1.45"/>
<line x1="281.45" y1="426.30" x2="281.45" y2="422.90" stroke="#000" stroke-width="1.25"/>
<line x1="281.45" y1="220.30" x2="281.45" y2="223.70" stroke="#000" stroke-width="1.25"/>
<line x1="323.60" y1="426.30" x2="323.60" y2="422.90" stroke="#000" stroke-width="1.25"/>
<line x1="323.60" y1="220.30" x2="323.60" y2="223.70" stroke="#000" stroke-width="1.25"/>
<line x1="365.75" y1="426.30" x2="365.75" y2="422.90" stroke="#000" stroke-width="1.25"/>
<line x1="365.75" y1="220.30" x2="365.75" y2="223.70" stroke="#000" stroke-width="1.25"/>
<line x1="239.30" y1="317.40" x2="242.70" y2="317.40" stroke="#000" stroke-width="1.25"/>
<line x1="407.40" y1="317.40" x2="404.00" y2="317.40" stroke="#000" stroke-width="1.25"/>
<line x1="239.30" y1="415.00" x2="242.70" y2="415.00" stroke="#000" stroke-width="1.25"/>
<line x1="407.40" y1="415.00" x2="404.00" y2="415.00" stroke="#000" stroke-width="1.25"/>
<rect x="418.30" y="220.40" width="170.00" height="205.80" fill="none" stroke="#000" stroke-width="1.45"/>
<line x1="460.80" y1="426.20" x2="460.80" y2="422.80" stroke="#000" stroke-width="1.25"/>
<line x1="460.80" y1="220.40" x2="460.80" y2="223.80" stroke="#000" stroke-width="1.25"/>
<line x1="503.30" y1="426.20" x2="503.30" y2="422.80" stroke="#000" stroke-width="1.25"/>
<line x1="503.30" y1="220.40" x2="503.30" y2="223.80" stroke="#000" stroke-width="1.25"/>
<line x1="545.80" y1="426.20" x2="545.80" y2="422.80" stroke="#000" stroke-width="1.25"/>
<line x1="545.80" y1="220.40" x2="545.80" y2="223.80" stroke="#000" stroke-width="1.25"/>
<line x1="418.30" y1="225.30" x2="421.70" y2="225.30" stroke="#000" stroke-width="1.25"/>
<line x1="588.30" y1="225.30" x2="584.90" y2="225.30" stroke="#000" stroke-width="1.25"/>
<line x1="418.30" y1="319.70" x2="421.70" y2="319.70" stroke="#000" stroke-width="1.25"/>
<line x1="588.30" y1="319.70" x2="584.90" y2="319.70" stroke="#000" stroke-width="1.25"/>
<line x1="418.30" y1="414.60" x2="421.70" y2="414.60" stroke="#000" stroke-width="1.25"/>
<line x1="588.30" y1="414.60" x2="584.90" y2="414.60" stroke="#000" stroke-width="1.25"/>
<text x="243.82" y="19.90" font-size="8.60" fill="#222" textLength="29.02" lengthAdjust="spacingAndGlyphs">2.20×10</text>
<text x="272.98" y="15.00" font-size="5.50" fill="#222" textLength="4.91" lengthAdjust="spacingAndGlyphs">-4</text>
<text x="423.71" y="20.60" font-size="9.20" fill="#222" textLength="29.94" lengthAdjust="spacingAndGlyphs">1.05×10</text>
<text x="453.38" y="16.00" font-size="5.80" fill="#222" textLength="4.84" lengthAdjust="spacingAndGlyphs">-3</text>
<text x="246.36" y="232.10" font-size="9.20" fill="#222" textLength="26.10" lengthAdjust="spacingAndGlyphs">3.5×10</text>
<text x="272.73" y="227.00" font-size="5.50" fill="#222" textLength="3.84" lengthAdjust="spacingAndGlyphs">-4</text>
<text x="423.21" y="231.30" font-size="9.50" fill="#222" textLength="25.23" lengthAdjust="spacingAndGlyphs">1.7×10</text>
<text x="448.62" y="226.40" font-size="5.50" fill="#222" textLength="4.07" lengthAdjust="spacingAndGlyphs">-3</text>
<text x="372.78" y="199.70" font-size="12.00" fill="#222" textLength="13.74" lengthAdjust="spacingAndGlyphs">(d)</text>
<text x="552.18" y="199.70" font-size="12.00" fill="#222" textLength="13.25" lengthAdjust="spacingAndGlyphs">(e)</text>
<text x="372.45" y="242.40" font-size="12.00" fill="#222" textLength="12.61" lengthAdjust="spacingAndGlyphs">(f)</text>
<text x="553.09" y="242.40" font-size="12.00" fill="#222" textLength="13.63" lengthAdjust="spacingAndGlyphs">(g)</text>
<rect x="291.30" y="212.20" width="60.50" height="16.00" fill="#fff" stroke="#c8c8c8" stroke-width="0.90"/>
<text x="296.02" y="224.80" font-size="10.80" fill="#222" textLength="19.98" lengthAdjust="spacingAndGlyphs">I=10</text>
<text x="315.74" y="219.90" font-size="6.00" fill="#222" textLength="5.27" lengthAdjust="spacingAndGlyphs">13</text>
<text x="323.79" y="224.80" font-size="10.80" fill="#222" textLength="18.93" lengthAdjust="spacingAndGlyphs">W cm</text>
<text x="343.08" y="220.00" font-size="6.00" fill="#222" textLength="4.95" lengthAdjust="spacingAndGlyphs">-2</text>
<rect x="465.30" y="212.60" width="71.50" height="16.40" fill="#fff" stroke="#c8c8c8" stroke-width="0.90"/>
<text x="470.48" y="225.20" font-size="10.30" fill="#222" textLength="26.46" lengthAdjust="spacingAndGlyphs">I=5×10</text>
<text x="496.76" y="220.40" font-size="5.80" fill="#222" textLength="5.04" lengthAdjust="spacingAndGlyphs">13</text>
<text x="504.49" y="225.20" font-size="10.30" fill="#222" textLength="19.43" lengthAdjust="spacingAndGlyphs">W cm</text>
<text x="524.29" y="220.40" font-size="5.80" fill="#222" textLength="4.61" lengthAdjust="spacingAndGlyphs">-2</text>
<line x1="288.20" y1="48.60" x2="312.40" y2="48.60" stroke="#ff0000" stroke-width="1.50"/>
<path d="M300.40 45.10L303.70 50.80H297.10Z" fill="#ff0000"/>
<text x="314.43" y="51.90" font-size="9.60" fill="#222" textLength="15.94" lengthAdjust="spacingAndGlyphs">φ=0</text>
<line x1="288.20" y1="61.40" x2="312.40" y2="61.40" stroke="#8000ff" stroke-width="1.50"/>
<path d="M300.40 58.20L303.40 63.50H297.40Z" fill="#fff" stroke="#8000ff" stroke-width="0.9"/>
<text x="314.43" y="64.70" font-size="9.60" fill="#222" textLength="23.53" lengthAdjust="spacingAndGlyphs">φ=π/4</text>
<line x1="288.20" y1="74.20" x2="312.40" y2="74.20" stroke="#000" stroke-width="1.50"/>
<circle cx="300.40" cy="74.20" r="3.7" fill="#000"/>
<text x="314.42" y="77.50" font-size="9.60" fill="#222" textLength="23.61" lengthAdjust="spacingAndGlyphs">φ=π/2</text>
<line x1="288.20" y1="87.00" x2="312.40" y2="87.00" stroke="#0000ff" stroke-width="1.50"/>
<path d="M300.40 90.50L303.70 84.80H297.10Z" fill="#0000ff"/>
<text x="314.43" y="90.30" font-size="9.60" fill="#222" textLength="27.92" lengthAdjust="spacingAndGlyphs">φ=3π/4</text>
<line x1="288.20" y1="99.80" x2="312.40" y2="99.80" stroke="#35a0a0" stroke-width="1.50"/>
<path d="M300.40 103.00L303.40 97.70H297.40Z" fill="#fff" stroke="#35a0a0" stroke-width="0.9"/>
<text x="314.42" y="103.10" font-size="9.60" fill="#222" textLength="16.13" lengthAdjust="spacingAndGlyphs">φ=π</text>
<text x="233.34" y="436.60" font-size="9.30" fill="#222" textLength="11.82" lengthAdjust="spacingAndGlyphs">0.0</text>
<text x="317.46" y="436.60" font-size="9.30" fill="#222" textLength="11.30" lengthAdjust="spacingAndGlyphs">0.5</text>
<text x="401.49" y="436.60" font-size="9.30" fill="#222" textLength="11.45" lengthAdjust="spacingAndGlyphs">1.0</text>
<text x="413.05" y="436.60" font-size="9.30" fill="#222" textLength="11.39" lengthAdjust="spacingAndGlyphs">0.0</text>
<text x="497.36" y="436.60" font-size="9.30" fill="#222" textLength="11.30" lengthAdjust="spacingAndGlyphs">0.5</text>
<text x="582.39" y="436.80" font-size="9.30" fill="#222" textLength="11.45" lengthAdjust="spacingAndGlyphs">1.0</text>
<text x="301.39" y="448.70" font-size="10.00" fill="#222" textLength="51.80" lengthAdjust="spacingAndGlyphs">Angle β (π)</text>
<text x="483.29" y="448.70" font-size="10.00" fill="#222" textLength="51.70" lengthAdjust="spacingAndGlyphs">Angle β (π)</text>
<text transform="translate(224.90 310.50) rotate(-90)" x="-0.11" y="0" font-size="11.00" fill="#222" textLength="202.18" lengthAdjust="spacingAndGlyphs">Angular distribution of fragments (Arb. Units)</text>
<line x1="634.90" y1="24.60" x2="634.90" y2="196.50" stroke="#e2e2e2" stroke-width="1.00"/>
<line x1="635.60" y1="246.60" x2="635.60" y2="418.40" stroke="#e2e2e2" stroke-width="1.00"/>
<line x1="629.80" y1="172.00" x2="629.80" y2="262.00" stroke="#c4c4c4" stroke-width="0.90"/>
<line x1="649.40" y1="86.00" x2="649.40" y2="364.00" stroke="#c4c4c4" stroke-width="0.90"/>
<path d="M629.8 167.3L627.2 176.5H632.4Z" fill="#c4c4c4"/>
<path d="M649.3 80.5L646.7 89.7H651.9Z" fill="#c4c4c4"/>
<path d="M629.8 266.2L627.2 257.4H632.4Z" fill="#c4c4c4"/>
<path d="M649.6 369.2L647.0 360.2H652.2Z" fill="#c4c4c4"/>
<path d="M646.00 25.80L640.00 67.80L634.40 110.60L629.60 152.60L624.50 194.60" fill="none" stroke="#0a8a0a" stroke-width="1.6"/>
<circle cx="646.00" cy="25.80" r="3.3" fill="#0a8a0a"/>
<circle cx="640.00" cy="67.80" r="3.3" fill="#0a8a0a"/>
<circle cx="634.40" cy="110.60" r="3.3" fill="#0a8a0a"/>
<circle cx="629.60" cy="152.60" r="3.3" fill="#0a8a0a"/>
<circle cx="624.50" cy="194.60" r="3.3" fill="#0a8a0a"/>
<path d="M655.60 25.80L645.60 67.80L634.20 110.60L620.10 152.60L606.20 194.60" fill="none" stroke="#0000ff" stroke-width="1.6"/>
<circle cx="655.60" cy="25.80" r="3.3" fill="#0000ff"/>
<circle cx="645.60" cy="67.80" r="3.3" fill="#0000ff"/>
<circle cx="634.20" cy="110.60" r="3.3" fill="#0000ff"/>
<circle cx="620.10" cy="152.60" r="3.3" fill="#0000ff"/>
<circle cx="606.20" cy="194.60" r="3.3" fill="#0000ff"/>
<path d="M624.90 248.00L631.50 289.30L636.60 332.50L642.30 374.70L649.00 417.20" fill="none" stroke="#0a8a0a" stroke-width="1.6"/>
<circle cx="624.90" cy="248.00" r="3.3" fill="#0a8a0a"/>
<circle cx="631.50" cy="289.30" r="3.3" fill="#0a8a0a"/>
<circle cx="636.60" cy="332.50" r="3.3" fill="#0a8a0a"/>
<circle cx="642.30" cy="374.70" r="3.3" fill="#0a8a0a"/>
<circle cx="649.00" cy="417.20" r="3.3" fill="#0a8a0a"/>
<path d="M610.80 248.00L624.90 289.30L637.60 332.50L648.80 374.70L659.10 417.20" fill="none" stroke="#0000ff" stroke-width="1.6"/>
<circle cx="610.80" cy="248.00" r="3.3" fill="#0000ff"/>
<circle cx="624.90" cy="289.30" r="3.3" fill="#0000ff"/>
<circle cx="637.60" cy="332.50" r="3.3" fill="#0000ff"/>
<circle cx="648.80" cy="374.70" r="3.3" fill="#0000ff"/>
<circle cx="659.10" cy="417.20" r="3.3" fill="#0000ff"/>
<rect x="598.90" y="24.60" width="72.80" height="171.90" fill="none" stroke="#000" stroke-width="1.60"/>
<line x1="598.90" y1="25.80" x2="602.10" y2="25.80" stroke="#000" stroke-width="1.00"/>
<line x1="671.70" y1="25.80" x2="668.50" y2="25.80" stroke="#000" stroke-width="1.00"/>
<line x1="598.90" y1="68.00" x2="602.10" y2="68.00" stroke="#000" stroke-width="1.00"/>
<line x1="671.70" y1="68.00" x2="668.50" y2="68.00" stroke="#000" stroke-width="1.00"/>
<line x1="598.90" y1="110.40" x2="602.10" y2="110.40" stroke="#000" stroke-width="1.00"/>
<line x1="671.70" y1="110.40" x2="668.50" y2="110.40" stroke="#000" stroke-width="1.00"/>
<line x1="598.90" y1="152.60" x2="602.10" y2="152.60" stroke="#000" stroke-width="1.00"/>
<line x1="671.70" y1="152.60" x2="668.50" y2="152.60" stroke="#000" stroke-width="1.00"/>
<line x1="598.90" y1="194.60" x2="602.10" y2="194.60" stroke="#000" stroke-width="1.00"/>
<line x1="671.70" y1="194.60" x2="668.50" y2="194.60" stroke="#000" stroke-width="1.00"/>
<line x1="617.00" y1="196.50" x2="617.00" y2="193.90" stroke="#000" stroke-width="1.00"/>
<line x1="617.00" y1="24.60" x2="617.00" y2="27.20" stroke="#000" stroke-width="1.00"/>
<line x1="635.10" y1="196.50" x2="635.10" y2="193.90" stroke="#000" stroke-width="1.00"/>
<line x1="635.10" y1="24.60" x2="635.10" y2="27.20" stroke="#000" stroke-width="1.00"/>
<line x1="653.10" y1="196.50" x2="653.10" y2="193.90" stroke="#000" stroke-width="1.00"/>
<line x1="653.10" y1="24.60" x2="653.10" y2="27.20" stroke="#000" stroke-width="1.00"/>
<rect x="598.90" y="246.60" width="72.60" height="171.80" fill="none" stroke="#000" stroke-width="1.60"/>
<line x1="598.90" y1="247.80" x2="602.10" y2="247.80" stroke="#000" stroke-width="1.00"/>
<line x1="671.50" y1="247.80" x2="668.30" y2="247.80" stroke="#000" stroke-width="1.00"/>
<line x1="598.90" y1="290.20" x2="602.10" y2="290.20" stroke="#000" stroke-width="1.00"/>
<line x1="671.50" y1="290.20" x2="668.30" y2="290.20" stroke="#000" stroke-width="1.00"/>
<line x1="598.90" y1="332.50" x2="602.10" y2="332.50" stroke="#000" stroke-width="1.00"/>
<line x1="671.50" y1="332.50" x2="668.30" y2="332.50" stroke="#000" stroke-width="1.00"/>
<line x1="598.90" y1="374.80" x2="602.10" y2="374.80" stroke="#000" stroke-width="1.00"/>
<line x1="671.50" y1="374.80" x2="668.30" y2="374.80" stroke="#000" stroke-width="1.00"/>
<line x1="598.90" y1="417.00" x2="602.10" y2="417.00" stroke="#000" stroke-width="1.00"/>
<line x1="671.50" y1="417.00" x2="668.30" y2="417.00" stroke="#000" stroke-width="1.00"/>
<line x1="617.00" y1="418.40" x2="617.00" y2="415.80" stroke="#000" stroke-width="1.00"/>
<line x1="617.00" y1="246.60" x2="617.00" y2="249.20" stroke="#000" stroke-width="1.00"/>
<line x1="635.50" y1="418.40" x2="635.50" y2="415.80" stroke="#000" stroke-width="1.00"/>
<line x1="635.50" y1="246.60" x2="635.50" y2="249.20" stroke="#000" stroke-width="1.00"/>
<line x1="653.20" y1="418.40" x2="653.20" y2="415.80" stroke="#000" stroke-width="1.00"/>
<line x1="653.20" y1="246.60" x2="653.20" y2="249.20" stroke="#000" stroke-width="1.00"/>
<text x="673.74" y="28.30" font-size="8.80" fill="#222" textLength="13.68" lengthAdjust="spacingAndGlyphs">1.0</text>
<text x="674.30" y="112.90" font-size="8.80" fill="#222" textLength="13.11" lengthAdjust="spacingAndGlyphs">0.5</text>
<text x="674.30" y="197.10" font-size="8.80" fill="#222" textLength="13.10" lengthAdjust="spacingAndGlyphs">0.0</text>
<text x="673.74" y="250.30" font-size="8.80" fill="#222" textLength="13.68" lengthAdjust="spacingAndGlyphs">1.0</text>
<text x="674.30" y="335.00" font-size="8.80" fill="#222" textLength="13.11" lengthAdjust="spacingAndGlyphs">0.5</text>
<text x="674.30" y="419.50" font-size="8.80" fill="#222" textLength="13.10" lengthAdjust="spacingAndGlyphs">0.0</text>
<text x="595.71" y="6.70" font-size="8.60" fill="#222" textLength="79.32" lengthAdjust="spacingAndGlyphs">Amplitude modulation</text>
<text x="591.36" y="19.10" font-size="8.80" fill="#222" textLength="14.50" lengthAdjust="spacingAndGlyphs">-0.5</text>
<text x="629.14" y="19.10" font-size="8.80" fill="#222" textLength="11.82" lengthAdjust="spacingAndGlyphs">0.0</text>
<text x="665.64" y="19.10" font-size="8.80" fill="#222" textLength="11.83" lengthAdjust="spacingAndGlyphs">0.5</text>
<text x="589.36" y="427.90" font-size="8.00" fill="#222" textLength="18.88" lengthAdjust="spacingAndGlyphs">-0.04</text>
<text x="626.14" y="427.90" font-size="8.00" fill="#222" textLength="16.73" lengthAdjust="spacingAndGlyphs">0.00</text>
<text x="663.06" y="427.90" font-size="8.00" fill="#222" textLength="15.78" lengthAdjust="spacingAndGlyphs">0.04</text>
<text x="614.64" y="439.60" font-size="8.60" fill="#222" textLength="48.56" lengthAdjust="spacingAndGlyphs">Peak shift (π)</text>
<text x="604.57" y="59.70" font-size="11.60" fill="#222" textLength="14.06" lengthAdjust="spacingAndGlyphs">(h)</text>
<text x="604.57" y="393.70" font-size="11.60" fill="#222" textLength="11.47" lengthAdjust="spacingAndGlyphs">(i)</text>
<text transform="translate(665.00 130.90) rotate(-90)" x="-0.39" y="0" font-size="8.40" fill="#222" textLength="38.71" lengthAdjust="spacingAndGlyphs">CEP φ (π)</text>
<text transform="translate(665.20 350.80) rotate(-90)" x="-0.39" y="0" font-size="8.40" fill="#222" textLength="38.71" lengthAdjust="spacingAndGlyphs">CEP φ (π)</text>
<rect x="597.70" y="201.90" width="60.70" height="16.50" fill="#fff" stroke="#cfcfcf" stroke-width="0.90"/>
<text x="602.17" y="214.40" font-size="10.00" fill="#0a8a0a" textLength="17.17" lengthAdjust="spacingAndGlyphs">I=10</text>
<text x="619.07" y="209.20" font-size="5.80" fill="#0a8a0a" textLength="6.07" lengthAdjust="spacingAndGlyphs">13</text>
<text x="628.39" y="214.40" font-size="10.00" fill="#0a8a0a" textLength="21.55" lengthAdjust="spacingAndGlyphs">W cm</text>
<text x="650.31" y="209.20" font-size="5.80" fill="#0a8a0a" textLength="4.16" lengthAdjust="spacingAndGlyphs">-2</text>
<rect x="605.80" y="222.30" width="71.60" height="17.10" fill="#fff" stroke="#cfcfcf" stroke-width="0.90"/>
<line x1="629.80" y1="222.80" x2="629.80" y2="238.90" stroke="#c4c4c4" stroke-width="0.90"/>
<text x="611.39" y="234.10" font-size="10.00" fill="#2020ff" textLength="11.94" lengthAdjust="spacingAndGlyphs">I=5</text>
<text x="622.67" y="234.10" font-size="10.00" fill="#333" textLength="6.66" lengthAdjust="spacingAndGlyphs">×</text>
<text x="628.09" y="234.10" font-size="10.00" fill="#2020ff" textLength="10.30" lengthAdjust="spacingAndGlyphs">10</text>
<text x="637.99" y="229.60" font-size="5.80" fill="#2020ff" textLength="5.84" lengthAdjust="spacingAndGlyphs">13</text>
<text x="646.59" y="234.10" font-size="10.00" fill="#2020ff" textLength="21.75" lengthAdjust="spacingAndGlyphs">W cm</text>
<text x="668.72" y="229.60" font-size="5.80" fill="#2020ff" textLength="4.05" lengthAdjust="spacingAndGlyphs">-2</text>
<path d="M27.60 395.40L27.73 395.40L27.86 395.40L27.99 395.40L28.12 395.40L28.25 395.40L28.38 395.40L28.51 395.40L28.64 395.40L28.77 395.40L28.90 395.40L29.03 395.40L29.16 395.40L29.29 395.40L29.42 395.40L29.55 395.40L29.68 395.40L29.81 395.40L29.94 395.40L30.07 395.40L30.20 395.40L30.33 395.40L30.46 395.40L30.59 395.40L30.73 395.40L30.86 395.40L30.99 395.40L31.12 395.40L31.25 395.40L31.38 395.40L31.51 395.40L31.64 395.40L31.77 395.40L31.90 395.40L32.03 395.40L32.16 395.40L32.29 395.40L32.42 395.40L32.55 395.40L32.68 395.40L32.81 395.40L32.94 395.40L33.07 395.40L33.20 395.40L33.33 395.40L33.46 395.40L33.59 395.40L33.72 395.40L33.85 395.40L33.98 395.40L34.11 395.40L34.24 395.40L34.37 395.40L34.50 395.40L34.63 395.40L34.76 395.40L34.89 395.40L35.02 395.40L35.15 395.40L35.28 395.40L35.41 395.40L35.54 395.40L35.67 395.40L35.80 395.40L35.93 395.40L36.06 395.40L36.19 395.39L36.32 395.39L36.45 395.39L36.58 395.39L36.72 395.39L36.85 395.39L36.98 395.39L37.11 395.39L37.24 395.39L37.37 395.39L37.50 395.39L37.63 395.38L37.76 395.38L37.89 395.38L38.02 395.38L38.15 395.38L38.28 395.38L38.41 395.37L38.54 395.37L38.67 395.37L38.80 395.37L38.93 395.36L39.06 395.36L39.19 395.36L39.32 395.35L39.45 395.35L39.58 395.34L39.71 395.34L39.84 395.34L39.97 395.33L40.10 395.33L40.23 395.32L40.36 395.32L40.49 395.31L40.62 395.31L40.75 395.30L40.88 395.29L41.01 395.29L41.14 395.28L41.27 395.28L41.40 395.27L41.53 395.26L41.66 395.26L41.79 395.25L41.92 395.24L42.05 395.24L42.18 395.23L42.31 395.22L42.44 395.22L42.57 395.21L42.71 395.21L42.84 395.20L42.97 395.20L43.10 395.19L43.23 395.19L43.36 395.19L43.49 395.19L43.62 395.19L43.75 395.19L43.88 395.19L44.01 395.19L44.14 395.20L44.27 395.20L44.40 395.21L44.53 395.22L44.66 395.24L44.79 395.25L44.92 395.27L45.05 395.29L45.18 395.32L45.31 395.34L45.44 395.37L45.57 395.41L45.70 395.45L45.83 395.49L45.96 395.53L46.09 395.58L46.22 395.64L46.35 395.70L46.48 395.77L46.61 395.84L46.74 395.92L46.87 396.00L47.00 396.09L47.13 396.18L47.26 396.29L47.39 396.40L47.52 396.51L47.65 396.64L47.78 396.77L47.91 396.91L48.04 397.05L48.17 397.21L48.30 397.37L48.43 397.54L48.56 397.72L48.70 397.91L48.83 398.11L48.96 398.31L49.09 398.52L49.22 398.75L49.35 398.98L49.48 399.21L49.61 399.46L49.74 399.71L49.87 399.98L50.00 400.25L50.13 400.52L50.26 400.81L50.39 401.10L50.52 401.39L50.65 401.70L50.78 402.01L50.91 402.32L51.04 402.64L51.17 402.96L51.30 403.29L51.43 403.62L51.56 403.95L51.69 404.29L51.82 404.62L51.95 404.95L52.08 405.29L52.21 405.62L52.34 405.95L52.47 406.28L52.60 406.60L52.73 406.92L52.86 407.24L52.99 407.54L53.12 407.84L53.25 408.13L53.38 408.41L53.51 408.68L53.64 408.94L53.77 409.19L53.90 409.42L54.03 409.63L54.16 409.84L54.29 410.02L54.42 410.19L54.55 410.33L54.69 410.46L54.82 410.57L54.95 410.66L55.08 410.72L55.21 410.76L55.34 410.78L55.47 410.77L55.60 410.74L55.73 410.67L55.86 410.59L55.99 410.47L56.12 410.33L56.25 410.16L56.38 409.96L56.51 409.73L56.64 409.47L56.77 409.18L56.90 408.86L57.03 408.51L57.16 408.13L57.29 407.72L57.42 407.28L57.55 406.81L57.68 406.31L57.81 405.78L57.94 405.22L58.07 404.63L58.20 404.02L58.33 403.37L58.46 402.70L58.59 402.00L58.72 401.28L58.85 400.53L58.98 399.76L59.11 398.96L59.24 398.15L59.37 397.31L59.50 396.45L59.63 395.58L59.76 394.68L59.89 393.77L60.02 392.85L60.15 391.91L60.28 390.96L60.41 390.00L60.54 389.03L60.68 388.05L60.81 387.06L60.94 386.07L61.07 385.08L61.20 384.09L61.33 383.09L61.46 382.10L61.59 381.11L61.72 380.12L61.85 379.14L61.98 378.16L62.11 377.20L62.24 376.24L62.37 375.30L62.50 374.37L62.63 373.45L62.76 372.55L62.89 371.67L63.02 370.81L63.15 369.96L63.28 369.14L63.41 368.34L63.54 367.56L63.67 366.80L63.80 366.08L63.93 365.37L64.06 364.70L64.19 364.05L64.32 363.43L64.45 362.84L64.58 362.29L64.71 361.76L64.84 361.26L64.97 360.80L65.10 360.37L65.23 359.97L65.36 359.60L65.49 359.27L65.62 358.97L65.75 358.71L65.88 358.48L66.01 358.28L66.14 358.12L66.27 357.99L66.40 357.90L66.53 357.84L66.67 357.81L66.80 357.81L66.93 357.85L67.06 357.91L67.19 358.02L67.32 358.15L67.45 358.32L67.58 358.52L67.71 358.76L67.84 359.03L67.97 359.34L68.10 359.68L68.23 360.05L68.36 360.45L68.49 360.89L68.62 361.36L68.75 361.86L68.88 362.40L69.01 362.96L69.14 363.56L69.27 364.18L69.40 364.83L69.53 365.51L69.66 366.22L69.79 366.96L69.92 367.71L70.05 368.50L70.18 369.30L70.31 370.13L70.44 370.98L70.57 371.85L70.70 372.73L70.83 373.64L70.96 374.56L71.09 375.49L71.22 376.44L71.35 377.39L71.48 378.36L71.61 379.34L71.74 380.32L71.87 381.31L72.00 382.30L72.13 383.29L72.26 384.29L72.39 385.28L72.52 386.28L72.66 387.26L72.79 388.25L72.92 389.23L73.05 390.19L73.18 391.15L73.31 392.10L73.44 393.04L73.57 393.96L73.70 394.87L73.83 395.76L73.96 396.63L74.09 397.48L74.22 398.32L74.35 399.13L74.48 399.92L74.61 400.69L74.74 401.43L74.87 402.15L75.00 402.84L75.13 403.50L75.26 404.14L75.39 404.75L75.52 405.34L75.65 405.89L75.78 406.41L75.91 406.91L76.04 407.37L76.17 407.81L76.30 408.21L76.43 408.58L76.56 408.93L76.69 409.24L76.82 409.52L76.95 409.78L77.08 410.00L77.21 410.20L77.34 410.36L77.47 410.50L77.60 410.61L77.73 410.69L77.86 410.74L77.99 410.77L78.12 410.78L78.25 410.75L78.38 410.71L78.51 410.64L78.65 410.55L78.78 410.44L78.91 410.31L79.04 410.15L79.17 409.98L79.30 409.80L79.43 409.59L79.56 409.37L79.69 409.14L79.82 408.89L79.95 408.63L80.08 408.36L80.21 408.07L80.34 407.78L80.47 407.48L80.60 407.17L80.73 406.86L80.86 406.54L80.99 406.21L81.12 405.89L81.25 405.55L81.38 405.22L81.51 404.89L81.64 404.55L81.77 404.22L81.90 403.88L82.03 403.55L82.16 403.22L82.29 402.90L82.42 402.58L82.55 402.26L82.68 401.94L82.81 401.64L82.94 401.33L83.07 401.04L83.20 400.75L83.33 400.47L83.46 400.19L83.59 399.92L83.72 399.66L83.85 399.41L83.98 399.16L84.11 398.93L84.24 398.70L84.37 398.48L84.50 398.27L84.64 398.07L84.77 397.87L84.90 397.69L85.03 397.51L85.16 397.34L85.29 397.18L85.42 397.02L85.55 396.88L85.68 396.74L85.81 396.61L85.94 396.49L86.07 396.37L86.20 396.27L86.33 396.16L86.46 396.07L86.59 395.98L86.72 395.90L86.85 395.82L86.98 395.75L87.11 395.69L87.24 395.63L87.37 395.57L87.50 395.52L87.63 395.48L87.76 395.44L87.89 395.40L88.02 395.37L88.15 395.34L88.28 395.31L88.41 395.29L88.54 395.27L88.67 395.25L88.80 395.23L88.93 395.22L89.06 395.21L89.19 395.20L89.32 395.20L89.45 395.19L89.58 395.19L89.71 395.19L89.84 395.19L89.97 395.19L90.10 395.19L90.23 395.19L90.36 395.19L90.49 395.20L90.63 395.20L90.76 395.21L90.89 395.21L91.02 395.22L91.15 395.22L91.28 395.23L91.41 395.24L91.54 395.24L91.67 395.25L91.80 395.26L91.93 395.26L92.06 395.27L92.19 395.28L92.32 395.28L92.45 395.29L92.58 395.30L92.71 395.30L92.84 395.31L92.97 395.31L93.10 395.32L93.23 395.32L93.36 395.33L93.49 395.33L93.62 395.34L93.75 395.34L93.88 395.35L94.01 395.35L94.14 395.35L94.27 395.36L94.40 395.36L94.53 395.36L94.66 395.37L94.79 395.37L94.92 395.37L95.05 395.37L95.18 395.38L95.31 395.38L95.44 395.38L95.57 395.38L95.70 395.38L95.83 395.38L95.96 395.39L96.09 395.39L96.22 395.39L96.35 395.39L96.48 395.39L96.62 395.39L96.75 395.39L96.88 395.39L97.01 395.39L97.14 395.39L97.27 395.40L97.40 395.40L97.53 395.40L97.66 395.40L97.79 395.40L97.92 395.40L98.05 395.40L98.18 395.40L98.31 395.40L98.44 395.40L98.57 395.40L98.70 395.40L98.83 395.40L98.96 395.40L99.09 395.40L99.22 395.40L99.35 395.40L99.48 395.40L99.61 395.40L99.74 395.40L99.87 395.40L100.00 395.40L100.13 395.40L100.26 395.40L100.39 395.40L100.52 395.40L100.65 395.40L100.78 395.40L100.91 395.40L101.04 395.40L101.17 395.40L101.30 395.40L101.43 395.40L101.56 395.40L101.69 395.40L101.82 395.40L101.95 395.40L102.08 395.40L102.21 395.40L102.34 395.40L102.47 395.40L102.61 395.40L102.74 395.40L102.87 395.40L103.00 395.40L103.13 395.40L103.26 395.40L103.39 395.40L103.52 395.40L103.65 395.40L103.78 395.40L103.91 395.40L104.04 395.40L104.17 395.40L104.30 395.40L104.43 395.40L104.56 395.40L104.69 395.40L104.82 395.40L104.95 395.40L105.08 395.40L105.21 395.40L105.34 395.40L105.47 395.40L105.60 395.40" fill="none" stroke="#222" stroke-width="1.2"/>
<path d="M27.60 395.40L27.73 395.40L27.86 395.40L27.99 395.40L28.12 395.40L28.25 395.40L28.38 395.40L28.51 395.40L28.64 395.40L28.77 395.40L28.90 395.40L29.03 395.40L29.16 395.40L29.29 395.40L29.42 395.40L29.55 395.40L29.68 395.40L29.81 395.40L29.94 395.40L30.07 395.40L30.20 395.40L30.33 395.40L30.46 395.40L30.59 395.40L30.73 395.40L30.86 395.40L30.99 395.40L31.12 395.40L31.25 395.40L31.38 395.40L31.51 395.40L31.64 395.40L31.77 395.40L31.90 395.40L32.03 395.40L32.16 395.40L32.29 395.40L32.42 395.40L32.55 395.40L32.68 395.40L32.81 395.40L32.94 395.40L33.07 395.40L33.20 395.40L33.33 395.40L33.46 395.40L33.59 395.40L33.72 395.40L33.85 395.40L33.98 395.40L34.11 395.40L34.24 395.40L34.37 395.40L34.50 395.40L34.63 395.40L34.76 395.40L34.89 395.40L35.02 395.40L35.15 395.40L35.28 395.40L35.41 395.40L35.54 395.40L35.67 395.40L35.80 395.40L35.93 395.40L36.06 395.39L36.19 395.39L36.32 395.39L36.45 395.39L36.58 395.39L36.72 395.39L36.85 395.39L36.98 395.39L37.11 395.39L37.24 395.39L37.37 395.39L37.50 395.39L37.63 395.39L37.76 395.39L37.89 395.38L38.02 395.38L38.15 395.38L38.28 395.38L38.41 395.38L38.54 395.38L38.67 395.38L38.80 395.38L38.93 395.38L39.06 395.37L39.19 395.37L39.32 395.37L39.45 395.37L39.58 395.37L39.71 395.37L39.84 395.37L39.97 395.37L40.10 395.37L40.23 395.37L40.36 395.37L40.49 395.37L40.62 395.37L40.75 395.37L40.88 395.37L41.01 395.37L41.14 395.37L41.27 395.37L41.40 395.38L41.53 395.38L41.66 395.39L41.79 395.39L41.92 395.40L42.05 395.40L42.18 395.41L42.31 395.42L42.44 395.43L42.57 395.44L42.71 395.45L42.84 395.46L42.97 395.48L43.10 395.50L43.23 395.51L43.36 395.53L43.49 395.56L43.62 395.58L43.75 395.61L43.88 395.63L44.01 395.66L44.14 395.70L44.27 395.73L44.40 395.77L44.53 395.82L44.66 395.86L44.79 395.91L44.92 395.96L45.05 396.02L45.18 396.07L45.31 396.14L45.44 396.20L45.57 396.27L45.70 396.35L45.83 396.43L45.96 396.51L46.09 396.60L46.22 396.69L46.35 396.78L46.48 396.89L46.61 396.99L46.74 397.10L46.87 397.22L47.00 397.33L47.13 397.46L47.26 397.59L47.39 397.72L47.52 397.86L47.65 398.00L47.78 398.15L47.91 398.30L48.04 398.45L48.17 398.61L48.30 398.77L48.43 398.94L48.56 399.11L48.70 399.28L48.83 399.45L48.96 399.63L49.09 399.81L49.22 399.99L49.35 400.17L49.48 400.35L49.61 400.53L49.74 400.71L49.87 400.89L50.00 401.07L50.13 401.25L50.26 401.42L50.39 401.59L50.52 401.76L50.65 401.92L50.78 402.08L50.91 402.23L51.04 402.38L51.17 402.51L51.30 402.64L51.43 402.76L51.56 402.87L51.69 402.98L51.82 403.06L51.95 403.14L52.08 403.21L52.21 403.26L52.34 403.29L52.47 403.32L52.60 403.32L52.73 403.31L52.86 403.28L52.99 403.24L53.12 403.17L53.25 403.09L53.38 402.98L53.51 402.86L53.64 402.71L53.77 402.55L53.90 402.36L54.03 402.14L54.16 401.91L54.29 401.65L54.42 401.36L54.55 401.06L54.69 400.72L54.82 400.37L54.95 399.99L55.08 399.58L55.21 399.15L55.34 398.70L55.47 398.22L55.60 397.71L55.73 397.18L55.86 396.63L55.99 396.06L56.12 395.46L56.25 394.84L56.38 394.20L56.51 393.54L56.64 392.85L56.77 392.15L56.90 391.43L57.03 390.69L57.16 389.93L57.29 389.15L57.42 388.37L57.55 387.56L57.68 386.75L57.81 385.92L57.94 385.08L58.07 384.24L58.20 383.38L58.33 382.52L58.46 381.66L58.59 380.79L58.72 379.92L58.85 379.05L58.98 378.18L59.11 377.31L59.24 376.44L59.37 375.58L59.50 374.73L59.63 373.89L59.76 373.05L59.89 372.23L60.02 371.42L60.15 370.62L60.28 369.84L60.41 369.08L60.54 368.33L60.68 367.61L60.81 366.90L60.94 366.22L61.07 365.56L61.20 364.93L61.33 364.32L61.46 363.75L61.59 363.19L61.72 362.67L61.85 362.18L61.98 361.72L62.11 361.29L62.24 360.90L62.37 360.54L62.50 360.21L62.63 359.92L62.76 359.66L62.89 359.44L63.02 359.26L63.15 359.11L63.28 359.00L63.41 358.93L63.54 358.89L63.67 358.89L63.80 358.93L63.93 359.00L64.06 359.12L64.19 359.27L64.32 359.45L64.45 359.68L64.58 359.94L64.71 360.23L64.84 360.56L64.97 360.92L65.10 361.32L65.23 361.76L65.36 362.22L65.49 362.72L65.62 363.25L65.75 363.81L65.88 364.40L66.01 365.02L66.14 365.66L66.27 366.34L66.40 367.04L66.53 367.76L66.67 368.51L66.80 369.28L66.93 370.08L67.06 370.90L67.19 371.74L67.32 372.60L67.45 373.48L67.58 374.38L67.71 375.29L67.84 376.23L67.97 377.18L68.10 378.15L68.23 379.14L68.36 380.14L68.49 381.15L68.62 382.17L68.75 383.20L68.88 384.25L69.01 385.30L69.14 386.35L69.27 387.41L69.40 388.48L69.53 389.55L69.66 390.62L69.79 391.69L69.92 392.75L70.05 393.82L70.18 394.87L70.31 395.93L70.44 396.97L70.57 398.01L70.70 399.03L70.83 400.05L70.96 401.05L71.09 402.03L71.22 403.00L71.35 403.96L71.48 404.89L71.61 405.80L71.74 406.70L71.87 407.57L72.00 408.41L72.13 409.23L72.26 410.03L72.39 410.80L72.52 411.54L72.66 412.25L72.79 412.93L72.92 413.59L73.05 414.21L73.18 414.80L73.31 415.35L73.44 415.88L73.57 416.37L73.70 416.82L73.83 417.25L73.96 417.63L74.09 417.99L74.22 418.31L74.35 418.59L74.48 418.84L74.61 419.05L74.74 419.23L74.87 419.37L75.00 419.49L75.13 419.56L75.26 419.61L75.39 419.62L75.52 419.60L75.65 419.54L75.78 419.46L75.91 419.35L76.04 419.20L76.17 419.03L76.30 418.83L76.43 418.61L76.56 418.36L76.69 418.08L76.82 417.78L76.95 417.46L77.08 417.12L77.21 416.76L77.34 416.38L77.47 415.98L77.60 415.56L77.73 415.13L77.86 414.68L77.99 414.22L78.12 413.75L78.25 413.27L78.38 412.79L78.51 412.29L78.65 411.78L78.78 411.27L78.91 410.76L79.04 410.24L79.17 409.72L79.30 409.20L79.43 408.68L79.56 408.16L79.69 407.65L79.82 407.13L79.95 406.62L80.08 406.12L80.21 405.62L80.34 405.12L80.47 404.64L80.60 404.16L80.73 403.69L80.86 403.23L80.99 402.78L81.12 402.34L81.25 401.91L81.38 401.49L81.51 401.09L81.64 400.70L81.77 400.31L81.90 399.95L82.03 399.59L82.16 399.25L82.29 398.92L82.42 398.60L82.55 398.30L82.68 398.01L82.81 397.73L82.94 397.47L83.07 397.22L83.20 396.98L83.33 396.75L83.46 396.54L83.59 396.34L83.72 396.15L83.85 395.98L83.98 395.81L84.11 395.66L84.24 395.52L84.37 395.39L84.50 395.27L84.64 395.16L84.77 395.05L84.90 394.96L85.03 394.88L85.16 394.80L85.29 394.74L85.42 394.68L85.55 394.63L85.68 394.58L85.81 394.54L85.94 394.51L86.07 394.48L86.20 394.46L86.33 394.45L86.46 394.44L86.59 394.43L86.72 394.43L86.85 394.43L86.98 394.44L87.11 394.44L87.24 394.45L87.37 394.47L87.50 394.48L87.63 394.50L87.76 394.52L87.89 394.54L88.02 394.56L88.15 394.59L88.28 394.61L88.41 394.64L88.54 394.66L88.67 394.69L88.80 394.71L88.93 394.74L89.06 394.77L89.19 394.79L89.32 394.82L89.45 394.85L89.58 394.87L89.71 394.90L89.84 394.92L89.97 394.95L90.10 394.97L90.23 394.99L90.36 395.02L90.49 395.04L90.63 395.06L90.76 395.08L90.89 395.10L91.02 395.12L91.15 395.14L91.28 395.15L91.41 395.17L91.54 395.18L91.67 395.20L91.80 395.21L91.93 395.23L92.06 395.24L92.19 395.25L92.32 395.26L92.45 395.27L92.58 395.28L92.71 395.29L92.84 395.30L92.97 395.31L93.10 395.32L93.23 395.32L93.36 395.33L93.49 395.34L93.62 395.34L93.75 395.35L93.88 395.35L94.01 395.36L94.14 395.36L94.27 395.36L94.40 395.37L94.53 395.37L94.66 395.37L94.79 395.38L94.92 395.38L95.05 395.38L95.18 395.38L95.31 395.39L95.44 395.39L95.57 395.39L95.70 395.39L95.83 395.39L95.96 395.39L96.09 395.39L96.22 395.39L96.35 395.40L96.48 395.40L96.62 395.40L96.75 395.40L96.88 395.40L97.01 395.40L97.14 395.40L97.27 395.40L97.40 395.40L97.53 395.40L97.66 395.40L97.79 395.40L97.92 395.40L98.05 395.40L98.18 395.40L98.31 395.40L98.44 395.40L98.57 395.40L98.70 395.40L98.83 395.40L98.96 395.40L99.09 395.40L99.22 395.40L99.35 395.40L99.48 395.40L99.61 395.40L99.74 395.40L99.87 395.40L100.00 395.40L100.13 395.40L100.26 395.40L100.39 395.40L100.52 395.40L100.65 395.40L100.78 395.40L100.91 395.40L101.04 395.40L101.17 395.40L101.30 395.40L101.43 395.40L101.56 395.40L101.69 395.40L101.82 395.40L101.95 395.40L102.08 395.40L102.21 395.40L102.34 395.40L102.47 395.40L102.61 395.40L102.74 395.40L102.87 395.40L103.00 395.40L103.13 395.40L103.26 395.40L103.39 395.40L103.52 395.40L103.65 395.40L103.78 395.40L103.91 395.40L104.04 395.40L104.17 395.40L104.30 395.40L104.43 395.40L104.56 395.40L104.69 395.40L104.82 395.40L104.95 395.40L105.08 395.40L105.21 395.40L105.34 395.40L105.47 395.40L105.60 395.40" fill="none" stroke="#ff2060" stroke-width="1.2"/>
<path d="M27.60 395.40L27.73 395.40L27.86 395.40L27.99 395.40L28.12 395.40L28.25 395.40L28.38 395.40L28.51 395.40L28.64 395.40L28.77 395.40L28.90 395.40L29.03 395.40L29.16 395.40L29.29 395.40L29.42 395.40L29.55 395.40L29.68 395.40L29.81 395.40L29.94 395.40L30.07 395.40L30.20 395.40L30.33 395.40L30.46 395.40L30.59 395.40L30.73 395.40L30.86 395.40L30.99 395.40L31.12 395.40L31.25 395.40L31.38 395.40L31.51 395.40L31.64 395.40L31.77 395.40L31.90 395.40L32.03 395.40L32.16 395.40L32.29 395.40L32.42 395.40L32.55 395.40L32.68 395.40L32.81 395.40L32.94 395.40L33.07 395.40L33.20 395.40L33.33 395.40L33.46 395.40L33.59 395.40L33.72 395.40L33.85 395.40L33.98 395.40L34.11 395.40L34.24 395.40L34.37 395.40L34.50 395.40L34.63 395.40L34.76 395.40L34.89 395.40L35.02 395.40L35.15 395.40L35.28 395.40L35.41 395.40L35.54 395.40L35.67 395.40L35.80 395.40L35.93 395.40L36.06 395.39L36.19 395.39L36.32 395.39L36.45 395.39L36.58 395.39L36.72 395.39L36.85 395.39L36.98 395.39L37.11 395.39L37.24 395.39L37.37 395.39L37.50 395.39L37.63 395.39L37.76 395.39L37.89 395.38L38.02 395.38L38.15 395.38L38.28 395.38L38.41 395.38L38.54 395.38L38.67 395.38L38.80 395.38L38.93 395.38L39.06 395.37L39.19 395.37L39.32 395.37L39.45 395.37L39.58 395.37L39.71 395.37L39.84 395.37L39.97 395.37L40.10 395.37L40.23 395.37L40.36 395.37L40.49 395.37L40.62 395.37L40.75 395.37L40.88 395.37L41.01 395.37L41.14 395.37L41.27 395.37L41.40 395.38L41.53 395.38L41.66 395.39L41.79 395.39L41.92 395.40L42.05 395.40L42.18 395.41L42.31 395.42L42.44 395.43L42.57 395.44L42.71 395.45L42.84 395.46L42.97 395.48L43.10 395.50L43.23 395.51L43.36 395.53L43.49 395.56L43.62 395.58L43.75 395.61L43.88 395.63L44.01 395.66L44.14 395.70L44.27 395.73L44.40 395.77L44.53 395.82L44.66 395.86L44.79 395.91L44.92 395.96L45.05 396.02L45.18 396.07L45.31 396.14L45.44 396.20L45.57 396.27L45.70 396.35L45.83 396.43L45.96 396.51L46.09 396.60L46.22 396.69L46.35 396.78L46.48 396.89L46.61 396.99L46.74 397.10L46.87 397.22L47.00 397.33L47.13 397.46L47.26 397.59L47.39 397.72L47.52 397.86L47.65 398.00L47.78 398.15L47.91 398.30L48.04 398.45L48.17 398.61L48.30 398.77L48.43 398.94L48.56 399.11L48.70 399.28L48.83 399.45L48.96 399.63L49.09 399.81L49.22 399.99L49.35 400.17L49.48 400.35L49.61 400.53L49.74 400.71L49.87 400.89L50.00 401.07L50.13 401.25L50.26 401.42L50.39 401.59L50.52 401.76L50.65 401.92L50.78 402.08L50.91 402.23L51.04 402.38L51.17 402.51L51.30 402.64L51.43 402.76L51.56 402.87L51.69 402.98L51.82 403.06L51.95 403.14L52.08 403.21L52.21 403.26L52.34 403.29L52.47 403.32L52.60 403.32L52.73 403.31L52.86 403.28L52.99 403.24L53.12 403.17L53.25 403.09L53.38 402.98L53.51 402.86L53.64 402.71L53.77 402.55L53.90 402.36L54.03 402.14L54.16 401.91L54.29 401.65L54.42 401.36L54.55 401.06L54.69 400.72L54.82 400.37L54.95 399.99L55.08 399.58L55.21 399.15L55.34 398.70L55.47 398.22L55.60 397.71L55.73 397.18L55.86 396.63L55.99 396.06L56.12 395.46L56.25 394.84L56.38 394.20L56.51 393.54L56.64 392.85L56.77 392.15L56.90 391.43L57.03 390.69L57.16 389.93L57.29 389.15L57.42 388.37L57.55 387.56L57.68 386.75L57.81 385.92L57.94 385.08L58.07 384.24L58.20 383.38L58.33 382.52L58.46 381.66L58.59 380.79L58.72 379.92L58.85 379.05L58.98 378.18L59.11 377.31L59.24 376.44L59.37 375.58L59.50 374.73L59.63 373.89L59.76 373.05L59.89 372.23L60.02 371.42L60.15 370.62L60.28 369.84L60.41 369.08L60.54 368.33L60.68 367.61L60.81 366.90L60.94 366.22L61.07 365.56L61.20 364.93L61.33 364.32L61.46 363.75L61.59 363.19L61.72 362.67L61.85 362.18L61.98 361.72L62.11 361.29L62.24 360.90L62.37 360.54L62.50 360.21L62.63 359.92L62.76 359.66L62.89 359.44L63.02 359.26L63.15 359.11L63.28 359.00L63.41 358.93L63.54 358.89L63.67 358.89L63.80 358.93L63.93 359.00L64.06 359.12L64.19 359.27L64.32 359.45L64.45 359.68L64.58 359.94L64.71 360.23L64.84 360.56L64.97 360.92L65.10 361.32L65.23 361.76L65.36 362.22L65.49 362.72L65.62 363.25L65.75 363.81L65.88 364.40L66.01 365.02L66.14 365.66L66.27 366.34L66.40 367.04L66.53 367.76L66.67 368.51L66.80 369.28L66.93 370.08L67.06 370.90L67.19 371.74L67.32 372.60L67.45 373.48L67.58 374.38L67.71 375.29L67.84 376.23L67.97 377.18L68.10 378.15L68.23 379.14L68.36 380.14L68.49 381.15L68.62 382.17L68.75 383.20L68.88 384.25L69.01 385.30L69.14 386.35L69.27 387.41L69.40 388.48L69.53 389.55L69.66 390.62L69.79 391.69L69.92 392.75L70.05 393.82L70.18 394.87L70.31 395.93L70.44 396.97L70.57 398.01L70.70 399.03L70.83 400.05L70.96 401.05L71.09 402.03L71.22 403.00L71.35 403.96L71.48 404.89L71.61 405.80L71.74 406.70L71.87 407.57L72.00 408.41L72.13 409.23L72.26 410.03L72.39 410.80L72.52 411.54L72.66 412.25L72.79 412.93L72.92 413.59L73.05 414.21L73.18 414.80L73.31 415.35L73.44 415.88L73.57 416.37L73.70 416.82L73.83 417.25L73.96 417.63L74.09 417.99L74.22 418.31L74.35 418.59L74.48 418.84L74.61 419.05L74.74 419.23L74.87 419.37L75.00 419.49L75.13 419.56L75.26 419.61L75.39 419.62L75.52 419.60L75.65 419.54L75.78 419.46L75.91 419.35L76.04 419.20L76.17 419.03L76.30 418.83L76.43 418.61L76.56 418.36L76.69 418.08L76.82 417.78L76.95 417.46L77.08 417.12L77.21 416.76L77.34 416.38L77.47 415.98L77.60 415.56L77.73 415.13L77.86 414.68L77.99 414.22L78.12 413.75L78.25 413.27L78.38 412.79L78.51 412.29L78.65 411.78L78.78 411.27L78.91 410.76L79.04 410.24L79.17 409.72L79.30 409.20L79.43 408.68L79.56 408.16L79.69 407.65L79.82 407.13L79.95 406.62L80.08 406.12L80.21 405.62L80.34 405.12L80.47 404.64L80.60 404.16L80.73 403.69L80.86 403.23L80.99 402.78L81.12 402.34L81.25 401.91L81.38 401.49L81.51 401.09L81.64 400.70L81.77 400.31L81.90 399.95L82.03 399.59L82.16 399.25L82.29 398.92L82.42 398.60L82.55 398.30L82.68 398.01L82.81 397.73L82.94 397.47L83.07 397.22L83.20 396.98L83.33 396.75L83.46 396.54L83.59 396.34L83.72 396.15L83.85 395.98L83.98 395.81L84.11 395.66L84.24 395.52L84.37 395.39L84.50 395.27L84.64 395.16L84.77 395.05L84.90 394.96L85.03 394.88L85.16 394.80L85.29 394.74L85.42 394.68L85.55 394.63L85.68 394.58L85.81 394.54L85.94 394.51L86.07 394.48L86.20 394.46L86.33 394.45L86.46 394.44L86.59 394.43L86.72 394.43L86.85 394.43L86.98 394.44L87.11 394.44L87.24 394.45L87.37 394.47L87.50 394.48L87.63 394.50L87.76 394.52L87.89 394.54L88.02 394.56L88.15 394.59L88.28 394.61L88.41 394.64L88.54 394.66L88.67 394.69L88.80 394.71L88.93 394.74L89.06 394.77L89.19 394.79L89.32 394.82L89.45 394.85L89.58 394.87L89.71 394.90L89.84 394.92L89.97 394.95L90.10 394.97L90.23 394.99L90.36 395.02L90.49 395.04L90.63 395.06L90.76 395.08L90.89 395.10L91.02 395.12L91.15 395.14L91.28 395.15L91.41 395.17L91.54 395.18L91.67 395.20L91.80 395.21L91.93 395.23L92.06 395.24L92.19 395.25L92.32 395.26L92.45 395.27L92.58 395.28L92.71 395.29L92.84 395.30L92.97 395.31L93.10 395.32L93.23 395.32L93.36 395.33L93.49 395.34L93.62 395.34L93.75 395.35L93.88 395.35L94.01 395.36L94.14 395.36L94.27 395.36L94.40 395.37L94.53 395.37L94.66 395.37L94.79 395.38L94.92 395.38L95.05 395.38L95.18 395.38L95.31 395.39L95.44 395.39L95.57 395.39L95.70 395.39L95.83 395.39L95.96 395.39L96.09 395.39L96.22 395.39L96.35 395.40L96.48 395.40L96.62 395.40L96.75 395.40L96.88 395.40L97.01 395.40L97.14 395.40L97.27 395.40L97.40 395.40L97.53 395.40L97.66 395.40L97.79 395.40L97.92 395.40L98.05 395.40L98.18 395.40L98.31 395.40L98.44 395.40L98.57 395.40L98.70 395.40L98.83 395.40L98.96 395.40L99.09 395.40L99.22 395.40L99.35 395.40L99.48 395.40L99.61 395.40L99.74 395.40L99.87 395.40L100.00 395.40L100.13 395.40L100.26 395.40L100.39 395.40L100.52 395.40L100.65 395.40L100.78 395.40L100.91 395.40L101.04 395.40L101.17 395.40L101.30 395.40L101.43 395.40L101.56 395.40L101.69 395.40L101.82 395.40L101.95 395.40L102.08 395.40L102.21 395.40L102.34 395.40L102.47 395.40L102.61 395.40L102.74 395.40L102.87 395.40L103.00 395.40L103.13 395.40L103.26 395.40L103.39 395.40L103.52 395.40L103.65 395.40L103.78 395.40L103.91 395.40L104.04 395.40L104.17 395.40L104.30 395.40L104.43 395.40L104.56 395.40L104.69 395.40L104.82 395.40L104.95 395.40L105.08 395.40L105.21 395.40L105.34 395.40L105.47 395.40L105.60 395.40" fill="none" stroke="#ff00ff" stroke-width="1.2" stroke-dasharray="1.2 1.6"/>
<path d="M27.60 395.40L27.73 395.40L27.86 395.40L27.99 395.40L28.12 395.40L28.25 395.40L28.38 395.40L28.51 395.40L28.64 395.40L28.77 395.40L28.90 395.40L29.03 395.40L29.16 395.40L29.29 395.40L29.42 395.40L29.55 395.40L29.68 395.40L29.81 395.40L29.94 395.40L30.07 395.40L30.20 395.40L30.33 395.40L30.46 395.40L30.59 395.40L30.73 395.40L30.86 395.40L30.99 395.40L31.12 395.40L31.25 395.40L31.38 395.40L31.51 395.40L31.64 395.40L31.77 395.40L31.90 395.40L32.03 395.40L32.16 395.40L32.29 395.40L32.42 395.40L32.55 395.40L32.68 395.40L32.81 395.40L32.94 395.40L33.07 395.40L33.20 395.40L33.33 395.40L33.46 395.40L33.59 395.40L33.72 395.40L33.85 395.40L33.98 395.40L34.11 395.40L34.24 395.40L34.37 395.40L34.50 395.40L34.63 395.40L34.76 395.40L34.89 395.40L35.02 395.40L35.15 395.40L35.28 395.40L35.41 395.40L35.54 395.40L35.67 395.40L35.80 395.40L35.93 395.40L36.06 395.40L36.19 395.40L36.32 395.40L36.45 395.40L36.58 395.40L36.72 395.40L36.85 395.40L36.98 395.40L37.11 395.40L37.24 395.40L37.37 395.40L37.50 395.40L37.63 395.40L37.76 395.40L37.89 395.40L38.02 395.40L38.15 395.40L38.28 395.40L38.41 395.40L38.54 395.40L38.67 395.40L38.80 395.40L38.93 395.40L39.06 395.41L39.19 395.41L39.32 395.41L39.45 395.41L39.58 395.41L39.71 395.42L39.84 395.42L39.97 395.42L40.10 395.43L40.23 395.43L40.36 395.44L40.49 395.44L40.62 395.45L40.75 395.46L40.88 395.46L41.01 395.47L41.14 395.48L41.27 395.49L41.40 395.50L41.53 395.51L41.66 395.52L41.79 395.54L41.92 395.55L42.05 395.57L42.18 395.58L42.31 395.60L42.44 395.62L42.57 395.64L42.71 395.66L42.84 395.69L42.97 395.71L43.10 395.74L43.23 395.77L43.36 395.80L43.49 395.83L43.62 395.87L43.75 395.90L43.88 395.94L44.01 395.98L44.14 396.02L44.27 396.07L44.40 396.11L44.53 396.16L44.66 396.21L44.79 396.27L44.92 396.32L45.05 396.38L45.18 396.44L45.31 396.50L45.44 396.56L45.57 396.63L45.70 396.70L45.83 396.76L45.96 396.84L46.09 396.91L46.22 396.98L46.35 397.06L46.48 397.13L46.61 397.21L46.74 397.29L46.87 397.37L47.00 397.45L47.13 397.53L47.26 397.61L47.39 397.68L47.52 397.76L47.65 397.84L47.78 397.92L47.91 397.99L48.04 398.06L48.17 398.13L48.30 398.20L48.43 398.26L48.56 398.32L48.70 398.37L48.83 398.42L48.96 398.47L49.09 398.51L49.22 398.54L49.35 398.56L49.48 398.58L49.61 398.59L49.74 398.60L49.87 398.59L50.00 398.57L50.13 398.54L50.26 398.51L50.39 398.46L50.52 398.40L50.65 398.32L50.78 398.24L50.91 398.14L51.04 398.02L51.17 397.90L51.30 397.75L51.43 397.59L51.56 397.42L51.69 397.23L51.82 397.02L51.95 396.79L52.08 396.55L52.21 396.29L52.34 396.01L52.47 395.72L52.60 395.40L52.73 395.07L52.86 394.71L52.99 394.34L53.12 393.95L53.25 393.54L53.38 393.11L53.51 392.67L53.64 392.20L53.77 391.72L53.90 391.22L54.03 390.70L54.16 390.17L54.29 389.61L54.42 389.05L54.55 388.46L54.69 387.87L54.82 387.26L54.95 386.63L55.08 385.99L55.21 385.34L55.34 384.68L55.47 384.01L55.60 383.34L55.73 382.65L55.86 381.96L55.99 381.26L56.12 380.56L56.25 379.85L56.38 379.14L56.51 378.43L56.64 377.73L56.77 377.02L56.90 376.32L57.03 375.62L57.16 374.93L57.29 374.25L57.42 373.57L57.55 372.91L57.68 372.26L57.81 371.62L57.94 370.99L58.07 370.38L58.20 369.79L58.33 369.22L58.46 368.67L58.59 368.14L58.72 367.63L58.85 367.14L58.98 366.68L59.11 366.25L59.24 365.84L59.37 365.46L59.50 365.12L59.63 364.80L59.76 364.51L59.89 364.26L60.02 364.03L60.15 363.85L60.28 363.69L60.41 363.57L60.54 363.49L60.68 363.44L60.81 363.43L60.94 363.46L61.07 363.52L61.20 363.62L61.33 363.76L61.46 363.94L61.59 364.15L61.72 364.40L61.85 364.68L61.98 365.01L62.11 365.37L62.24 365.77L62.37 366.20L62.50 366.67L62.63 367.17L62.76 367.71L62.89 368.28L63.02 368.88L63.15 369.52L63.28 370.18L63.41 370.88L63.54 371.61L63.67 372.36L63.80 373.15L63.93 373.96L64.06 374.79L64.19 375.65L64.32 376.53L64.45 377.43L64.58 378.36L64.71 379.30L64.84 380.27L64.97 381.25L65.10 382.24L65.23 383.25L65.36 384.27L65.49 385.31L65.62 386.35L65.75 387.41L65.88 388.47L66.01 389.55L66.14 390.62L66.27 391.70L66.40 392.79L66.53 393.88L66.67 394.97L66.80 396.06L66.93 397.14L67.06 398.23L67.19 399.32L67.32 400.40L67.45 401.47L67.58 402.54L67.71 403.60L67.84 404.66L67.97 405.70L68.10 406.74L68.23 407.76L68.36 408.76L68.49 409.75L68.62 410.73L68.75 411.69L68.88 412.63L69.01 413.55L69.14 414.45L69.27 415.33L69.40 416.18L69.53 417.01L69.66 417.81L69.79 418.59L69.92 419.34L70.05 420.06L70.18 420.75L70.31 421.41L70.44 422.04L70.57 422.64L70.70 423.20L70.83 423.73L70.96 424.23L71.09 424.69L71.22 425.12L71.35 425.51L71.48 425.86L71.61 426.18L71.74 426.46L71.87 426.70L72.00 426.90L72.13 427.07L72.26 427.20L72.39 427.29L72.52 427.35L72.66 427.37L72.79 427.35L72.92 427.29L73.05 427.20L73.18 427.08L73.31 426.92L73.44 426.72L73.57 426.49L73.70 426.23L73.83 425.94L73.96 425.62L74.09 425.26L74.22 424.88L74.35 424.47L74.48 424.03L74.61 423.56L74.74 423.07L74.87 422.56L75.00 422.02L75.13 421.47L75.26 420.89L75.39 420.29L75.52 419.68L75.65 419.05L75.78 418.41L75.91 417.76L76.04 417.09L76.17 416.42L76.30 415.73L76.43 415.04L76.56 414.34L76.69 413.64L76.82 412.93L76.95 412.22L77.08 411.51L77.21 410.81L77.34 410.10L77.47 409.40L77.60 408.70L77.73 408.01L77.86 407.33L77.99 406.65L78.12 405.98L78.25 405.32L78.38 404.68L78.51 404.04L78.65 403.42L78.78 402.81L78.91 402.22L79.04 401.64L79.17 401.07L79.30 400.52L79.43 399.99L79.56 399.48L79.69 398.98L79.82 398.50L79.95 398.04L80.08 397.60L80.21 397.17L80.34 396.77L80.47 396.38L80.60 396.01L80.73 395.67L80.86 395.33L80.99 395.02L81.12 394.73L81.25 394.45L81.38 394.20L81.51 393.96L81.64 393.74L81.77 393.53L81.90 393.34L82.03 393.17L82.16 393.02L82.29 392.88L82.42 392.75L82.55 392.64L82.68 392.54L82.81 392.46L82.94 392.39L83.07 392.33L83.20 392.28L83.33 392.25L83.46 392.22L83.59 392.21L83.72 392.20L83.85 392.21L83.98 392.22L84.11 392.24L84.24 392.27L84.37 392.30L84.50 392.34L84.64 392.39L84.77 392.44L84.90 392.49L85.03 392.55L85.16 392.62L85.29 392.68L85.42 392.75L85.55 392.83L85.68 392.90L85.81 392.98L85.94 393.05L86.07 393.13L86.20 393.21L86.33 393.29L86.46 393.37L86.59 393.45L86.72 393.53L86.85 393.60L86.98 393.68L87.11 393.76L87.24 393.83L87.37 393.91L87.50 393.98L87.63 394.05L87.76 394.12L87.89 394.18L88.02 394.25L88.15 394.31L88.28 394.37L88.41 394.43L88.54 394.49L88.67 394.54L88.80 394.60L88.93 394.65L89.06 394.69L89.19 394.74L89.32 394.78L89.45 394.83L89.58 394.87L89.71 394.90L89.84 394.94L89.97 394.97L90.10 395.01L90.23 395.04L90.36 395.06L90.49 395.09L90.63 395.12L90.76 395.14L90.89 395.16L91.02 395.18L91.15 395.20L91.28 395.22L91.41 395.24L91.54 395.25L91.67 395.27L91.80 395.28L91.93 395.29L92.06 395.30L92.19 395.31L92.32 395.32L92.45 395.33L92.58 395.34L92.71 395.35L92.84 395.35L92.97 395.36L93.10 395.36L93.23 395.37L93.36 395.37L93.49 395.38L93.62 395.38L93.75 395.38L93.88 395.39L94.01 395.39L94.14 395.39L94.27 395.39L94.40 395.40L94.53 395.40L94.66 395.40L94.79 395.40L94.92 395.40L95.05 395.40L95.18 395.40L95.31 395.40L95.44 395.40L95.57 395.40L95.70 395.40L95.83 395.40L95.96 395.40L96.09 395.40L96.22 395.40L96.35 395.40L96.48 395.40L96.62 395.40L96.75 395.40L96.88 395.40L97.01 395.40L97.14 395.40L97.27 395.40L97.40 395.40L97.53 395.40L97.66 395.40L97.79 395.40L97.92 395.40L98.05 395.40L98.18 395.40L98.31 395.40L98.44 395.40L98.57 395.40L98.70 395.40L98.83 395.40L98.96 395.40L99.09 395.40L99.22 395.40L99.35 395.40L99.48 395.40L99.61 395.40L99.74 395.40L99.87 395.40L100.00 395.40L100.13 395.40L100.26 395.40L100.39 395.40L100.52 395.40L100.65 395.40L100.78 395.40L100.91 395.40L101.04 395.40L101.17 395.40L101.30 395.40L101.43 395.40L101.56 395.40L101.69 395.40L101.82 395.40L101.95 395.40L102.08 395.40L102.21 395.40L102.34 395.40L102.47 395.40L102.61 395.40L102.74 395.40L102.87 395.40L103.00 395.40L103.13 395.40L103.26 395.40L103.39 395.40L103.52 395.40L103.65 395.40L103.78 395.40L103.91 395.40L104.04 395.40L104.17 395.40L104.30 395.40L104.43 395.40L104.56 395.40L104.69 395.40L104.82 395.40L104.95 395.40L105.08 395.40L105.21 395.40L105.34 395.40L105.47 395.40L105.60 395.40" fill="none" stroke="#0000ff" stroke-width="1.2"/>
<rect x="27.60" y="357.50" width="78.00" height="73.00" fill="none" stroke="#000" stroke-width="1.40"/>
<line x1="47.10" y1="430.50" x2="47.10" y2="428.00" stroke="#000" stroke-width="0.90"/>
<line x1="47.10" y1="357.50" x2="47.10" y2="360.00" stroke="#000" stroke-width="0.90"/>
<line x1="66.60" y1="430.50" x2="66.60" y2="428.00" stroke="#000" stroke-width="0.90"/>
<line x1="66.60" y1="357.50" x2="66.60" y2="360.00" stroke="#000" stroke-width="0.90"/>
<line x1="86.10" y1="430.50" x2="86.10" y2="428.00" stroke="#000" stroke-width="0.90"/>
<line x1="86.10" y1="357.50" x2="86.10" y2="360.00" stroke="#000" stroke-width="0.90"/>
<line x1="27.60" y1="358.90" x2="30.10" y2="358.90" stroke="#000" stroke-width="0.90"/>
<line x1="105.60" y1="358.90" x2="103.10" y2="358.90" stroke="#000" stroke-width="0.90"/>
<line x1="27.60" y1="377.15" x2="30.10" y2="377.15" stroke="#000" stroke-width="0.90"/>
<line x1="105.60" y1="377.15" x2="103.10" y2="377.15" stroke="#000" stroke-width="0.90"/>
<line x1="27.60" y1="395.40" x2="30.10" y2="395.40" stroke="#000" stroke-width="0.90"/>
<line x1="105.60" y1="395.40" x2="103.10" y2="395.40" stroke="#000" stroke-width="0.90"/>
<line x1="27.60" y1="413.65" x2="30.10" y2="413.65" stroke="#000" stroke-width="0.90"/>
<line x1="105.60" y1="413.65" x2="103.10" y2="413.65" stroke="#000" stroke-width="0.90"/>
<line x1="27.60" y1="431.90" x2="30.10" y2="431.90" stroke="#000" stroke-width="0.90"/>
<line x1="105.60" y1="431.90" x2="103.10" y2="431.90" stroke="#000" stroke-width="0.90"/>
<text x="21.18" y="361.40" font-size="6.80" fill="#222" textLength="2.41" lengthAdjust="spacingAndGlyphs">1</text>
<text x="20.48" y="397.60" font-size="6.80" fill="#222" textLength="4.25" lengthAdjust="spacingAndGlyphs">0</text>
<text x="18.35" y="433.90" font-size="6.80" fill="#222" textLength="5.55" lengthAdjust="spacingAndGlyphs">-1</text>
<text x="22.39" y="439.30" font-size="7.10" fill="#222" textLength="10.22" lengthAdjust="spacingAndGlyphs">0.0</text>
<text x="61.70" y="439.30" font-size="7.10" fill="#222" textLength="9.81" lengthAdjust="spacingAndGlyphs">0.5</text>
<text x="100.28" y="439.30" font-size="7.10" fill="#222" textLength="10.23" lengthAdjust="spacingAndGlyphs">1.0</text>
<text x="51.47" y="447.90" font-size="8.00" fill="#222" textLength="26.95" lengthAdjust="spacingAndGlyphs">Time (fs)</text>
<text x="32.73" y="372.50" font-size="8.90" fill="#222" textLength="12.55" lengthAdjust="spacingAndGlyphs">(b)</text>
<text transform="translate(15.10 429.10) rotate(-90)" x="-0.19" y="0" font-size="7.30" fill="#333" textLength="69.29" lengthAdjust="spacingAndGlyphs">Electric field (Arb. Units)</text>
<path d="M130.27 430.94L130.65 430.59L131.03 430.25L131.40 429.90L131.76 429.54L132.11 429.19L132.45 428.83L132.79 428.46L133.12 428.10L133.44 427.73L133.75 427.35L134.06 426.98L134.36 426.60L134.66 426.22L134.94 425.83L135.23 425.45L135.50 425.05L135.77 424.66L136.03 424.27L136.29 423.87L136.54 423.47L136.79 423.06L137.03 422.66L137.26 422.25L137.49 421.84L137.71 421.43L137.93 421.01L138.15 420.59L138.36 420.18L138.56 419.75L138.76 419.33L138.96 418.90L139.15 418.48L139.34 418.05L139.52 417.61L139.70 417.18L139.88 416.75L140.05 416.31L140.22 415.87L140.39 415.43L140.55 414.99L140.71 414.54L140.87 414.10L141.02 413.65L141.17 413.20L141.32 412.75L141.47 412.30L141.61 411.85L141.75 411.40L141.89 410.94L142.03 410.49L142.16 410.03L142.30 409.57L142.43 409.11L142.56 408.65L142.69 408.19L142.82 407.73L142.95 407.27L143.07 406.81L143.20 406.34L143.33 405.88L143.45 405.42L143.58 404.95L143.70 404.48L143.82 404.02L143.95 403.55L144.07 403.08L144.20 402.62L144.32 402.15L144.45 401.68L144.57 401.21L144.70 400.75L144.83 400.28L144.96 399.81L145.09 399.34L145.22 398.87L145.35 398.40L145.49 397.94L145.62 397.47L145.76 397.00L145.90 396.54L146.04 396.07L146.18 395.60L146.33 395.14L146.48 394.67L146.63 394.21L146.78 393.74L146.94 393.28L147.10 392.82L147.26 392.36L147.43 391.90L147.60 391.44L147.77 390.98L147.95 390.52L148.13 390.06L148.31 389.61L148.50 389.15L148.69 388.70L148.89 388.24L149.09 387.79L149.29 387.34L149.50 386.89L149.72 386.45L149.94 386.00L150.16 385.56L150.39 385.11L150.62 384.67L150.86 384.23L151.11 383.79L151.36 383.36L151.62 382.92L151.88 382.49L152.15 382.06L152.43 381.63L152.71 381.20L152.99 380.78L153.29 380.36L153.59 379.94L153.89 379.53L154.21 379.12L154.52 378.72L154.85 378.32L155.17 377.93L155.51 377.55L155.85 377.18L156.19 376.82L156.54 376.47L156.89 376.13L157.25 375.80L157.61 375.48L157.98 375.18L158.35 374.89L158.72 374.61L159.10 374.35L159.49 374.10L159.87 373.88L160.26 373.66L160.66 373.47L161.05 373.30L161.45 373.14L161.86 373.00L162.26 372.89L162.67 372.80L163.08 372.72L163.50 372.68L163.91 372.65L164.33 372.65L164.75 372.67L165.18 372.72L165.60 372.79L166.02 372.88L166.44 372.99L166.86 373.12L167.28 373.27L167.70 373.44L168.11 373.63L168.52 373.83L168.92 374.05L169.32 374.28L169.72 374.53L170.11 374.80L170.49 375.07L170.86 375.36L171.22 375.66L171.58 375.97L171.93 376.30L172.27 376.63L172.60 376.97L172.92 377.32L173.24 377.68L173.55 378.05L173.85 378.43L174.14 378.82L174.43 379.21L174.71 379.61L174.98 380.02L175.25 380.43L175.51 380.86L175.76 381.28L176.01 381.72L176.26 382.16L176.49 382.60L176.73 383.05L176.96 383.50L177.18 383.96L177.40 384.42L177.62 384.89L177.83 385.35L178.04 385.82L178.25 386.30L178.45 386.77L178.65 387.25L178.85 387.73L179.04 388.21L179.23 388.69L179.42 389.17L179.61 389.65L179.80 390.14L179.98 390.62L180.17 391.10L180.35 391.58L180.53 392.05L180.71 392.53L180.90 393.00L181.08 393.47L181.26 393.94L181.44 394.41L181.62 394.87L181.80 395.34L181.99 395.80L182.17 396.25L182.35 396.71L182.53 397.16L182.72 397.61L182.90 398.06L183.09 398.51L183.27 398.95L183.46 399.40L183.65 399.84L183.84 400.28L184.03 400.72L184.22 401.15L184.41 401.59L184.61 402.02L184.80 402.45L185.00 402.88L185.20 403.31L185.40 403.74L185.60 404.16L185.80 404.59L186.01 405.01L186.21 405.43L186.42 405.85L186.63 406.27L186.85 406.69L187.06 407.11L187.28 407.52L187.50 407.94L187.72 408.35L187.95 408.77L188.18 409.18L188.41 409.59L188.64 410.00L188.87 410.41L189.11 410.82L189.35 411.23L189.60 411.64L189.85 412.04L190.10 412.45L190.35 412.86L190.61 413.26L190.87 413.67L191.13 414.07L191.40 414.47L191.67 414.87L191.95 415.27L192.22 415.67L192.51 416.06L192.79 416.46L193.08 416.85L193.37 417.23L193.67 417.62L193.97 418.00L194.28 418.38L194.58 418.75L194.90 419.13L195.21 419.49L195.53 419.86L195.86 420.22L196.19 420.57L196.52 420.92L196.86 421.27L197.20 421.61L197.55 421.94L197.90 422.27L198.26 422.60L198.62 422.92L198.98 423.23L199.35 423.54L199.73 423.84L200.11 424.13L200.49 424.42L200.88 424.70L201.27 424.97L201.67 425.24L202.08 425.49L202.49 425.74L202.90 425.99L203.32 426.22L203.75 426.45L204.18 426.66L204.61 426.87L205.05 427.07L205.50 427.26L205.95 427.44L206.41 427.62L206.87 427.78L207.34 427.93L207.82 428.07L208.30 428.21" fill="none" stroke="#222" stroke-width="1.25"/>
<path d="M130.10 430.71L130.39 430.32L130.68 429.91L130.96 429.51L131.23 429.11L131.51 428.70L131.77 428.29L132.03 427.87L132.29 427.46L132.55 427.04L132.79 426.62L133.04 426.20L133.28 425.77L133.51 425.35L133.75 424.92L133.97 424.49L134.20 424.06L134.42 423.62L134.64 423.19L134.85 422.75L135.06 422.31L135.27 421.87L135.47 421.42L135.67 420.98L135.86 420.53L136.06 420.08L136.25 419.63L136.44 419.18L136.62 418.73L136.80 418.27L136.98 417.82L137.16 417.36L137.34 416.90L137.51 416.44L137.68 415.98L137.85 415.52L138.01 415.06L138.18 414.59L138.34 414.13L138.50 413.66L138.66 413.20L138.81 412.73L138.97 412.26L139.12 411.79L139.28 411.32L139.43 410.85L139.58 410.38L139.73 409.91L139.88 409.43L140.02 408.96L140.17 408.49L140.32 408.01L140.46 407.54L140.61 407.06L140.75 406.59L140.89 406.11L141.04 405.63L141.18 405.16L141.33 404.68L141.47 404.20L141.61 403.73L141.76 403.25L141.90 402.77L142.05 402.30L142.19 401.82L142.34 401.34L142.48 400.87L142.63 400.39L142.78 399.92L142.92 399.44L143.07 398.97L143.23 398.49L143.38 398.02L143.53 397.54L143.68 397.07L143.84 396.60L144.00 396.13L144.16 395.65L144.32 395.18L144.48 394.71L144.65 394.25L144.81 393.78L144.98 393.31L145.15 392.84L145.32 392.38L145.50 391.91L145.68 391.45L145.86 390.99L146.04 390.53L146.23 390.07L146.41 389.61L146.61 389.15L146.80 388.69L147.00 388.24L147.20 387.79L147.40 387.33L147.61 386.88L147.82 386.43L148.03 385.99L148.25 385.54L148.47 385.10L148.70 384.66L148.93 384.21L149.16 383.78L149.40 383.34L149.64 382.90L149.88 382.47L150.13 382.04L150.39 381.61L150.65 381.18L150.91 380.76L151.18 380.33L151.45 379.91L151.73 379.49L152.01 379.08L152.30 378.66L152.59 378.25L152.89 377.84L153.19 377.44L153.50 377.03L153.82 376.63L154.13 376.24L154.46 375.85L154.79 375.47L155.12 375.09L155.46 374.73L155.80 374.37L156.15 374.03L156.50 373.69L156.86 373.37L157.22 373.06L157.59 372.77L157.96 372.49L158.33 372.23L158.71 371.98L159.09 371.75L159.47 371.54L159.86 371.36L160.25 371.19L160.65 371.04L161.05 370.91L161.45 370.81L161.86 370.74L162.27 370.69L162.68 370.66L163.10 370.66L163.52 370.69L163.94 370.74L164.36 370.82L164.78 370.93L165.20 371.06L165.63 371.20L166.05 371.37L166.47 371.57L166.89 371.78L167.31 372.00L167.72 372.25L168.14 372.51L168.54 372.79L168.94 373.08L169.34 373.39L169.73 373.70L170.12 374.03L170.50 374.37L170.87 374.72L171.23 375.08L171.58 375.45L171.93 375.82L172.27 376.20L172.60 376.59L172.92 376.99L173.23 377.39L173.54 377.80L173.84 378.21L174.13 378.63L174.42 379.05L174.70 379.48L174.97 379.91L175.24 380.35L175.50 380.80L175.75 381.24L176.00 381.70L176.25 382.15L176.49 382.61L176.72 383.07L176.95 383.54L177.18 384.00L177.40 384.47L177.61 384.95L177.83 385.42L178.04 385.90L178.25 386.38L178.45 386.85L178.65 387.33L178.85 387.82L179.05 388.30L179.24 388.78L179.43 389.26L179.62 389.74L179.81 390.23L180.00 390.71L180.18 391.19L180.37 391.67L180.55 392.14L180.74 392.62L180.92 393.09L181.10 393.57L181.29 394.04L181.47 394.50L181.66 394.97L181.84 395.43L182.02 395.90L182.21 396.36L182.40 396.82L182.58 397.27L182.77 397.73L182.96 398.18L183.15 398.64L183.33 399.09L183.53 399.53L183.72 399.98L183.91 400.43L184.10 400.87L184.30 401.31L184.49 401.76L184.69 402.20L184.89 402.63L185.09 403.07L185.30 403.51L185.50 403.94L185.71 404.37L185.91 404.81L186.12 405.24L186.34 405.67L186.55 406.10L186.77 406.52L186.99 406.95L187.21 407.38L187.43 407.80L187.66 408.22L187.89 408.65L188.12 409.07L188.35 409.49L188.59 409.91L188.83 410.33L189.07 410.75L189.32 411.17L189.57 411.58L189.82 412.00L190.08 412.42L190.34 412.83L190.60 413.25L190.87 413.66L191.14 414.08L191.41 414.49L191.69 414.90L191.97 415.30L192.25 415.71L192.54 416.11L192.83 416.52L193.13 416.91L193.43 417.31L193.73 417.70L194.04 418.09L194.36 418.48L194.67 418.86L194.99 419.24L195.32 419.61L195.65 419.98L195.98 420.35L196.32 420.71L196.66 421.07L197.01 421.42L197.36 421.76L197.72 422.10L198.08 422.44L198.45 422.76L198.82 423.09L199.19 423.40L199.57 423.71L199.96 424.01L200.35 424.31L200.74 424.60L201.15 424.88L201.55 425.15L201.96 425.42L202.38 425.68L202.80 425.93L203.23 426.17L203.66 426.40L204.10 426.62L204.54 426.84L204.99 427.04L205.45 427.24L205.91 427.43L206.37 427.60L206.85 427.77L207.32 427.93L207.81 428.07L208.30 428.21" fill="none" stroke="#ff0000" stroke-width="1.25"/>
<path d="M130.13 430.72L130.34 430.28L130.55 429.84L130.75 429.40L130.95 428.96L131.15 428.51L131.35 428.06L131.54 427.61L131.74 427.16L131.93 426.71L132.11 426.26L132.30 425.80L132.48 425.34L132.66 424.88L132.84 424.42L133.02 423.96L133.19 423.50L133.37 423.03L133.54 422.56L133.71 422.09L133.88 421.62L134.04 421.15L134.21 420.68L134.37 420.21L134.53 419.73L134.69 419.25L134.85 418.78L135.01 418.30L135.16 417.82L135.32 417.34L135.47 416.86L135.63 416.37L135.78 415.89L135.93 415.41L136.08 414.92L136.23 414.44L136.38 413.95L136.53 413.46L136.68 412.97L136.83 412.48L136.97 412.00L137.12 411.51L137.27 411.02L137.41 410.53L137.56 410.03L137.71 409.54L137.85 409.05L138.00 408.56L138.14 408.07L138.29 407.57L138.44 407.08L138.58 406.59L138.73 406.10L138.88 405.60L139.02 405.11L139.17 404.62L139.32 404.12L139.47 403.63L139.62 403.14L139.77 402.65L139.92 402.15L140.07 401.66L140.23 401.17L140.38 400.68L140.54 400.19L140.69 399.70L140.85 399.21L141.01 398.72L141.17 398.23L141.33 397.74L141.49 397.26L141.66 396.77L141.82 396.28L141.99 395.80L142.16 395.31L142.33 394.83L142.50 394.35L142.68 393.87L142.86 393.38L143.03 392.90L143.21 392.43L143.40 391.95L143.58 391.47L143.77 391.00L143.96 390.52L144.15 390.05L144.34 389.58L144.54 389.11L144.74 388.64L144.94 388.17L145.14 387.70L145.35 387.24L145.56 386.78L145.77 386.32L145.99 385.86L146.21 385.40L146.43 384.94L146.65 384.49L146.88 384.03L147.11 383.58L147.35 383.13L147.58 382.69L147.82 382.24L148.07 381.80L148.32 381.36L148.57 380.92L148.82 380.48L149.08 380.05L149.34 379.61L149.61 379.18L149.88 378.75L150.16 378.33L150.43 377.90L150.72 377.48L151.00 377.06L151.29 376.65L151.59 376.23L151.89 375.82L152.19 375.41L152.50 375.01L152.81 374.60L153.13 374.20L153.45 373.81L153.78 373.41L154.11 373.02L154.45 372.64L154.79 372.27L155.13 371.90L155.48 371.55L155.83 371.21L156.19 370.88L156.55 370.56L156.92 370.26L157.29 369.98L157.67 369.72L158.05 369.47L158.43 369.25L158.82 369.05L159.21 368.87L159.61 368.72L160.01 368.60L160.42 368.50L160.83 368.43L161.24 368.39L161.66 368.38L162.08 368.40L162.50 368.45L162.93 368.54L163.35 368.64L163.78 368.78L164.21 368.94L164.65 369.12L165.08 369.32L165.51 369.55L165.94 369.80L166.36 370.07L166.79 370.35L167.21 370.65L167.63 370.97L168.04 371.31L168.45 371.65L168.86 372.01L169.26 372.39L169.65 372.77L170.04 373.16L170.42 373.56L170.80 373.96L171.16 374.38L171.52 374.79L171.86 375.22L172.20 375.64L172.53 376.07L172.86 376.50L173.17 376.94L173.48 377.38L173.78 377.82L174.07 378.27L174.35 378.72L174.63 379.17L174.90 379.62L175.17 380.08L175.43 380.54L175.68 381.00L175.93 381.47L176.17 381.93L176.41 382.40L176.64 382.87L176.87 383.34L177.09 383.81L177.31 384.29L177.53 384.76L177.74 385.24L177.94 385.72L178.15 386.19L178.35 386.67L178.55 387.15L178.75 387.63L178.94 388.11L179.13 388.59L179.32 389.07L179.51 389.55L179.70 390.03L179.89 390.51L180.07 390.99L180.26 391.47L180.44 391.94L180.63 392.42L180.81 392.90L181.00 393.37L181.18 393.84L181.37 394.31L181.55 394.78L181.74 395.25L181.93 395.72L182.12 396.19L182.30 396.65L182.50 397.12L182.69 397.58L182.88 398.04L183.07 398.50L183.27 398.96L183.46 399.42L183.66 399.88L183.86 400.33L184.06 400.79L184.26 401.24L184.46 401.70L184.67 402.15L184.87 402.60L185.08 403.05L185.29 403.50L185.51 403.95L185.72 404.39L185.94 404.84L186.16 405.28L186.38 405.73L186.60 406.17L186.83 406.61L187.05 407.05L187.28 407.49L187.52 407.93L187.75 408.37L187.99 408.81L188.23 409.25L188.48 409.68L188.73 410.12L188.98 410.55L189.23 410.98L189.49 411.42L189.75 411.85L190.01 412.28L190.28 412.71L190.55 413.14L190.82 413.56L191.10 413.99L191.38 414.42L191.66 414.84L191.95 415.26L192.24 415.68L192.54 416.09L192.84 416.51L193.14 416.92L193.45 417.33L193.76 417.73L194.08 418.13L194.40 418.53L194.72 418.92L195.05 419.31L195.39 419.69L195.72 420.07L196.07 420.45L196.41 420.81L196.77 421.18L197.12 421.54L197.48 421.89L197.85 422.24L198.22 422.58L198.60 422.91L198.98 423.24L199.37 423.56L199.76 423.87L200.16 424.18L200.56 424.48L200.97 424.77L201.38 425.05L201.80 425.33L202.23 425.60L202.66 425.85L203.10 426.10L203.54 426.34L203.99 426.58L204.44 426.80L204.90 427.01L205.37 427.21L205.84 427.40L206.32 427.58L206.80 427.76L207.30 427.92L207.79 428.07L208.30 428.20" fill="none" stroke="#0000ff" stroke-width="1.25"/>
<rect x="130.10" y="357.50" width="78.40" height="73.30" fill="none" stroke="#000" stroke-width="1.40"/>
<line x1="149.80" y1="430.80" x2="149.80" y2="428.30" stroke="#000" stroke-width="0.90"/>
<line x1="149.80" y1="357.50" x2="149.80" y2="360.00" stroke="#000" stroke-width="0.90"/>
<line x1="169.50" y1="430.80" x2="169.50" y2="428.30" stroke="#000" stroke-width="0.90"/>
<line x1="169.50" y1="357.50" x2="169.50" y2="360.00" stroke="#000" stroke-width="0.90"/>
<line x1="188.90" y1="430.80" x2="188.90" y2="428.30" stroke="#000" stroke-width="0.90"/>
<line x1="188.90" y1="357.50" x2="188.90" y2="360.00" stroke="#000" stroke-width="0.90"/>
<line x1="130.10" y1="372.50" x2="132.60" y2="372.50" stroke="#000" stroke-width="0.90"/>
<line x1="208.50" y1="372.50" x2="206.00" y2="372.50" stroke="#000" stroke-width="0.90"/>
<line x1="130.10" y1="401.40" x2="132.60" y2="401.40" stroke="#000" stroke-width="0.90"/>
<line x1="208.50" y1="401.40" x2="206.00" y2="401.40" stroke="#000" stroke-width="0.90"/>
<text x="212.38" y="374.30" font-size="7.60" fill="#222" textLength="3.62" lengthAdjust="spacingAndGlyphs">2</text>
<text x="212.40" y="433.00" font-size="7.60" fill="#222" textLength="3.89" lengthAdjust="spacingAndGlyphs">0</text>
<text x="125.51" y="438.90" font-size="7.30" fill="#222" textLength="9.37" lengthAdjust="spacingAndGlyphs">0.0</text>
<text x="164.81" y="438.90" font-size="7.30" fill="#222" textLength="9.59" lengthAdjust="spacingAndGlyphs">0.5</text>
<text x="203.65" y="438.90" font-size="7.30" fill="#222" textLength="9.23" lengthAdjust="spacingAndGlyphs">1.0</text>
<text x="146.37" y="447.50" font-size="7.40" fill="#222" textLength="42.18" lengthAdjust="spacingAndGlyphs">Energy (a.u.)</text>
<text x="184.00" y="372.50" font-size="9.50" fill="#222" textLength="12.71" lengthAdjust="spacingAndGlyphs">(c)</text>
<text transform="translate(226.80 435.20) rotate(-90)" x="-0.20" y="0" font-size="6.90" fill="#333" textLength="84.60" lengthAdjust="spacingAndGlyphs">Electric spectrum  (Arb. Units)</text>
<rect x="98.5" y="363.6" width="43" height="25.6" fill="#fff"/>
<line x1="99.20" y1="367.60" x2="114.70" y2="367.60" stroke="#222" stroke-width="1.00"/>
<circle cx="106.90" cy="367.60" r="3.0" fill="#000"/>
<text x="115.71" y="369.90" font-size="6.60" fill="#333" textLength="20.15" lengthAdjust="spacingAndGlyphs">CEP=0</text>
<line x1="99.20" y1="376.35" x2="114.70" y2="376.35" stroke="#ff3040" stroke-width="1.00"/>
<path d="M106.90 372.95L110.30 378.65H103.50Z" fill="#ff00ff"/>
<text x="115.72" y="378.65" font-size="6.60" fill="#333" textLength="24.78" lengthAdjust="spacingAndGlyphs">CEP=π/4</text>
<line x1="99.20" y1="385.10" x2="114.70" y2="385.10" stroke="#4040ff" stroke-width="1.00"/>
<path d="M106.90 388.50L110.30 382.80H103.50Z" fill="#0000ff"/>
<text x="115.72" y="387.40" font-size="6.60" fill="#333" textLength="25.05" lengthAdjust="spacingAndGlyphs">CEP=π/2</text>
</svg>
</body></html>
